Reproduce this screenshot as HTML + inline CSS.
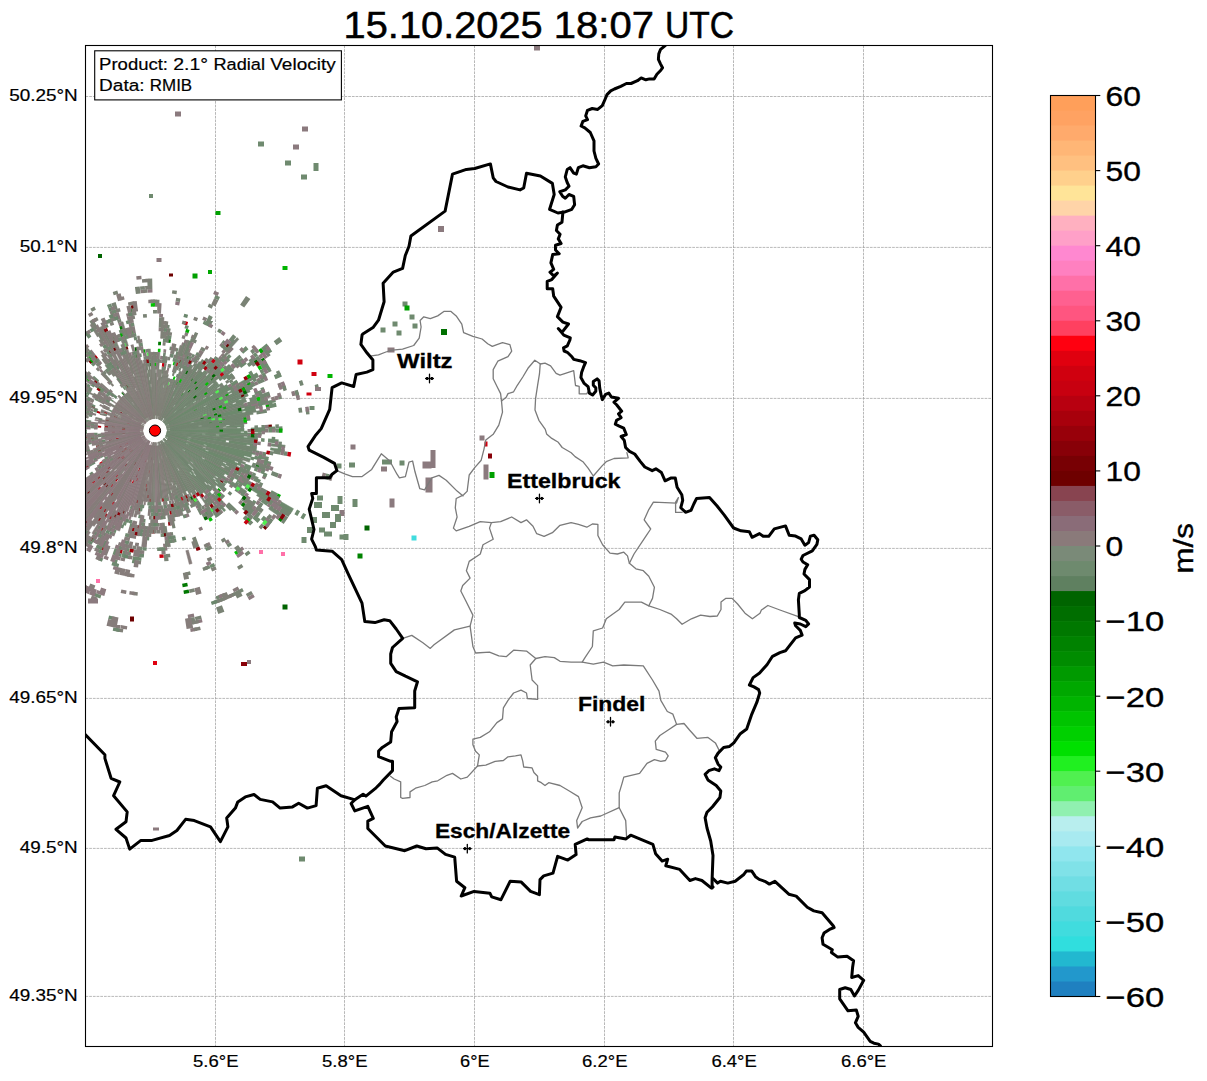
<!DOCTYPE html><html><head><meta charset="utf-8"><style>html,body{margin:0;padding:0;background:#fff;}body{width:1207px;height:1081px;overflow:hidden;position:relative;}svg{position:absolute;left:0;top:0;}text{font-family:"Liberation Sans",sans-serif;}</style></head><body>
<svg width="1207" height="1081" viewBox="0 0 1207 1081">
<defs><clipPath id="ax"><rect x="85.5" y="45.5" width="907" height="1001"/></clipPath></defs>
<text x="343.60" y="37.90" font-size="36.80" textLength="199.14" lengthAdjust="spacingAndGlyphs" stroke="#000" stroke-width="0.5">15.10.2025</text><text x="553.80" y="37.90" font-size="36.80" textLength="100.23" lengthAdjust="spacingAndGlyphs" stroke="#000" stroke-width="0.5">18:07</text><text x="665.09" y="37.90" font-size="36.80" textLength="68.95" lengthAdjust="spacingAndGlyphs" stroke="#000" stroke-width="0.5">UTC</text>
<g clip-path="url(#ax)">
<g stroke="#a0a0a0" stroke-width="0.75" stroke-dasharray="2.7 1.0" fill="none">
<path d="M85.5 96.5 H992.5"/>
<path d="M85.5 247.4 H992.5"/>
<path d="M85.5 398.4 H992.5"/>
<path d="M85.5 548.4 H992.5"/>
<path d="M85.5 698.4 H992.5"/>
<path d="M85.5 848.4 H992.5"/>
<path d="M85.5 996.4 H992.5"/>
<path d="M215.5 45.5 V1046.5"/>
<path d="M344.5 45.5 V1046.5"/>
<path d="M474.5 45.5 V1046.5"/>
<path d="M604.5 45.5 V1046.5"/>
<path d="M733.5 45.5 V1046.5"/>
<path d="M863.5 45.5 V1046.5"/>
</g>
<g><path fill="#6f8a6f" stroke="#6f8a6f" stroke-width="0.5" d="M170.5 430.8L219.5 431.3L219.5 429.9L170.5 430.4ZM223.0 431.3L244.0 431.5L244.0 429.7L223.0 429.9ZM170.5 430.5L244.0 430.0L244.0 428.1L170.5 430.2ZM251.0 429.9L265.0 429.8L265.0 427.5L251.0 427.9ZM170.5 430.0L222.9 427.8L222.9 426.3L170.5 429.6ZM226.4 427.6L243.9 426.9L243.8 425.0L226.4 426.1ZM170.2 427.5L190.8 423.4L190.6 422.6L170.1 427.2ZM194.2 422.7L242.2 413.0L241.9 411.2L194.0 421.9ZM166.7 428.0L207.7 419.0L207.5 417.9L166.7 427.8ZM221.4 416.0L255.6 408.5L255.1 406.4L221.1 414.6ZM166.7 427.8L238.2 410.8L237.7 409.0L166.6 427.6ZM245.0 409.2L275.6 401.9L275.0 399.3L244.5 407.3ZM169.9 426.2L203.4 416.3L203.1 415.3L169.8 425.9ZM206.8 415.4L243.7 404.5L243.2 402.6L206.5 414.3ZM173.0 424.6L232.8 404.7L232.2 403.1L172.9 424.2ZM166.2 426.4L248.3 395.9L247.5 394.0L166.2 426.2ZM169.2 424.4L239.9 393.9L239.1 392.1L169.1 424.1ZM168.9 423.7L194.0 411.3L193.5 410.4L168.7 423.4ZM197.1 409.7L215.9 400.4L215.3 399.1L196.7 408.8ZM219.0 398.8L234.7 391.0L233.9 389.4L218.4 397.5ZM165.6 424.9L233.3 388.3L232.4 386.6L165.4 424.7ZM239.4 384.9L257.9 375.0L256.7 372.8L238.5 383.2ZM165.5 424.7L235.6 385.2L234.6 383.5L165.3 424.5ZM168.4 422.8L228.7 387.3L227.8 385.8L168.2 422.5ZM165.2 424.3L210.1 397.0L209.3 395.8L165.1 424.1ZM164.9 423.8L222.7 384.3L221.7 382.9L164.8 423.6ZM167.5 421.4L218.2 384.0L217.2 382.7L167.3 421.1ZM164.0 422.7L206.0 385.6L205.1 384.6L163.8 422.5ZM163.6 422.2L211.1 375.7L209.9 374.5L163.4 422.0ZM165.9 419.6L195.4 389.7L194.5 388.8L165.6 419.3ZM197.8 387.2L215.0 369.7L213.7 368.5L196.9 386.3ZM163.0 421.6L188.5 392.8L187.7 392.1L162.8 421.5ZM190.9 390.2L207.1 371.9L205.9 370.8L190.0 389.5ZM225.7 351.0L235.0 340.5L233.1 338.8L224.0 349.5ZM160.9 420.2L173.0 398.9L172.4 398.5L160.7 420.0ZM174.8 395.8L186.9 374.5L185.7 373.9L174.0 395.4ZM166.0 446.1L200.5 494.6L201.8 493.6L166.3 445.9ZM164.6 442.7L219.0 511.3L220.7 510.0L164.9 442.5ZM165.0 442.4L205.9 490.4L207.1 489.3L165.3 442.2ZM212.7 498.4L224.0 511.7L225.7 510.2L214.1 497.2ZM163.7 438.9L214.4 487.1L215.6 485.9L163.9 438.7ZM164.0 438.6L190.1 461.8L190.8 461.1L164.1 438.4ZM192.8 464.1L221.6 489.7L222.8 488.3L193.5 463.3ZM166.9 440.5L212.8 478.4L213.8 477.2L167.1 440.2ZM167.4 439.8L220.8 479.5L221.8 478.1L167.6 439.6ZM167.9 439.2L223.3 476.0L224.2 474.5L168.1 438.9ZM165.2 436.9L233.8 479.1L234.8 477.4L165.4 436.7ZM248.7 488.2L266.6 499.2L268.0 496.9L249.9 486.3ZM269.6 501.1L290.4 513.9L292.1 511.1L271.0 498.7ZM168.3 438.5L201.5 458.1L202.0 457.1L168.5 438.2ZM204.5 459.9L228.6 474.1L229.5 472.6L205.1 458.8ZM252.7 488.4L270.8 499.1L272.2 496.6L253.9 486.3ZM279.8 504.4L291.9 511.5L293.5 508.7L281.3 501.8ZM168.6 438.0L220.8 466.5L221.6 465.1L168.8 437.7ZM165.7 436.0L225.2 465.7L225.9 464.3L165.8 435.7ZM166.0 435.4L236.6 466.2L237.3 464.5L166.1 435.2ZM166.1 435.2L185.5 443.3L185.7 442.6L166.2 435.0ZM188.7 444.6L240.4 466.1L241.1 464.4L189.0 443.9ZM166.2 435.0L205.2 450.5L205.6 449.4L166.2 434.8ZM208.5 451.8L234.5 462.1L235.1 460.4L208.9 450.6ZM169.8 435.3L186.5 440.6L186.7 439.9L169.9 435.0ZM189.8 441.6L249.8 460.7L250.5 458.7L190.0 440.9ZM166.5 434.0L203.4 445.0L203.7 444.0L166.6 433.8ZM206.7 446.0L243.6 457.0L244.2 455.2L207.1 444.9ZM166.6 433.8L250.8 457.4L251.4 455.3L166.6 433.6ZM166.6 433.6L186.9 438.9L187.1 438.2L166.7 433.4ZM190.3 439.8L251.3 455.7L251.8 453.7L190.5 439.1ZM170.1 434.2L255.1 454.8L255.6 452.7L170.1 433.9ZM166.8 432.6L225.5 442.5L225.7 441.0L166.9 432.4ZM228.9 443.1L246.2 446.0L246.5 444.1L229.2 441.6ZM270.4 450.1L284.2 452.4L284.6 449.7L270.7 447.7ZM170.3 432.9L225.7 441.3L225.9 439.8L170.4 432.6ZM229.2 441.8L253.4 445.5L253.7 443.4L229.4 440.3ZM170.4 432.1L257.5 440.7L257.7 438.5L170.5 431.8ZM167.0 431.6L201.8 434.4L201.9 433.4L167.0 431.3ZM219.3 435.8L243.7 437.7L243.8 435.9L219.4 434.4ZM167.0 431.1L261.4 435.4L261.5 433.2L167.0 430.9ZM170.5 431.0L240.5 433.0L240.5 431.2L170.5 430.7Z"/><path fill="#007800" d="M219.5 431.7L223.0 431.7L223.0 429.5L219.5 429.5ZM208.6 424.0L212.1 423.5L211.8 421.7L208.3 422.2ZM218.1 417.1L221.5 416.4L221.0 414.2L217.6 415.1ZM214.2 415.8L217.6 414.9L217.0 412.9L213.7 413.8ZM212.7 410.7L216.0 409.5L215.2 407.5L212.0 408.8ZM216.1 400.7L219.2 399.2L218.2 397.1L215.1 398.7ZM263.1 362.9L266.0 361.1L263.7 357.4L260.8 359.4ZM211.6 381.3L214.2 379.0L212.5 377.1L209.9 379.5ZM195.6 389.9L198.1 387.4L196.6 386.0L194.3 388.6ZM195.0 384.5L197.3 381.9L195.6 380.5L193.4 383.2ZM191.7 381.9L193.8 379.1L192.0 377.8L190.0 380.7ZM188.1 359.4L189.6 356.3L187.1 355.1L185.7 358.4ZM170.4 342.9L171.0 339.5L168.0 339.0L167.5 342.5ZM160.9 345.3L161.1 341.8L158.2 341.7L158.1 345.2ZM151.6 366.2L151.4 362.7L149.1 362.9L149.4 366.3ZM134.0 311.9L133.4 308.5L129.3 309.3L130.0 312.7ZM138.1 357.5L137.3 354.1L134.7 354.8L135.7 358.1ZM123.8 328.8L122.7 325.4L119.3 326.6L120.4 329.9ZM124.8 394.6L122.5 391.9L121.2 393.0L123.6 395.6ZM182.1 583.7L182.7 587.2L187.9 586.2L187.2 582.7ZM183.4 590.6L184.0 594.1L189.4 593.0L188.6 589.6ZM240.7 505.0L243.4 507.3L245.9 504.3L243.1 502.1ZM278.0 519.8L280.9 521.9L283.8 517.7L280.9 515.7ZM247.3 490.4L250.2 492.3L252.2 489.1L249.2 487.3ZM255.1 466.9L258.4 468.1L259.6 464.7L256.3 463.6Z"/><path fill="#877b7b" d="M247.5 432.1L251.0 432.2L251.0 429.0L247.5 429.1ZM265.0 432.4L268.5 432.5L268.5 428.7L265.0 428.8ZM265.0 428.6L268.5 428.5L268.3 424.8L264.9 424.9ZM246.6 417.6L250.1 417.2L249.6 414.0L246.1 414.6ZM257.8 402.9L261.2 402.0L260.2 398.5L256.9 399.6ZM267.4 398.3L270.8 397.3L269.6 393.5L266.3 394.5ZM278.8 387.8L282.1 386.7L280.6 382.5L277.3 383.8ZM255.5 385.8L258.6 384.3L257.1 380.9L253.9 382.5ZM251.5 385.5L254.7 384.0L253.1 380.7L249.9 382.3ZM235.9 385.7L238.9 384.0L237.3 381.2L234.3 383.0ZM237.2 368.5L240.0 366.4L237.8 363.6L235.1 365.8ZM225.1 375.7L227.8 373.6L225.9 371.2L223.2 373.5ZM233.4 369.3L236.1 367.1L234.0 364.5L231.3 366.7ZM217.8 377.8L220.4 375.6L218.6 373.4L216.0 375.8ZM224.8 369.9L227.4 367.6L225.3 365.2L222.7 367.6ZM217.9 367.6L220.4 365.1L218.1 363.0L215.8 365.6ZM228.9 353.9L233.8 348.9L231.0 346.3L226.3 351.5ZM222.8 357.8L225.2 355.2L222.6 352.9L220.3 355.6ZM223.9 354.0L226.2 351.4L223.5 349.1L221.3 351.8ZM222.0 347.8L224.2 345.1L221.3 342.8L219.2 345.6ZM200.2 358.1L203.9 352.1L201.3 350.5L197.8 356.6ZM205.8 321.3L207.3 318.2L203.6 316.5L202.2 319.7ZM185.6 358.3L187.0 355.1L184.5 354.1L183.2 357.3ZM193.8 339.0L195.2 335.8L192.0 334.5L190.7 337.7ZM183.9 346.4L185.0 343.1L182.1 342.2L181.1 345.5ZM187.3 336.5L188.4 333.2L185.2 332.1L184.2 335.5ZM172.6 354.1L173.4 350.7L170.7 350.1L170.0 353.6ZM165.9 374.1L166.6 370.7L164.6 370.4L164.0 373.8ZM163.9 373.8L164.5 370.3L162.5 370.1L162.1 373.5ZM165.0 366.9L165.6 363.4L163.3 363.1L162.9 366.6ZM161.9 331.3L162.1 327.8L158.7 327.7L158.6 331.2ZM157.2 366.1L157.3 362.6L155.1 362.6L155.1 366.1ZM157.1 306.6L157.1 303.1L152.9 303.1L152.9 306.6ZM152.7 303.1L152.6 299.6L148.3 299.8L148.4 303.3ZM145.3 292.9L145.0 289.5L140.3 289.9L140.7 293.3ZM141.6 279.2L141.3 275.7L136.2 276.2L136.6 279.7ZM139.3 357.3L138.6 353.8L136.1 354.4L136.9 357.8ZM132.8 326.4L132.0 323.0L128.5 323.8L129.3 327.2ZM131.3 319.6L130.6 316.2L126.8 317.1L127.6 320.4ZM115.9 350.6L114.4 347.5L111.6 348.9L113.3 352.0ZM99.9 331.4L98.2 328.3L94.8 330.3L96.6 333.3ZM95.8 355.0L91.5 349.5L88.9 351.6L93.4 357.0ZM97.7 362.5L95.5 359.8L93.2 361.8L95.5 364.4ZM96.6 363.5L94.3 360.8L92.0 362.9L94.4 365.5ZM89.7 355.6L87.4 352.9L84.8 355.2L87.2 357.8ZM102.9 386.9L100.2 384.7L98.7 386.5L101.5 388.7ZM84.1 371.2L81.4 369.0L79.4 371.4L82.2 373.6ZM104.1 390.9L101.4 388.8L100.0 390.6L102.9 392.6ZM79.3 371.6L76.5 369.4L74.6 372.0L77.4 374.1ZM152.0 519.5L151.9 523.0L154.9 523.1L154.9 519.6ZM151.7 526.5L151.6 530.0L154.9 530.1L154.9 526.6ZM163.3 547.3L163.5 550.8L167.5 550.5L167.1 547.0ZM161.0 498.3L161.3 501.8L163.7 501.6L163.2 498.1ZM164.1 533.2L164.4 536.7L167.9 536.3L167.5 532.8ZM169.2 497.1L169.9 500.5L172.2 500.0L171.4 496.6ZM232.5 589.2L234.0 592.3L239.4 589.6L237.7 586.5ZM194.3 498.5L196.1 501.6L198.4 500.2L196.5 497.2ZM194.8 494.2L196.7 497.1L198.8 495.7L196.9 492.8ZM224.5 541.6L226.4 544.6L230.1 542.2L228.2 539.3ZM203.5 505.2L205.4 508.1L208.0 506.4L206.0 503.5ZM206.1 503.5L208.1 506.3L210.6 504.5L208.5 501.7ZM210.0 496.0L212.3 498.7L214.5 496.8L212.2 494.2ZM221.2 490.1L223.8 492.4L225.8 490.1L223.1 487.9ZM247.3 483.8L250.3 485.5L252.1 482.3L249.0 480.7ZM254.3 485.5L260.4 488.9L262.3 485.4L256.1 482.2ZM233.6 472.3L236.7 474.0L238.1 471.2L235.0 469.7ZM239.8 475.6L242.9 477.2L244.4 474.3L241.2 472.8ZM231.2 469.3L234.3 470.9L235.6 468.3L232.5 466.8ZM242.7 469.6L245.9 471.0L247.2 468.0L244.0 466.6ZM261.9 478.1L265.1 479.5L266.7 475.8L263.4 474.5ZM260.2 462.7L263.6 463.7L264.6 460.1L261.2 459.2ZM264.1 461.8L267.5 462.8L268.5 459.0L265.1 458.2ZM328.1 480.1L331.4 481.0L333.0 475.1L329.6 474.3ZM252.0 452.9L255.4 453.7L256.1 450.3L252.7 449.7ZM257.0 444.8L260.5 445.3L260.9 441.8L257.4 441.5ZM247.3 437.0L250.8 437.2L250.9 434.0L247.4 433.9Z"/><path fill="#6e0000" d="M251.0 432.2L254.5 432.2L254.5 429.0L251.0 429.0ZM268.5 428.5L272.0 428.5L271.8 424.6L268.3 424.8ZM241.3 397.4L244.6 396.1L243.4 393.2L240.2 394.5ZM242.0 390.0L245.1 388.5L243.7 385.5L240.6 387.1ZM227.1 347.5L229.4 344.9L226.5 342.5L224.3 345.2ZM180.6 363.8L181.8 360.6L179.5 359.7L178.3 363.0ZM135.5 308.1L134.9 304.7L130.8 305.4L131.4 308.9ZM128.5 349.3L127.4 346.0L124.6 346.9L125.8 350.2ZM115.9 342.9L114.5 339.7L111.5 341.1L113.0 344.3ZM117.3 350.0L115.8 346.8L113.1 348.1L114.7 351.3ZM111.8 352.8L110.1 349.7L107.4 351.3L109.2 354.3ZM129.0 387.3L127.1 384.3L125.6 385.3L127.5 388.2ZM93.0 361.9L90.7 359.3L88.4 361.5L90.8 364.0ZM18.6 324.2L15.8 322.1L12.3 326.7L15.1 328.8ZM123.1 412.9L120.0 411.2L119.4 412.4L122.5 414.0ZM7.1 382.7L3.7 381.6L2.2 386.6L5.6 387.6ZM81.9 413.8L78.5 413.0L78.0 415.6L81.4 416.2ZM67.9 412.2L64.5 411.4L63.9 414.5L67.4 415.1ZM44.0 407.1L40.5 406.4L39.8 410.2L43.2 410.8ZM125.7 427.5L122.2 427.2L122.1 428.3L125.6 428.5ZM125.6 428.1L122.1 427.8L122.0 428.8L125.5 429.0ZM28.0 419.6L24.5 419.3L24.2 423.6L27.7 423.8ZM-38.5 417.2L-42.0 417.0L-42.4 423.5L-38.9 423.7ZM83.6 434.4L80.1 434.6L80.3 437.1L83.8 436.8ZM125.6 432.7L122.1 432.9L122.2 434.0L125.7 433.7ZM-19.8 455.3L-23.2 455.8L-22.3 461.7L-18.8 461.1ZM112.3 438.9L108.9 439.6L109.2 441.1L112.6 440.3ZM9.8 461.6L6.3 462.3L7.5 467.2L10.9 466.4ZM121.7 445.5L118.5 446.9L119.0 448.1L122.2 446.6ZM79.5 470.8L76.5 472.5L77.9 475.0L80.9 473.3ZM68.0 478.9L65.0 480.6L66.7 483.6L69.7 481.8ZM119.8 456.2L117.0 458.3L117.9 459.5L120.7 457.4ZM67.2 496.9L64.4 499.0L66.7 502.0L69.5 499.8ZM88.9 490.2L86.3 492.6L88.4 494.8L90.9 492.4ZM58.3 524.1L55.8 526.5L59.1 529.8L61.5 527.3ZM-2.0 582.5L-4.6 585.0L0.6 590.2L3.1 587.6ZM105.4 482.1L102.9 484.6L104.8 486.3L107.1 483.7ZM107.2 483.8L104.9 486.4L106.7 488.0L109.0 485.3ZM85.2 520.1L83.0 522.9L86.1 525.2L88.2 522.4ZM20.6 602.9L18.5 605.7L24.4 610.1L26.4 607.3ZM135.7 461.6L133.8 464.5L135.0 465.2L136.7 462.2ZM91.2 536.9L89.4 539.9L93.1 542.1L94.8 539.0ZM114.5 513.8L113.0 516.9L115.9 518.3L117.3 515.1ZM123.0 509.9L121.7 513.1L124.5 514.2L125.7 510.9ZM135.4 531.7L134.8 535.2L138.2 535.8L138.8 532.3ZM151.4 456.4L150.9 459.8L151.9 459.9L152.3 456.5ZM162.3 533.3L162.5 536.8L166.0 536.5L165.7 533.0ZM185.6 499.1L187.0 502.3L189.4 501.2L187.8 498.0ZM191.9 499.9L193.6 503.0L195.9 501.6L194.2 498.6ZM262.8 527.5L265.4 529.9L268.7 526.2L266.0 523.9ZM219.7 481.0L222.4 483.2L224.1 480.9L221.3 478.9Z"/><path fill="#6f8a6f" d="M254.5 432.2L265.0 432.4L265.0 428.8L254.5 429.0ZM268.5 432.5L272.0 432.5L272.0 428.7L268.5 428.7ZM275.5 432.6L279.0 432.7L279.0 428.5L275.5 428.6ZM268.5 430.5L275.5 430.5L275.4 426.5L268.4 426.7ZM279.0 430.5L282.5 430.5L282.4 426.3L278.9 426.4ZM245.8 412.9L256.1 410.9L255.4 407.5L245.1 409.9ZM269.8 408.2L276.7 406.8L275.8 402.8L269.0 404.4ZM211.2 418.6L218.1 417.1L217.6 415.1L210.8 416.7ZM259.2 408.4L262.6 407.6L261.8 404.1L258.4 404.9ZM269.4 406.2L272.8 405.4L271.9 401.6L268.5 402.4ZM296.3 397.9L299.7 397.1L298.5 392.3L295.1 393.2ZM250.6 403.1L257.3 401.2L256.3 397.8L249.7 399.9ZM260.7 400.2L267.4 398.3L266.3 394.5L259.6 396.7ZM236.3 404.1L246.3 400.9L245.2 397.8L235.4 401.4ZM252.9 398.7L256.3 397.6L255.1 394.3L251.8 395.5ZM259.6 396.5L262.9 395.4L261.7 391.9L258.4 393.1ZM282.9 388.9L286.2 387.8L284.7 383.5L281.4 384.7ZM261.6 391.7L264.9 390.5L263.5 386.9L260.3 388.2ZM243.3 393.0L253.0 388.9L251.6 385.7L242.0 390.1ZM275.5 379.3L282.0 376.6L280.1 372.4L273.8 375.3ZM238.1 390.0L244.4 386.9L242.9 384.0L236.7 387.2ZM247.5 385.4L250.7 383.8L249.1 380.7L246.0 382.3ZM253.8 382.3L257.0 380.8L255.3 377.4L252.2 379.0ZM263.3 377.7L266.4 376.1L264.5 372.5L261.4 374.1ZM261.3 373.9L264.4 372.3L262.4 368.7L259.4 370.4ZM267.5 370.6L270.6 369.0L268.5 365.2L265.5 366.9ZM251.2 377.2L254.2 375.5L252.3 372.2L249.3 374.0ZM263.4 370.4L269.5 367.0L267.3 363.2L261.3 366.8ZM232.0 386.0L238.1 382.5L236.5 379.8L230.5 383.5ZM250.2 375.5L253.2 373.8L251.3 370.5L248.3 372.4ZM262.3 368.5L268.4 365.0L266.2 361.3L260.2 365.0ZM213.3 395.5L216.3 393.7L215.0 391.7L212.1 393.6ZM219.3 391.9L228.2 386.5L226.7 384.1L217.9 389.8ZM261.2 366.6L264.2 364.8L262.0 361.3L259.1 363.2ZM228.7 380.8L234.5 376.8L232.7 374.2L227.0 378.3ZM249.0 367.0L254.8 363.1L252.5 359.9L246.9 364.0ZM257.7 361.2L260.6 359.2L258.2 355.7L255.4 357.8ZM266.4 355.3L272.2 351.4L269.5 347.5L263.9 351.6ZM224.1 380.3L229.8 376.2L227.9 373.7L222.4 378.0ZM241.1 367.9L246.8 363.8L244.5 360.8L239.0 365.1ZM255.3 357.6L258.1 355.6L255.5 352.2L252.8 354.3ZM263.7 351.4L269.4 347.3L266.6 343.6L261.1 347.9ZM208.9 383.6L211.6 381.3L209.9 379.5L207.3 381.9ZM216.8 376.7L222.1 372.2L220.1 370.0L215.0 374.7ZM243.2 353.8L248.5 349.2L245.8 346.1L240.6 350.9ZM216.5 371.2L221.5 366.3L219.3 364.1L214.4 369.1ZM224.0 363.9L231.5 356.6L229.0 354.1L221.7 361.6ZM222.8 362.7L225.3 360.2L222.9 357.9L220.5 360.4ZM209.8 369.6L214.5 364.4L212.3 362.5L207.8 367.8ZM216.8 361.8L219.2 359.2L216.8 357.1L214.5 359.8ZM188.9 371.7L192.4 365.6L190.3 364.4L187.0 370.6ZM194.2 362.6L195.9 359.6L193.6 358.2L191.9 361.3ZM197.7 356.5L199.4 353.5L196.9 352.1L195.2 355.1ZM189.4 360.0L190.9 356.9L188.4 355.7L187.0 358.9ZM183.1 357.3L184.3 354.0L181.8 353.1L180.6 356.4ZM176.9 358.9L178.9 352.2L176.3 351.4L174.5 358.2ZM177.5 351.8L178.5 348.4L175.8 347.7L174.9 351.1ZM170.5 368.0L171.4 364.6L169.2 364.1L168.5 367.5ZM172.0 350.4L172.7 347.0L169.9 346.4L169.3 349.9ZM165.5 370.5L166.1 367.1L164.0 366.7L163.5 370.2ZM166.7 363.6L167.4 360.2L165.0 359.8L164.5 363.3ZM163.7 359.6L164.1 356.2L161.6 355.9L161.3 359.4ZM165.8 342.3L166.2 338.8L163.1 338.5L162.8 341.9ZM136.6 336.4L135.9 332.9L132.7 333.6L133.5 337.0ZM133.3 337.1L132.5 333.7L129.3 334.5L130.2 337.8ZM130.2 323.4L129.4 320.0L125.7 320.9L126.6 324.3ZM136.8 357.8L135.9 354.4L133.4 355.1L134.4 358.5ZM126.3 342.7L125.3 339.3L122.2 340.4L123.4 343.7ZM123.1 332.7L122.0 329.3L118.7 330.5L119.9 333.8ZM122.5 336.5L121.4 333.2L118.2 334.4L119.4 337.7ZM113.0 321.4L111.7 318.1L108.0 319.6L109.4 322.9ZM129.7 386.9L128.0 383.9L126.4 384.8L128.3 387.8ZM118.9 373.0L117.1 370.0L115.1 371.3L117.0 374.2ZM113.3 364.1L111.5 361.1L109.2 362.6L111.2 365.5ZM70.3 326.1L68.1 323.4L64.6 326.4L66.8 329.0ZM95.4 364.5L93.0 361.9L90.8 364.0L93.2 366.5ZM52.4 338.3L49.8 336.0L46.7 339.6L49.4 341.8ZM61.3 349.3L58.7 347.0L56.0 350.3L58.7 352.5ZM103.5 391.8L100.7 389.7L99.3 391.5L102.2 393.6ZM68.8 368.1L63.1 364.0L61.0 367.0L66.8 371.0ZM72.5 375.0L69.6 373.1L67.7 375.9L70.7 377.8ZM80.3 382.2L77.4 380.3L75.8 382.9L78.8 384.7ZM84.7 388.4L81.7 386.6L80.3 389.1L83.3 390.8ZM63.7 375.8L60.7 374.0L58.8 377.2L61.9 378.9ZM102.1 400.1L99.1 398.4L98.1 400.3L101.2 401.9ZM84.0 389.7L80.9 387.9L79.5 390.4L82.6 392.0ZM71.8 382.7L68.8 380.9L67.2 383.8L70.3 385.5ZM65.8 379.2L62.7 377.4L61.0 380.5L64.1 382.2ZM98.6 399.4L95.5 397.7L94.4 399.7L97.6 401.3ZM22.0 357.0L18.9 355.3L16.5 359.9L19.6 361.5ZM72.5 388.7L69.4 387.1L68.0 390.0L71.2 391.4ZM65.5 387.1L62.4 385.5L60.9 388.6L64.1 390.1ZM59.2 384.0L56.1 382.5L54.5 385.8L57.7 387.2ZM31.1 378.2L27.9 376.8L26.2 381.0L29.5 382.3ZM85.0 403.8L78.4 401.3L77.5 403.8L84.1 406.1ZM107.2 414.2L103.9 413.1L103.4 414.8L106.7 415.8ZM90.7 408.5L87.4 407.4L86.6 409.6L90.0 410.7ZM84.1 406.2L80.8 405.1L80.0 407.6L83.3 408.6ZM7.9 380.1L4.6 379.0L3.0 384.0L6.3 385.0ZM83.7 407.5L80.3 406.4L79.6 408.9L82.9 409.9ZM90.0 410.8L86.6 409.8L86.0 412.0L89.3 412.9ZM66.5 403.6L63.2 402.6L62.3 405.7L65.7 406.6ZM89.6 411.9L86.3 411.0L85.6 413.2L89.0 414.1ZM82.9 410.0L79.5 409.0L78.8 411.5L82.2 412.4ZM85.9 412.2L82.5 411.3L81.9 413.7L85.3 414.5ZM55.0 405.8L51.6 404.9L50.8 408.4L54.3 409.1ZM24.5 398.2L17.7 396.5L16.6 401.1L23.5 402.5ZM23.9 400.5L20.5 399.7L19.6 404.2L23.0 404.8ZM-13.6 391.8L-17.0 391.0L-18.2 396.8L-14.8 397.4ZM71.4 412.9L67.9 412.2L67.4 415.1L70.8 415.7ZM46.7 411.6L43.2 411.0L42.6 414.7L46.1 415.2ZM22.5 407.4L19.1 406.8L18.4 411.3L21.8 411.8ZM91.3 420.6L84.4 419.5L84.0 421.8L91.0 422.7ZM35.7 413.9L32.2 413.4L31.7 417.5L35.2 417.9ZM35.4 416.0L31.9 415.6L31.5 419.7L35.0 420.0ZM63.0 421.0L59.5 420.6L59.2 423.8L62.7 424.1ZM-41.4 410.1L-44.9 409.8L-45.5 416.4L-42.0 416.7ZM-45.5 416.8L-49.0 416.5L-49.4 423.3L-45.9 423.4ZM48.6 425.1L45.1 424.9L45.0 428.6L48.5 428.6ZM38.1 426.6L31.1 426.4L31.0 430.5L38.0 430.5ZM24.1 426.1L20.6 426.0L20.5 430.5L24.0 430.5ZM83.5 430.7L80.0 430.7L80.0 433.2L83.5 433.0ZM27.5 432.9L24.0 433.0L24.2 437.3L27.7 437.2ZM97.5 432.7L94.0 432.8L94.1 434.8L97.6 434.6ZM38.1 434.8L34.6 434.9L34.8 438.9L38.3 438.7ZM97.6 433.7L94.1 433.8L94.2 435.9L97.7 435.6ZM80.1 434.6L76.6 434.8L76.8 437.4L80.3 437.1ZM66.3 438.4L62.9 438.7L63.2 441.8L66.7 441.4ZM59.4 439.1L55.9 439.4L56.2 442.6L59.7 442.2ZM97.9 437.7L94.5 438.1L94.7 440.1L98.2 439.5ZM18.0 447.5L14.6 448.0L15.2 452.6L18.7 452.1ZM94.6 439.1L91.1 439.6L91.5 441.7L94.9 441.1ZM56.5 444.5L53.0 445.0L53.5 448.4L57.0 447.8ZM42.6 446.5L39.2 447.0L39.8 450.8L43.2 450.2ZM-5.5 456.2L-8.9 456.7L-8.0 462.1L-4.5 461.5ZM-12.4 457.3L-15.8 457.8L-14.9 463.5L-11.4 462.8ZM26.0 453.5L22.6 454.1L23.4 458.4L26.8 457.7ZM-1.6 458.3L-5.0 459.0L-4.0 464.2L-0.6 463.5ZM26.4 455.7L23.0 456.4L23.9 460.7L27.3 460.0ZM16.1 457.7L12.7 458.4L13.7 463.1L17.1 462.3ZM-11.4 463.1L-14.8 463.8L-13.6 469.4L-10.2 468.6ZM26.9 457.9L23.5 458.7L24.5 463.0L27.9 462.2ZM16.6 460.1L13.2 460.9L14.3 465.6L17.7 464.7ZM-14.2 466.7L-17.6 467.4L-16.3 473.1L-12.9 472.3ZM-6.7 468.1L-10.1 468.9L-8.8 474.3L-5.4 473.4ZM51.7 456.5L44.9 458.2L45.9 461.8L52.6 459.9ZM48.8 459.2L45.4 460.1L46.4 463.7L49.8 462.7ZM66.1 456.2L62.7 457.1L63.7 460.2L67.0 459.1ZM52.7 460.0L49.3 461.0L50.4 464.5L53.7 463.4ZM19.0 469.7L15.7 470.7L17.1 475.3L20.4 474.2ZM12.3 471.7L8.9 472.6L10.4 477.4L13.7 476.4ZM46.5 463.9L43.1 464.9L44.3 468.6L47.7 467.5ZM3.8 479.9L0.5 481.0L2.3 486.0L5.5 484.9ZM74.2 458.5L70.9 459.6L71.9 462.4L75.2 461.2ZM27.9 474.5L21.2 476.8L22.9 481.2L29.4 478.7ZM3.3 489.0L0.1 490.2L2.1 495.3L5.4 494.0ZM69.3 465.3L66.0 466.6L67.3 469.6L70.5 468.1ZM98.9 454.5L95.6 455.9L96.5 457.8L99.7 456.3ZM28.0 484.6L24.8 486.0L26.7 490.3L29.9 488.8ZM60.9 472.6L57.7 474.0L59.2 477.2L62.4 475.7ZM-57.3 525.4L-60.5 526.8L-57.2 533.9L-54.1 532.3ZM96.6 457.9L93.4 459.4L94.4 461.4L97.5 459.8ZM78.2 468.1L75.0 469.7L76.4 472.3L79.5 470.7ZM53.0 480.4L49.9 482.0L51.6 485.4L54.7 483.8ZM63.3 477.4L60.2 479.0L61.8 482.2L64.9 480.5ZM-36.5 528.4L-39.6 530.0L-36.2 536.4L-33.1 534.7ZM76.5 472.5L73.4 474.1L74.9 476.8L77.9 475.0ZM51.7 485.6L48.7 487.3L50.6 490.8L53.6 489.0ZM-28.6 528.4L-31.7 530.1L-28.3 536.2L-25.2 534.4ZM107.8 456.8L104.7 458.5L105.7 460.2L108.7 458.4ZM105.2 459.4L102.2 461.1L103.2 462.9L106.2 461.0ZM-25.0 534.8L-28.1 536.5L-24.5 542.5L-21.5 540.7ZM105.7 460.3L102.7 462.1L103.8 463.8L106.7 461.9ZM100.3 464.8L97.4 466.7L98.6 468.6L101.5 466.6ZM112.7 458.1L109.7 460.1L110.7 461.5L113.6 459.5ZM52.3 500.0L49.4 502.0L51.8 505.5L54.6 503.4ZM37.8 515.9L32.1 520.1L35.1 524.1L40.7 519.8ZM60.1 510.4L57.4 512.6L60.2 515.8L62.8 513.5ZM34.3 539.4L31.7 541.8L35.5 545.8L38.0 543.4ZM70.9 511.9L68.4 514.4L71.2 517.2L73.7 514.7ZM68.9 519.9L66.5 522.4L69.6 525.3L71.9 522.7ZM1.4 595.7L-1.0 598.2L4.6 603.3L6.9 600.7ZM76.8 517.6L74.4 520.2L77.5 522.8L79.7 520.2ZM60.4 535.8L58.1 538.4L61.7 541.6L64.0 538.9ZM86.0 529.4L84.0 532.2L87.4 534.5L89.3 531.6ZM105.1 524.7L103.4 527.8L106.7 529.4L108.2 526.3ZM100.2 534.0L98.5 537.0L102.1 538.9L103.6 535.7ZM97.2 544.3L95.6 547.4L99.5 549.3L101.0 546.1ZM113.2 524.7L111.8 527.9L115.0 529.3L116.3 526.1ZM113.5 528.7L112.1 531.9L115.5 533.3L116.7 530.0ZM93.1 592.2L91.9 595.4L97.4 597.4L98.5 594.1ZM96.0 593.2L94.8 596.5L100.3 598.4L101.4 595.1ZM123.8 521.4L122.7 524.7L125.8 525.7L126.9 522.4ZM114.7 547.9L112.5 554.5L116.6 555.8L118.6 549.2ZM113.5 558.6L111.4 565.2L115.9 566.6L117.8 559.9ZM119.9 545.9L118.8 549.2L122.8 550.3L123.7 547.0ZM125.7 533.0L124.8 536.4L128.3 537.3L129.1 533.9ZM131.0 527.2L130.2 530.6L133.5 531.3L134.2 527.9ZM126.0 547.5L125.1 550.9L129.1 551.9L129.8 548.4ZM133.0 556.2L131.8 563.1L136.2 563.8L137.1 556.8ZM142.7 518.7L142.2 522.2L145.3 522.6L145.6 519.1ZM141.2 529.1L140.8 532.6L144.1 533.0L144.5 529.5ZM138.3 549.9L137.8 553.4L141.9 553.9L142.3 550.4ZM137.4 556.9L136.9 560.3L141.2 560.9L141.6 557.4ZM144.3 533.0L144.0 536.5L147.5 536.8L147.7 533.3ZM145.8 536.7L145.5 540.2L149.1 540.4L149.3 536.9ZM149.6 508.9L149.4 512.4L152.1 512.5L152.2 509.0ZM148.1 529.9L147.9 533.4L151.3 533.5L151.4 530.0ZM150.2 523.0L150.1 526.5L153.2 526.6L153.3 523.1ZM157.6 502.1L157.7 505.6L160.2 505.4L159.9 501.9ZM159.2 509.0L159.4 512.5L162.1 512.3L161.8 508.8ZM161.2 547.4L161.4 550.9L165.4 550.7L165.1 547.2ZM172.3 539.2L172.9 542.7L176.6 542.0L175.9 538.6ZM169.4 504.2L170.0 507.6L172.6 507.1L171.8 503.7ZM173.2 503.4L174.1 506.8L176.6 506.1L175.6 502.7ZM180.4 508.6L181.5 511.9L184.2 511.0L183.0 507.7ZM185.8 506.6L187.1 509.8L189.7 508.7L188.3 505.5ZM209.4 565.0L210.7 568.2L215.3 566.3L213.9 563.1ZM204.9 547.9L206.3 551.1L210.3 549.4L208.8 546.2ZM161.9 440.4L163.9 443.3L164.3 443.0L162.2 440.2ZM204.1 500.6L206.1 503.5L208.5 501.7L206.4 498.9ZM210.1 509.2L216.2 517.8L219.0 515.7L212.7 507.3ZM207.8 493.4L210.0 496.0L212.2 494.2L209.8 491.6ZM246.8 519.1L249.3 521.5L252.3 518.3L249.7 516.0ZM242.0 508.8L249.8 515.8L252.6 512.6L244.6 505.9ZM252.4 518.2L257.6 522.9L260.6 519.4L255.3 514.9ZM215.2 481.0L223.2 487.7L225.1 485.5L216.8 479.0ZM244.7 505.7L252.7 512.5L255.4 509.2L247.1 502.7ZM255.4 514.7L258.1 517.0L260.9 513.5L258.2 511.3ZM260.8 519.2L268.8 526.0L271.9 522.1L263.7 515.7ZM223.3 482.0L226.1 484.1L227.9 481.7L225.0 479.7ZM234.5 490.4L237.3 492.5L239.3 489.8L236.5 487.7ZM240.1 494.6L242.9 496.7L245.1 493.8L242.2 491.8ZM251.3 503.0L254.1 505.1L256.5 501.8L253.6 499.8ZM256.9 507.2L259.7 509.3L262.2 505.8L259.4 503.8ZM228.8 480.3L231.7 482.3L233.4 479.7L230.4 477.8ZM234.6 484.2L237.5 486.2L239.3 483.4L236.4 481.5ZM260.8 501.8L266.6 505.7L269.0 502.0L263.1 498.3ZM269.5 507.7L272.4 509.6L274.9 505.7L272.0 503.8ZM275.3 511.6L278.2 513.5L280.9 509.4L277.9 507.5ZM236.5 481.4L245.4 487.0L247.2 483.9L238.1 478.7ZM234.3 478.2L237.3 480.0L238.9 477.2L235.9 475.5ZM243.3 483.6L249.3 487.2L251.2 484.0L245.0 480.6ZM294.4 514.2L297.4 516.0L300.1 511.2L297.1 509.5ZM300.4 517.8L303.4 519.6L306.2 514.6L303.2 512.9ZM223.7 468.6L229.8 472.0L231.1 469.5L224.9 466.3ZM232.9 473.7L235.9 475.4L237.4 472.7L234.3 471.1ZM239.0 477.1L245.1 480.5L246.7 477.4L240.5 474.3ZM269.6 494.0L275.8 497.4L277.9 493.4L271.7 490.2ZM228.1 467.8L231.2 469.3L232.5 466.8L229.3 465.3ZM234.3 470.9L240.6 474.1L242.0 471.2L235.6 468.3ZM253.1 480.5L259.3 483.6L261.0 480.1L254.7 477.2ZM239.5 468.1L242.7 469.6L244.0 466.6L240.7 465.3ZM245.9 471.0L249.1 472.4L250.5 469.3L247.2 468.0ZM243.4 468.0L249.8 470.8L251.1 467.6L244.6 465.1ZM262.7 476.2L266.0 477.6L267.5 473.9L264.2 472.6ZM237.5 463.9L240.8 465.2L241.9 462.3L238.6 461.1ZM244.0 466.5L250.5 469.1L251.8 465.9L245.2 463.5ZM253.8 470.4L257.0 471.7L258.3 468.3L255.0 467.1ZM260.3 473.0L263.5 474.3L264.9 470.7L261.6 469.5ZM263.0 465.6L266.3 466.7L267.4 462.9L264.1 462.0ZM250.2 459.6L253.5 460.6L254.5 457.3L251.1 456.4ZM263.6 463.7L270.3 465.7L271.4 461.9L264.6 460.1ZM254.0 458.9L260.8 460.8L261.7 457.3L254.9 455.6ZM324.7 479.1L328.1 480.1L329.6 474.3L326.2 473.4ZM257.9 458.1L268.0 460.8L269.0 457.0L258.7 454.6ZM258.4 456.3L261.8 457.1L262.6 453.6L259.2 452.8ZM249.6 447.2L256.5 448.4L257.0 445.0L250.1 444.0ZM277.5 449.9L280.9 450.4L281.5 446.2L278.1 445.8ZM260.9 441.6L264.4 442.0L264.7 438.4L261.2 438.1ZM267.9 442.4L278.3 443.5L278.7 439.4L268.2 438.6ZM205.3 435.0L215.8 435.9L215.9 433.8L205.4 433.3ZM247.2 438.6L257.6 439.5L257.9 436.1L247.4 435.5ZM271.6 440.7L275.1 441.0L275.3 437.0L271.8 436.8ZM243.9 433.6L247.4 433.7L247.5 430.7L244.0 430.7ZM257.9 434.1L261.4 434.2L261.5 430.7L258.0 430.7Z"/><path fill="#8a7c7c" d="M272.0 432.5L275.5 432.6L275.5 428.6L272.0 428.7ZM243.5 421.2L247.0 420.9L246.6 417.8L243.1 418.3ZM255.7 409.1L259.2 408.4L258.4 404.9L255.0 405.8ZM266.0 406.9L269.4 406.2L268.5 402.4L265.2 403.2ZM271.9 401.3L275.3 400.5L274.2 396.5L270.9 397.5ZM255.0 394.1L258.3 392.9L257.0 389.5L253.8 390.8ZM257.8 382.5L261.0 381.1L259.3 377.6L256.2 379.2ZM244.4 386.9L247.5 385.4L246.0 382.3L242.9 384.0ZM236.6 387.1L239.7 385.5L238.2 382.7L235.1 384.4ZM254.8 363.1L257.7 361.2L255.4 357.8L252.5 359.9ZM260.6 359.2L263.5 357.3L261.0 353.7L258.2 355.7ZM262.2 355.4L265.1 353.4L262.5 349.7L259.7 351.9ZM256.8 353.8L259.6 351.7L256.9 348.2L254.2 350.4ZM227.8 373.6L230.6 371.4L228.6 369.0L225.9 371.2ZM238.9 365.0L241.6 362.8L239.3 360.0L236.6 362.2ZM254.0 350.3L256.7 348.1L253.9 344.7L251.3 347.0ZM215.1 380.1L217.8 377.8L216.0 375.8L213.4 378.1ZM241.9 352.2L244.5 349.9L241.8 347.0L239.2 349.4ZM212.4 377.0L214.9 374.6L213.0 372.7L210.6 375.1ZM211.4 376.0L216.5 371.2L214.4 369.1L209.6 374.2ZM225.3 360.2L227.8 357.7L225.3 355.3L222.9 357.9ZM208.5 373.1L210.9 370.6L208.9 368.8L206.6 371.4ZM207.5 372.2L209.8 369.6L207.8 367.8L205.5 370.5ZM202.2 367.9L204.3 365.1L202.1 363.5L200.1 366.3ZM207.2 350.0L209.1 347.1L206.3 345.4L204.5 348.4ZM200.8 354.3L202.6 351.3L199.9 349.7L198.2 352.8ZM189.0 363.7L190.6 360.6L188.2 359.5L186.8 362.7ZM183.7 368.9L185.2 365.8L183.0 364.8L181.6 368.0ZM189.7 352.5L191.1 349.3L188.4 348.1L187.1 351.4ZM184.3 357.8L185.7 354.5L183.1 353.6L181.9 356.9ZM176.2 351.4L177.1 348.0L174.3 347.3L173.5 350.7ZM167.9 374.6L168.7 371.2L166.7 370.7L166.0 374.2ZM174.2 347.3L174.9 343.9L172.1 343.3L171.4 346.7ZM165.9 352.9L166.3 349.4L163.6 349.1L163.3 352.5ZM165.3 331.6L165.7 328.2L162.3 327.9L162.0 331.3ZM166.0 324.7L166.4 321.2L162.8 320.9L162.5 324.4ZM153.6 355.6L153.6 352.1L151.0 352.2L151.1 355.7ZM130.6 316.2L129.8 312.8L126.0 313.7L126.8 317.1ZM134.6 354.8L133.7 351.4L131.1 352.2L132.1 355.5ZM74.4 285.5L71.0 279.4L66.0 282.2L69.6 288.2ZM89.4 346.7L87.2 344.0L84.4 346.3L86.6 349.0ZM102.2 367.8L100.0 365.2L97.8 367.0L100.2 369.6ZM82.1 373.7L79.3 371.6L77.4 374.1L80.2 376.2ZM160.5 508.9L160.8 512.4L163.5 512.2L163.1 508.7ZM163.0 543.8L163.3 547.3L167.1 547.0L166.8 543.5ZM171.4 507.4L172.1 510.8L174.8 510.2L173.9 506.8ZM173.5 510.5L174.3 513.9L177.1 513.2L176.2 509.8ZM178.3 498.2L179.5 501.5L181.8 500.6L180.6 497.4ZM184.0 514.7L185.2 518.0L188.1 517.0L186.8 513.7ZM216.7 599.7L217.9 603.0L223.6 600.8L222.3 597.6ZM198.4 527.9L199.8 531.1L203.1 529.5L201.6 526.4ZM205.5 543.8L207.0 547.0L210.8 545.2L209.3 542.1ZM191.4 496.2L193.1 499.2L195.4 497.9L193.6 494.9ZM218.5 511.7L220.6 514.5L223.4 512.2L221.1 509.6ZM211.1 499.7L213.3 502.4L215.6 500.5L213.3 497.8ZM212.0 489.5L214.4 492.1L216.5 490.0L213.9 487.6ZM238.1 502.7L240.7 505.0L243.1 502.1L240.4 499.9ZM243.3 502.0L246.0 504.2L248.4 501.1L245.6 499.0ZM254.2 510.8L256.9 513.0L259.6 509.5L256.8 507.4ZM228.9 486.2L231.7 488.3L233.6 485.7L230.7 483.7ZM237.3 492.5L240.1 494.6L242.2 491.8L239.3 489.8ZM270.9 517.8L273.7 519.9L276.6 515.9L273.7 513.9ZM227.9 481.6L230.8 483.6L232.5 481.0L229.6 479.1ZM237.5 486.2L240.4 488.1L242.3 485.3L239.3 483.4ZM257.9 499.9L260.8 501.8L263.1 498.3L260.1 496.4ZM266.6 505.7L269.5 507.7L272.0 503.8L269.0 502.0ZM272.4 509.6L275.3 511.6L277.9 507.5L274.9 505.7ZM278.2 513.5L284.0 517.4L286.8 513.1L280.9 509.4ZM226.7 477.1L229.7 479.0L231.2 476.5L228.2 474.7ZM228.3 474.6L234.3 478.2L235.9 475.5L229.7 472.1ZM237.3 480.0L240.3 481.8L242.0 478.9L238.9 477.2ZM276.4 503.4L279.4 505.2L281.8 501.0L278.7 499.3ZM229.1 473.3L232.1 475.0L233.5 472.5L230.5 470.8ZM245.1 480.5L248.2 482.2L249.8 479.0L246.7 477.4ZM240.6 474.1L243.7 475.7L245.1 472.7L242.0 471.2ZM249.9 478.9L253.1 480.5L254.7 477.2L251.5 475.7ZM248.4 474.0L251.6 475.5L253.0 472.3L249.8 470.9ZM256.3 463.4L259.6 464.5L260.7 461.0L257.3 460.0ZM266.3 466.7L269.6 467.7L270.8 463.9L267.4 462.9ZM321.3 478.1L324.7 479.1L326.2 473.4L322.8 472.6ZM261.8 457.1L265.2 458.0L266.0 454.3L262.6 453.6ZM280.2 454.8L283.6 455.5L284.4 451.2L280.9 450.7ZM253.5 444.4L257.0 444.8L257.4 441.5L253.9 441.1Z"/><path fill="#00a800" d="M279.0 432.7L282.5 432.7L282.5 428.5L279.0 428.5ZM215.9 427.4L219.4 427.2L219.3 425.0L215.8 425.3ZM219.1 423.8L222.6 423.4L222.3 421.2L218.9 421.7ZM243.3 419.7L246.8 419.2L246.4 416.2L242.9 416.8ZM222.3 421.1L225.8 420.6L225.4 418.2L222.0 418.9ZM266.4 408.8L269.8 408.2L269.0 404.4L265.6 405.2ZM207.8 419.3L211.2 418.6L210.8 416.7L207.4 417.6ZM223.4 409.6L226.7 408.6L225.9 406.2L222.6 407.4ZM219.3 408.4L222.6 407.3L221.8 405.0L218.5 406.3ZM242.7 391.5L245.9 390.1L244.5 387.1L241.3 388.6ZM226.1 397.4L229.3 395.9L228.1 393.4L225.0 395.0ZM248.3 387.0L251.5 385.5L249.9 382.3L246.8 383.9ZM194.1 411.5L197.2 410.0L196.5 408.6L193.4 410.2ZM248.1 378.9L251.2 377.2L249.3 374.0L246.3 375.8ZM204.9 395.6L207.8 393.6L206.5 391.8L203.7 393.9ZM260.9 353.5L263.7 351.4L261.1 347.9L258.3 350.0ZM181.8 396.3L183.9 393.5L182.7 392.6L180.6 395.4ZM177.1 385.2L178.6 382.0L177.0 381.3L175.6 384.5ZM188.4 333.2L189.6 329.9L186.2 328.8L185.2 332.1ZM145.4 352.7L144.9 349.2L142.2 349.6L142.8 353.1ZM124.2 336.0L123.1 332.7L119.9 333.8L121.1 337.1ZM116.0 339.0L114.7 335.8L111.6 337.2L113.0 340.4ZM94.3 360.8L92.0 358.2L89.6 360.3L92.0 362.9ZM204.5 512.8L206.3 515.8L209.1 514.1L207.2 511.2ZM216.6 489.9L219.1 492.4L221.1 490.2L218.5 487.9ZM275.8 497.4L278.8 499.1L281.0 494.9L277.9 493.4Z"/><path fill="#748672" stroke="#748672" stroke-width="0.5" d="M167.0 430.3L237.0 428.6L236.9 426.9L167.0 430.1ZM170.5 429.7L215.9 427.0L215.8 425.7L170.5 429.4ZM229.9 426.2L243.8 425.3L243.7 423.5L229.8 424.6ZM167.0 429.7L243.7 423.8L243.6 421.9L166.9 429.4ZM166.9 429.5L198.3 426.5L198.2 425.6L166.9 429.2ZM201.8 426.2L243.6 422.2L243.4 420.4L201.7 425.2ZM170.4 428.9L219.1 423.4L218.9 422.1L170.4 428.6ZM222.6 423.0L243.4 420.7L243.2 418.8L222.4 421.6ZM170.4 428.6L208.6 423.6L208.4 422.5L170.3 428.3ZM212.0 423.2L243.3 419.1L243.0 417.3L211.9 422.0ZM170.3 428.3L222.3 420.7L222.0 419.3L170.3 428.0ZM225.7 420.2L246.5 417.1L246.2 415.2L225.5 418.7ZM166.8 428.6L218.6 420.1L218.4 418.7L166.8 428.4ZM222.1 419.5L253.2 414.3L252.8 412.3L221.8 418.1ZM166.8 428.4L211.6 420.2L211.3 419.0L166.8 428.2ZM215.0 419.6L256.3 412.0L255.9 409.9L214.8 418.3ZM170.0 426.7L200.5 418.9L200.3 418.0L169.9 426.4ZM217.5 414.6L251.4 405.9L250.8 403.8L217.1 413.3ZM166.5 427.0L223.2 409.2L222.8 407.8L166.4 426.8ZM226.6 408.2L246.6 401.9L246.0 400.0L226.1 406.7ZM169.6 425.5L212.5 410.3L212.1 409.1L169.5 425.1ZM222.4 406.9L238.9 401.0L238.3 399.3L221.9 405.4ZM166.2 426.2L224.8 403.2L224.2 401.8L166.1 426.0ZM228.1 402.0L241.1 396.8L240.4 395.1L227.5 400.4ZM169.3 424.7L243.8 394.0L243.0 392.2L169.2 424.4ZM169.1 424.2L239.2 392.4L238.4 390.6L169.0 423.9ZM165.8 425.5L203.8 407.4L203.3 406.4L165.7 425.2ZM206.9 405.9L219.6 399.9L218.9 398.6L206.4 404.9ZM165.7 425.1L227.8 392.9L227.0 391.3L165.5 424.9ZM243.3 384.8L258.9 376.8L257.7 374.6L242.4 383.0ZM165.1 424.2L203.5 399.8L202.9 398.8L165.0 424.0ZM206.5 397.9L224.2 386.7L223.3 385.2L205.8 396.8ZM164.8 423.6L193.3 403.4L192.7 402.6L164.6 423.4ZM207.6 393.2L219.0 385.1L218.0 383.8L206.8 392.1ZM164.5 423.3L184.0 408.4L183.5 407.8L164.4 423.1ZM186.8 406.3L217.4 382.9L216.3 381.6L186.3 405.6ZM220.1 380.8L234.0 370.2L232.8 368.5L219.1 379.4ZM167.1 421.0L208.3 388.4L207.4 387.3L166.9 420.7ZM164.3 423.0L194.0 398.5L193.3 397.7L164.1 422.8ZM196.7 396.3L221.1 376.3L219.9 375.0L196.0 395.5ZM164.1 422.8L214.8 379.7L213.7 378.5L164.0 422.6ZM163.9 422.5L174.2 413.1L173.8 412.7L163.7 422.3ZM176.8 410.7L213.0 377.7L211.8 376.5L176.4 410.3ZM163.7 422.4L212.0 376.7L210.9 375.5L163.5 422.2ZM165.1 418.8L187.9 392.3L187.1 391.6L164.8 418.6ZM197.0 381.6L206.1 371.0L204.8 369.9L195.9 380.8ZM162.6 421.4L202.8 372.8L201.6 371.8L162.5 421.2ZM164.7 418.5L173.4 407.5L172.9 407.2L164.4 418.3ZM175.6 404.8L201.8 372.0L200.6 371.0L175.0 404.4ZM164.5 418.3L181.5 396.1L180.8 395.6L164.2 418.1ZM185.8 390.6L207.2 362.9L205.7 361.8L185.0 390.0ZM163.8 417.8L203.6 360.2L202.1 359.2L163.5 417.7ZM161.6 420.6L200.4 362.3L198.9 361.4L161.4 420.5ZM160.7 420.1L192.6 361.7L191.1 360.9L160.5 419.9ZM162.2 416.9L180.0 382.7L179.0 382.2L161.9 416.7ZM181.6 379.6L188.1 367.2L186.8 366.6L180.6 379.1ZM161.9 416.7L188.6 363.5L187.2 362.8L161.6 416.6ZM159.6 419.5L175.8 380.7L174.7 380.3L159.4 419.4ZM186.5 354.9L193.2 338.7L191.3 338.0L184.9 354.3ZM159.4 419.4L174.9 380.4L173.8 380.0L159.2 419.4ZM185.2 354.4L190.3 341.3L188.5 340.6L183.6 353.7ZM162.5 409.4L173.1 379.7L172.0 379.4L162.1 409.3ZM175.5 373.1L180.2 359.9L178.7 359.4L174.3 372.7ZM181.3 356.6L186.0 343.5L184.2 342.8L179.8 356.1ZM157.0 415.2L162.1 377.1L161.0 376.9L156.7 415.2ZM159.2 441.8L175.0 484.5L176.2 484.1L159.4 441.8ZM176.3 487.8L183.6 507.5L185.2 506.8L177.5 487.3ZM160.5 441.3L186.3 491.0L187.6 490.3L160.7 441.1ZM160.7 441.2L192.3 499.7L193.8 498.9L160.9 441.0ZM162.8 444.0L177.0 468.1L177.8 467.7L163.1 443.8ZM178.8 471.1L193.0 495.3L194.3 494.5L179.6 470.6ZM161.4 440.7L195.2 493.9L196.5 493.1L161.6 440.6ZM164.2 443.1L201.6 493.8L202.9 492.8L164.5 442.9ZM164.8 442.6L189.3 472.3L190.1 471.6L165.1 442.4ZM191.5 475.0L204.8 491.3L206.1 490.2L192.4 474.3ZM162.9 439.6L193.0 473.7L193.9 472.9L163.1 439.4ZM195.3 476.4L209.2 492.1L210.5 491.0L196.3 475.5ZM165.5 442.0L191.4 470.5L192.2 469.7L165.7 441.8ZM193.8 473.1L210.3 491.2L211.5 490.0L194.7 472.2ZM168.1 444.4L204.1 482.6L205.2 481.5L168.3 444.1ZM163.4 439.2L187.9 464.2L188.6 463.5L163.6 439.0ZM192.8 469.2L207.5 484.2L208.6 483.1L193.6 468.4ZM163.5 439.0L215.9 490.6L217.1 489.3L163.7 438.8ZM169.4 443.0L214.6 481.7L215.7 480.4L169.7 442.7ZM167.1 440.3L219.1 481.8L220.1 480.4L167.3 440.0ZM167.6 439.6L235.9 488.5L237.1 486.8L167.8 439.4ZM164.9 437.4L182.2 449.3L182.5 448.8L165.0 437.2ZM185.0 451.3L225.4 479.2L226.4 477.7L185.5 450.7ZM231.1 483.1L245.5 493.1L246.8 491.2L232.2 481.5ZM268.6 509.0L280.1 516.9L281.9 514.3L270.2 506.6ZM168.1 439.0L224.1 474.8L225.0 473.3L168.2 438.7ZM256.5 495.5L271.3 505.0L272.8 502.5L257.9 493.4ZM165.6 436.2L230.8 470.2L231.6 468.6L165.7 435.9ZM169.0 437.3L222.6 463.0L223.3 461.6L169.1 437.0ZM238.4 470.6L257.4 479.6L258.4 477.5L239.2 468.8ZM165.9 435.6L248.7 473.5L249.5 471.5L166.0 435.4ZM166.2 434.8L244.9 464.4L245.5 462.5L166.3 434.6ZM251.4 466.8L264.5 471.8L265.4 469.5L252.2 464.8ZM166.3 434.6L202.6 447.5L202.9 446.5L166.4 434.4ZM205.9 448.7L242.1 461.6L242.8 459.8L206.2 447.6ZM170.1 434.0L252.1 452.3L252.5 450.3L170.2 433.7ZM166.8 433.0L187.3 437.2L187.5 436.6L166.8 432.8ZM190.8 437.9L255.9 451.3L256.3 449.2L190.9 437.2ZM166.8 432.8L256.2 449.5L256.6 447.4L166.8 432.6ZM166.9 432.2L253.6 443.8L253.9 441.7L166.9 431.9ZM271.0 446.1L284.8 447.9L285.2 445.2L271.3 443.6ZM166.9 432.0L253.8 442.0L254.1 440.0L166.9 431.7ZM167.0 431.4L247.3 436.4L247.4 434.5L167.0 431.1Z"/><path fill="#748672" d="M240.5 429.0L244.0 429.0L243.9 426.0L240.4 426.2ZM254.5 428.8L258.0 428.7L257.9 425.3L254.4 425.5ZM261.5 428.6L265.0 428.6L264.9 424.9L261.4 425.1ZM275.5 428.4L279.0 428.3L278.8 424.2L275.3 424.4ZM219.4 427.2L226.4 426.8L226.2 424.4L219.3 425.0ZM247.0 420.9L250.5 420.5L250.1 417.3L246.6 417.8ZM306.2 414.6L309.6 414.2L309.0 409.1L305.5 409.6ZM298.9 412.8L302.4 412.4L301.7 407.5L298.2 408.0ZM256.7 414.4L267.1 412.7L266.4 409.0L256.1 411.0ZM204.0 418.3L214.2 415.8L213.7 413.8L203.6 416.7ZM258.3 404.7L268.5 402.2L267.5 398.4L257.4 401.3ZM278.7 399.6L282.1 398.8L281.0 394.6L277.6 395.6ZM295.7 395.4L299.1 394.5L297.8 389.8L294.4 390.8ZM316.0 390.3L319.4 389.5L318.0 384.0L314.6 385.0ZM250.1 401.4L256.8 399.4L255.7 396.0L249.1 398.3ZM260.2 398.3L270.2 395.3L269.0 391.5L259.0 394.9ZM283.6 391.2L286.9 390.1L285.5 385.8L282.2 386.9ZM300.3 386.0L303.7 385.0L302.1 380.1L298.8 381.2ZM216.0 409.5L219.3 408.4L218.5 406.3L215.2 407.5ZM242.4 400.4L245.7 399.3L244.7 396.3L241.4 397.5ZM255.7 395.8L262.3 393.6L261.0 390.0L254.5 392.5ZM244.6 396.1L247.9 394.9L246.6 391.8L243.4 393.2ZM247.2 393.2L250.5 391.9L249.1 388.8L245.9 390.2ZM245.9 390.1L255.5 385.8L253.9 382.5L244.5 387.1ZM258.6 384.3L265.0 381.5L263.4 377.9L257.1 380.9ZM277.8 375.8L281.0 374.4L279.1 370.2L275.9 371.7ZM222.9 398.8L226.1 397.4L225.0 395.0L221.9 396.6ZM232.5 394.4L242.0 390.0L240.6 387.1L231.2 391.9ZM245.1 388.5L248.3 387.0L246.8 383.9L243.7 385.5ZM261.0 381.1L267.3 378.1L265.5 374.4L259.3 377.6ZM231.1 391.7L240.5 386.9L239.0 384.1L229.8 389.2ZM268.6 372.6L271.7 371.0L269.6 367.2L266.6 368.9ZM230.4 383.4L233.4 381.5L231.7 378.9L228.8 380.9ZM196.3 401.6L204.9 395.6L203.7 393.9L195.4 400.2ZM227.9 379.5L233.6 375.5L231.7 372.9L226.1 377.1ZM250.8 363.4L256.5 359.4L254.1 356.1L248.5 360.3ZM265.1 353.4L268.0 351.3L265.3 347.6L262.5 349.7ZM276.6 345.3L282.3 341.3L279.3 337.1L273.7 341.3ZM240.0 366.4L242.8 364.3L240.5 361.4L237.8 363.6ZM214.1 384.4L216.8 382.2L215.2 380.2L212.5 382.4ZM219.6 380.1L225.1 375.7L223.2 373.5L217.9 377.9ZM230.6 371.4L233.4 369.3L231.3 366.7L228.6 369.0ZM236.1 367.1L238.9 365.0L236.6 362.2L234.0 364.5ZM241.6 362.8L244.4 360.6L242.0 357.7L239.3 360.0ZM252.6 354.2L255.4 352.0L252.7 348.7L250.1 351.0ZM224.1 374.5L232.3 367.9L230.2 365.4L222.2 372.3ZM235.0 365.7L240.4 361.3L238.1 358.5L232.8 363.1ZM220.4 375.6L223.1 373.3L221.2 371.1L218.6 373.4ZM225.8 371.1L231.2 366.6L229.0 364.1L223.8 368.8ZM233.8 364.3L241.9 357.6L239.4 354.7L231.6 361.7ZM215.9 375.7L223.7 368.6L221.6 366.4L214.0 373.7ZM214.9 374.6L220.0 369.8L218.0 367.7L213.0 372.7ZM222.6 367.5L225.2 365.1L222.9 362.8L220.5 365.2ZM227.7 362.7L230.3 360.3L227.9 357.8L225.4 360.3ZM190.4 389.8L195.0 384.5L193.4 383.2L189.0 388.7ZM208.7 368.7L213.3 363.4L211.1 361.5L206.7 366.9ZM215.6 360.7L217.9 358.1L215.5 356.0L213.3 358.8ZM224.8 350.2L227.1 347.5L224.3 345.2L222.1 347.9ZM231.7 342.2L236.3 336.9L233.1 334.3L228.7 339.7ZM207.7 367.7L212.1 362.4L209.9 360.5L205.5 366.0ZM223.4 349.0L225.6 346.3L222.8 344.0L220.6 346.7ZM204.3 369.6L206.5 366.8L204.4 365.2L202.3 367.9ZM208.7 364.1L213.1 358.7L210.7 356.8L206.5 362.4ZM224.2 345.1L226.4 342.3L223.4 340.0L221.3 342.8ZM220.3 333.5L222.3 330.6L218.9 328.5L217.1 331.4ZM193.4 358.2L195.1 355.1L192.5 353.8L191.0 356.9ZM209.8 327.2L213.1 321.1L209.5 319.2L206.4 325.5ZM190.6 360.6L192.2 357.5L189.7 356.3L188.2 359.5ZM208.0 326.3L212.8 316.9L209.0 315.1L204.5 324.6ZM177.4 377.7L178.8 374.4L176.9 373.7L175.7 376.9ZM180.2 371.2L184.2 361.5L181.9 360.6L178.2 370.4ZM180.4 367.5L184.3 357.8L181.9 356.9L178.3 366.7ZM160.3 416.0L161.5 412.7L160.9 412.5L159.8 415.9ZM163.0 373.7L163.9 366.7L161.8 366.5L161.1 373.4ZM164.4 363.3L165.9 352.9L163.3 352.5L162.2 363.0ZM167.3 342.5L168.3 335.5L165.1 335.1L164.4 342.1ZM169.2 328.6L169.7 325.1L166.2 324.7L165.9 328.2ZM204.7 566.8L205.9 570.1L210.5 568.3L209.2 565.1ZM215.5 596.4L216.7 599.7L222.3 597.6L221.0 594.3ZM190.7 500.5L193.9 506.7L196.4 505.4L193.0 499.3ZM236.9 590.9L238.4 594.0L243.8 591.2L242.1 588.1ZM193.6 503.0L195.2 506.1L197.7 504.7L195.9 501.6ZM196.9 509.1L200.1 515.3L202.9 513.8L199.4 507.7ZM196.1 501.6L199.6 507.6L202.1 506.1L198.4 500.2ZM203.1 513.7L204.8 516.7L207.7 515.0L205.8 512.1ZM204.1 509.0L209.7 517.9L212.5 516.0L206.7 507.3ZM226.4 544.6L228.2 547.6L232.1 545.1L230.1 542.2ZM205.3 499.7L209.4 505.4L211.9 503.5L207.6 498.0ZM211.5 508.2L213.6 511.0L216.2 509.1L214.0 506.3ZM215.6 513.9L217.7 516.7L220.5 514.6L218.3 511.8ZM244.5 553.5L246.5 556.3L250.6 553.2L248.5 550.5ZM206.7 494.3L208.9 497.0L211.0 495.2L208.7 492.5ZM217.7 507.9L219.9 510.6L222.5 508.4L220.2 505.8ZM211.1 495.1L218.0 503.0L220.4 500.9L213.3 493.2ZM220.3 505.6L222.6 508.3L225.2 506.0L222.8 503.4ZM214.6 496.7L217.0 499.3L219.2 497.2L216.8 494.7ZM219.3 501.9L221.6 504.5L224.1 502.2L221.6 499.7ZM163.2 439.4L165.6 441.9L166.0 441.6L163.5 439.1ZM206.2 485.4L211.0 490.5L212.9 488.6L208.0 483.7ZM213.4 493.1L220.5 500.8L222.8 498.5L215.4 491.1ZM225.3 505.9L230.1 511.0L232.7 508.4L227.8 503.5ZM209.6 487.0L212.0 489.5L213.9 487.6L211.4 485.2ZM214.4 492.1L216.9 494.6L219.0 492.5L216.5 490.0ZM219.3 497.1L221.7 499.6L224.0 497.3L221.5 494.9ZM226.6 504.6L233.9 512.2L236.6 509.5L229.0 502.2ZM220.5 496.0L222.9 498.4L225.2 496.1L222.6 493.7ZM242.8 518.2L245.2 520.7L248.2 517.6L245.6 515.2ZM247.7 523.2L250.2 525.6L253.3 522.4L250.7 520.0ZM164.1 438.5L166.7 440.8L167.0 440.4L164.3 438.2ZM216.9 484.3L224.9 491.2L226.8 488.9L218.7 482.3ZM227.5 493.5L230.2 495.8L232.3 493.3L229.6 491.1ZM243.4 507.3L251.3 514.2L254.0 510.9L245.9 504.3ZM253.9 516.5L256.6 518.8L259.5 515.3L256.7 513.1ZM221.5 484.3L224.2 486.5L226.0 484.2L223.2 482.1ZM240.5 499.8L243.3 502.0L245.6 499.0L242.8 496.9ZM246.0 504.2L251.4 508.6L254.0 505.3L248.4 501.1ZM267.8 521.8L270.5 524.0L273.5 520.1L270.7 518.0ZM238.4 491.1L244.0 495.2L246.1 492.2L240.3 488.3ZM258.2 505.5L261.0 507.5L263.5 503.9L260.6 502.0ZM280.9 521.9L283.7 523.9L286.7 519.6L283.8 517.7ZM282.5 519.7L285.3 521.7L288.3 517.3L285.3 515.4ZM229.7 479.0L232.6 480.9L234.2 478.3L231.2 476.5ZM238.5 484.7L241.4 486.6L243.2 483.7L240.2 481.9ZM244.4 488.5L247.3 490.4L249.2 487.3L246.2 485.5ZM279.6 511.4L288.4 517.1L291.2 512.6L282.2 507.2ZM236.7 474.0L239.8 475.6L241.2 472.8L238.1 471.2ZM246.0 478.9L249.1 480.5L250.7 477.4L247.5 475.8ZM258.4 485.4L261.4 487.1L263.3 483.5L260.1 482.0ZM225.6 465.0L235.0 469.5L236.3 466.9L226.7 462.6ZM251.6 475.5L254.7 477.0L256.2 473.7L253.0 472.3ZM270.8 474.9L277.3 477.4L278.8 473.4L272.2 471.1ZM251.8 465.7L255.1 466.9L256.3 463.6L252.9 462.5ZM258.4 468.1L265.0 470.5L266.2 466.9L259.6 464.7ZM255.4 453.7L258.8 454.5L259.5 451.0L256.1 450.3ZM262.2 455.3L265.6 456.0L266.4 452.4L263.0 451.7ZM269.5 454.8L272.9 455.6L273.7 451.6L270.2 451.0ZM273.3 453.5L280.2 454.8L280.9 450.7L274.0 449.6ZM283.6 455.5L287.1 456.1L287.8 451.8L284.4 451.2ZM278.1 445.6L281.6 446.0L282.0 441.8L278.5 441.5ZM254.3 437.5L257.8 437.7L257.9 434.3L254.4 434.2Z"/><path fill="#8b7a7e" d="M243.8 424.3L247.3 424.1L247.0 421.0L243.5 421.4ZM305.9 411.9L309.3 411.5L308.6 406.4L305.1 407.0ZM266.8 410.8L270.2 410.2L269.5 406.4L266.0 407.1ZM296.8 400.3L300.2 399.6L299.1 394.8L295.7 395.6ZM275.3 400.5L278.7 399.6L277.6 395.6L274.2 396.5ZM292.3 396.2L295.7 395.4L294.4 390.8L291.1 391.7ZM244.3 406.6L247.7 405.7L246.8 402.6L243.5 403.6ZM264.6 401.1L268.0 400.2L266.9 396.5L263.6 397.5ZM278.1 397.5L281.5 396.6L280.3 392.4L277.0 393.4ZM256.8 399.4L260.2 398.3L259.0 394.9L255.7 396.0ZM256.3 397.6L259.6 396.5L258.4 393.1L255.1 394.3ZM279.6 390.0L282.9 388.9L281.4 384.7L278.1 385.9ZM235.0 391.5L238.1 390.0L236.7 387.2L233.6 388.9ZM260.1 379.2L263.3 377.7L261.4 374.1L258.4 375.8ZM240.5 386.9L243.6 385.4L242.1 382.4L239.0 384.1ZM233.5 388.7L236.6 387.1L235.1 384.4L232.1 386.2ZM264.4 372.3L267.5 370.6L265.5 366.9L262.4 368.7ZM229.0 387.8L232.0 386.0L230.5 383.5L227.5 385.4ZM260.1 364.8L263.1 362.9L260.8 359.4L257.9 361.3ZM268.0 351.3L270.8 349.3L268.1 345.5L265.3 347.6ZM252.4 359.7L255.3 357.6L252.8 354.3L250.0 356.5ZM245.6 362.2L248.4 360.1L246.0 357.0L243.3 359.2ZM255.4 352.0L258.2 349.9L255.4 346.5L252.7 348.7ZM223.1 373.3L225.8 371.1L223.8 368.8L221.2 371.1ZM220.4 365.1L222.8 362.7L220.5 360.4L218.1 363.0ZM220.4 360.3L222.8 357.8L220.3 355.6L218.0 358.2ZM229.4 344.9L231.7 342.2L228.7 339.7L226.5 342.5ZM212.1 362.4L214.4 359.7L212.0 357.8L209.9 360.5ZM207.6 363.2L209.7 360.4L207.4 358.6L205.3 361.5ZM196.5 364.0L198.4 361.0L196.1 359.6L194.3 362.7ZM195.9 359.6L197.7 356.5L195.2 355.1L193.6 358.2ZM193.0 361.9L194.7 358.8L192.3 357.6L190.7 360.7ZM211.6 328.2L213.3 325.2L209.8 323.3L208.2 326.4ZM217.6 296.0L219.1 292.8L214.5 290.7L213.1 294.0ZM180.6 360.1L181.8 356.8L179.3 356.0L178.2 359.3ZM186.6 343.7L187.8 340.4L184.7 339.3L183.7 342.7ZM168.7 371.2L169.5 367.7L167.4 367.3L166.7 370.7ZM162.8 317.4L163.1 313.9L159.2 313.7L159.1 317.2ZM157.4 359.1L157.6 355.6L155.1 355.6L155.1 359.1ZM148.7 359.4L148.4 355.9L145.9 356.2L146.3 359.6ZM146.7 363.1L146.2 359.6L143.9 360.0L144.4 363.4ZM122.7 325.4L121.7 322.1L118.1 323.3L119.3 326.6ZM120.7 318.7L118.6 312.0L114.7 313.3L117.0 319.9ZM117.5 353.8L115.9 350.6L113.3 352.0L114.9 355.1ZM102.3 363.3L100.1 360.5L97.9 362.4L100.1 365.1ZM95.5 359.8L93.2 357.1L90.8 359.2L93.2 361.8ZM103.4 371.4L101.1 368.8L99.1 370.6L101.5 373.1ZM66.7 329.2L64.4 326.5L61.0 329.6L63.4 332.2ZM113.6 395.9L110.9 393.7L109.7 395.2L112.5 397.3ZM86.8 373.5L84.1 371.2L82.2 373.6L84.9 375.7ZM169.9 514.8L170.5 518.2L173.4 517.7L172.7 514.2ZM187.6 614.7L188.2 618.2L194.4 617.0L193.7 613.5ZM190.1 628.5L190.7 632.0L197.3 630.7L196.6 627.2ZM171.1 500.3L171.9 503.7L174.3 503.1L173.4 499.7ZM185.5 514.2L186.7 517.5L189.6 516.4L188.3 513.1ZM186.4 494.8L187.9 498.0L190.2 496.9L188.5 493.8ZM189.5 501.1L191.0 504.3L193.4 503.0L191.8 499.9ZM199.9 511.5L201.6 514.5L204.4 512.9L202.6 509.9ZM247.5 597.1L249.2 600.2L254.8 597.0L253.0 594.0ZM238.3 549.3L240.3 552.2L244.3 549.3L242.2 546.5ZM203.3 496.9L205.3 499.7L207.6 498.0L205.4 495.3ZM213.6 511.0L215.6 513.9L218.3 511.8L216.2 509.1ZM208.9 497.0L211.1 499.7L213.3 497.8L211.0 495.2ZM215.5 505.2L217.7 507.9L220.2 505.8L217.9 503.1ZM221.6 504.5L224.0 507.1L226.5 504.8L224.1 502.2ZM233.9 512.2L236.3 514.7L239.1 511.9L236.6 509.5ZM218.0 493.5L220.5 496.0L222.6 493.7L220.0 491.4ZM264.5 525.6L267.2 527.9L270.3 524.2L267.6 521.9ZM252.7 512.5L255.4 514.7L258.2 511.3L255.4 509.2ZM251.4 508.6L254.2 510.8L256.8 507.4L254.0 505.3ZM265.0 519.6L267.8 521.8L270.7 518.0L267.9 515.9ZM255.4 503.4L258.2 505.5L260.6 502.0L257.7 500.0ZM275.2 517.8L278.0 519.8L280.9 515.7L278.0 513.7ZM225.1 479.6L227.9 481.6L229.6 479.1L226.7 477.2ZM270.8 505.7L276.7 509.5L279.2 505.4L273.2 501.8ZM240.3 481.8L243.3 483.6L245.0 480.6L242.0 478.9ZM249.3 487.2L252.3 489.0L254.2 485.7L251.2 484.0ZM238.2 478.5L241.2 480.3L242.8 477.4L239.7 475.7ZM256.4 489.0L259.4 490.8L261.3 487.3L258.3 485.6ZM242.9 477.2L246.0 478.9L247.5 475.8L244.4 474.3ZM243.7 475.7L246.8 477.3L248.3 474.2L245.1 472.7ZM277.3 477.4L280.6 478.7L282.1 474.5L278.8 473.4ZM259.6 464.5L263.0 465.6L264.1 462.0L260.7 461.0ZM256.9 461.6L260.2 462.7L261.2 459.2L257.8 458.3ZM253.3 446.1L256.7 446.6L257.2 443.2L253.7 442.8ZM261.4 434.2L264.9 434.3L265.0 430.7L261.5 430.7Z"/><path fill="#00c400" d="M243.7 422.8L247.1 422.5L246.8 419.4L243.3 419.8ZM257.3 401.2L260.7 400.2L259.6 396.7L256.3 397.8ZM259.3 370.3L262.3 368.5L260.2 365.0L257.2 366.8ZM206.3 385.9L208.9 383.6L207.3 381.9L204.8 384.3ZM180.3 382.9L182.0 379.8L180.3 378.9L178.7 382.1ZM174.3 380.2L175.6 376.9L173.8 376.2L172.6 379.6ZM174.8 365.6L175.8 362.2L173.6 361.6L172.7 364.9ZM160.4 352.3L160.6 348.8L157.9 348.7L157.8 352.2ZM156.1 366.1L156.1 362.6L153.9 362.6L153.9 366.1ZM154.9 306.6L154.9 303.1L150.7 303.2L150.8 306.7ZM134.2 333.3L133.5 329.9L130.2 330.6L131.0 334.0ZM92.0 358.2L89.7 355.6L87.2 357.8L89.6 360.3ZM101.4 388.8L98.6 386.6L97.2 388.5L100.0 390.6ZM90.3 380.2L87.6 378.0L85.9 380.3L88.7 382.3ZM208.1 518.8L209.9 521.8L212.9 520.0L211.0 517.0ZM234.1 552.1L236.0 555.1L240.1 552.3L238.1 549.4ZM216.9 494.6L219.3 497.1L221.5 494.9L219.0 492.5ZM245.2 520.7L247.7 523.2L250.7 520.0L248.2 517.6Z"/><path fill="#8d787f" d="M246.8 419.2L250.3 418.8L249.8 415.7L246.4 416.2ZM259.9 412.0L263.3 411.4L262.6 407.8L259.2 408.5ZM259.5 410.2L263.0 409.5L262.2 405.9L258.8 406.7ZM251.5 406.4L258.3 404.7L257.4 401.3L250.7 403.3ZM262.3 393.6L265.6 392.4L264.3 388.8L261.0 390.0ZM282.1 386.7L285.4 385.6L283.9 381.3L280.6 382.5ZM254.4 392.3L257.7 391.1L256.3 387.7L253.1 389.1ZM240.1 394.4L243.3 393.0L242.0 390.1L238.9 391.6ZM265.0 381.5L268.2 380.1L266.5 376.3L263.4 377.9ZM265.4 374.2L268.6 372.6L266.6 368.9L263.5 370.6ZM264.2 364.8L267.2 363.0L264.9 359.3L262.0 361.3ZM264.8 359.2L267.7 357.2L265.2 353.6L262.4 355.6ZM263.5 357.3L266.4 355.3L263.9 351.6L261.0 353.7ZM242.8 364.3L245.6 362.2L243.3 359.2L240.5 361.4ZM232.3 367.9L235.0 365.7L232.8 363.1L230.2 365.4ZM220.0 369.8L222.6 367.5L220.5 365.2L218.0 367.7ZM225.2 365.1L227.7 362.7L225.4 360.3L222.9 362.8ZM221.5 366.3L224.0 363.9L221.7 361.6L219.3 364.1ZM214.5 364.4L216.8 361.8L214.5 359.8L212.3 362.5ZM206.4 371.3L208.7 368.7L206.7 366.9L204.5 369.6ZM225.6 346.3L230.1 340.9L227.1 338.5L222.8 344.0ZM223.7 335.9L225.7 333.1L222.5 330.8L220.5 333.7ZM188.5 367.4L190.2 364.3L187.9 363.2L186.4 366.4ZM189.6 356.3L191.1 353.1L188.5 351.9L187.1 355.1ZM184.0 365.3L185.4 362.1L183.2 361.1L181.8 364.3ZM191.1 349.3L194.0 342.9L191.0 341.6L188.4 348.1ZM184.2 361.5L185.6 358.3L183.2 357.3L181.9 360.6ZM179.4 359.7L180.5 356.4L178.0 355.6L177.0 358.9ZM173.4 350.7L174.2 347.3L171.4 346.7L170.7 350.1ZM179.2 305.4L179.9 302.0L175.6 301.2L175.1 304.7ZM168.3 335.5L169.2 328.6L165.9 328.2L165.1 335.1ZM162.4 359.5L162.8 356.0L160.3 355.8L160.0 359.3ZM157.3 362.6L157.4 359.1L155.1 359.1L155.1 362.6ZM152.5 292.6L152.4 289.1L147.7 289.3L147.9 292.8ZM145.8 356.2L145.4 352.7L142.8 353.1L143.3 356.5ZM132.0 355.6L131.0 352.2L128.4 353.0L129.5 356.4ZM118.6 312.0L117.6 308.7L113.6 310.0L114.7 313.3ZM106.7 343.6L105.0 340.6L102.0 342.3L103.8 345.3ZM112.6 382.0L110.3 379.3L108.7 380.8L111.1 383.4ZM95.9 384.5L90.3 380.2L88.7 382.3L94.4 386.5ZM164.4 536.7L164.7 540.2L168.3 539.8L167.9 536.3ZM169.9 536.1L170.4 539.5L174.0 538.9L173.4 535.5ZM166.9 497.6L167.5 501.0L169.8 500.6L169.1 497.1ZM168.7 507.9L169.3 511.3L172.0 510.8L171.3 507.4ZM195.5 620.3L196.2 623.7L202.6 622.3L201.8 618.9ZM183.1 507.6L184.3 510.9L187.0 509.9L185.7 506.7ZM181.9 500.6L183.2 503.9L185.6 502.9L184.2 499.7ZM205.8 562.7L207.1 565.9L211.5 564.1L210.2 560.9ZM218.4 595.3L219.7 598.6L225.2 596.4L223.8 593.1ZM228.4 595.0L229.8 598.2L235.3 595.6L233.8 592.5ZM195.2 506.1L196.9 509.1L199.4 507.7L197.7 504.7ZM201.3 510.7L203.1 513.7L205.8 512.1L203.9 509.1ZM204.8 516.7L206.6 519.8L209.5 518.0L207.7 515.0ZM202.7 509.8L204.5 512.8L207.2 511.2L205.3 508.2ZM236.0 555.1L237.9 558.0L242.1 555.2L240.1 552.3ZM199.0 495.6L200.9 498.5L203.1 497.0L201.1 494.1ZM238.1 553.6L240.1 556.5L244.2 553.6L242.2 550.8ZM204.4 496.0L206.5 498.8L208.7 497.1L206.5 494.4ZM204.5 491.6L206.7 494.3L208.7 492.5L206.4 489.9ZM213.3 502.4L215.5 505.2L217.9 503.1L215.6 500.5ZM205.5 490.7L207.8 493.4L209.8 491.6L207.5 489.0ZM218.0 503.0L220.3 505.6L222.8 503.4L220.4 500.9ZM215.5 491.0L218.0 493.5L220.0 491.4L217.5 489.0ZM251.3 514.2L253.9 516.5L256.7 513.1L254.0 510.9ZM220.5 479.9L223.3 482.0L225.0 479.7L222.1 477.7ZM245.7 498.8L248.5 500.9L250.8 497.8L247.9 495.8ZM244.0 495.2L246.9 497.2L249.0 494.2L246.1 492.2ZM276.7 509.5L279.6 511.4L282.2 507.2L279.2 505.4ZM270.3 499.8L276.4 503.4L278.7 499.3L272.6 495.9ZM229.8 472.0L232.9 473.7L234.3 471.1L231.1 469.5ZM230.5 470.7L233.6 472.3L235.0 469.7L231.8 468.1ZM240.2 466.7L243.4 468.0L244.6 465.1L241.3 463.8ZM257.0 471.7L260.3 473.0L261.6 469.5L258.3 468.3ZM265.0 470.5L268.3 471.7L269.6 467.9L266.2 466.9ZM269.0 469.7L272.3 470.9L273.6 467.0L270.2 465.9ZM255.0 455.4L258.4 456.3L259.2 452.8L255.7 452.1ZM258.8 454.5L262.2 455.3L263.0 451.7L259.5 451.0ZM280.9 450.4L284.4 451.0L285.0 446.7L281.5 446.2ZM267.4 446.3L270.9 446.8L271.3 442.9L267.9 442.6ZM274.6 445.2L278.1 445.6L278.5 441.5L275.0 441.2ZM257.8 437.7L261.2 437.9L261.4 434.4L257.9 434.3Z"/><path fill="#50f050" d="M218.7 420.5L222.2 419.9L221.8 417.7L218.3 418.3ZM211.6 420.6L215.1 420.0L214.7 418.0L211.3 418.7ZM203.5 416.6L206.9 415.7L206.4 414.0L203.0 415.0ZM225.0 403.7L228.3 402.4L227.3 400.0L224.1 401.4ZM219.8 400.3L222.9 398.8L221.9 396.6L218.7 398.2ZM216.3 393.7L219.3 391.9L217.9 389.8L215.0 391.7ZM222.1 372.2L224.8 369.9L222.7 367.6L220.1 370.0ZM168.7 385.6L169.7 382.3L168.1 381.8L167.2 385.2ZM166.2 388.6L167.1 385.2L165.6 384.8L164.8 388.2ZM149.7 355.8L149.5 352.3L146.9 352.5L147.2 356.0ZM127.4 346.0L126.3 342.7L123.4 343.7L124.6 346.9ZM87.4 352.9L85.1 350.3L82.4 352.6L84.8 355.2ZM193.1 499.2L194.8 502.3L197.2 500.9L195.4 497.9ZM208.8 510.1L210.7 513.0L213.4 511.1L211.4 508.3ZM261.9 523.3L264.5 525.6L267.6 521.9L264.9 519.7ZM235.5 489.0L238.4 491.1L240.3 488.3L237.4 486.3ZM245.4 487.0L248.3 488.8L250.2 485.7L247.2 483.9Z"/><path fill="#006400" d="M238.3 411.3L241.7 410.5L241.0 407.6L237.6 408.5ZM200.6 419.2L204.0 418.3L203.6 416.7L200.2 417.7ZM244.0 394.6L247.2 393.2L245.9 390.2L242.7 391.6ZM256.0 364.9L258.9 363.0L256.6 359.6L253.8 361.6ZM194.2 398.8L196.9 396.6L195.8 395.2L193.1 397.5ZM213.3 378.0L215.9 375.7L214.0 373.7L211.5 376.1ZM188.8 393.0L191.1 390.4L189.7 389.3L187.5 391.9ZM187.2 374.7L188.9 371.7L187.0 370.6L185.3 373.7ZM137.9 350.4L137.2 347.0L134.4 347.6L135.2 351.0ZM68.5 327.6L66.2 325.0L62.7 328.0L65.1 330.6ZM189.1 497.4L190.7 500.5L193.0 499.3L191.3 496.2ZM203.3 517.6L205.0 520.6L208.0 518.9L206.2 515.9ZM241.7 498.2L244.5 500.4L246.8 497.4L243.9 495.3ZM246.8 477.3L249.9 478.9L251.5 475.7L248.3 474.2ZM250.8 437.2L254.3 437.5L254.4 434.2L250.9 434.0Z"/><path fill="#7a8375" stroke="#7a8375" stroke-width="0.5" d="M166.6 427.4L213.8 414.4L213.5 413.2L166.5 427.2ZM217.2 413.5L244.2 406.0L243.6 404.2L216.8 412.2ZM167.9 422.1L217.6 389.3L216.7 388.0L167.8 421.8ZM165.7 419.4L206.7 376.3L205.6 375.2L165.5 419.2ZM209.1 373.8L228.4 353.5L226.8 352.0L207.9 372.6ZM163.1 421.8L208.1 372.8L206.9 371.7L162.9 421.6ZM210.5 370.2L220.0 359.9L218.5 358.6L209.2 369.1ZM227.1 352.2L238.9 339.3L237.0 337.6L225.4 350.7ZM164.2 418.2L191.4 381.6L190.3 380.9L164.0 418.0ZM193.5 378.8L201.8 367.6L200.5 366.6L192.4 378.0ZM164.0 418.0L196.6 372.5L195.4 371.6L163.8 417.8ZM161.5 420.5L197.3 364.5L195.9 363.6L161.3 420.4ZM161.3 420.4L192.5 369.7L191.2 368.9L161.1 420.2ZM161.1 420.3L193.2 366.0L191.8 365.3L160.9 420.1ZM160.0 419.7L181.9 372.0L180.6 371.4L159.8 419.6ZM159.8 419.6L180.8 371.5L179.6 371.0L159.6 419.5ZM159.9 415.9L172.2 379.4L171.1 379.1L159.6 415.8ZM158.0 419.0L166.0 388.5L165.1 388.3L157.8 418.9ZM158.4 415.5L167.5 374.5L166.4 374.2L158.1 415.4ZM157.9 415.4L165.6 374.1L164.4 373.9L157.5 415.3ZM156.8 418.7L163.6 373.7L162.4 373.6L156.5 418.7ZM168.3 342.6L170.4 328.8L168.3 328.5L166.5 342.3ZM156.5 415.2L161.0 369.9L159.7 369.8L156.2 415.1ZM156.0 415.1L158.2 380.2L157.1 380.1L155.6 415.1ZM158.4 376.7L159.9 352.3L158.3 352.2L157.3 376.6ZM155.4 415.1L156.6 373.1L155.4 373.1L155.1 415.1ZM155.1 418.6L155.7 366.1L154.3 366.1L154.9 418.6ZM154.6 415.1L153.2 355.6L151.6 355.7L154.3 415.1ZM154.1 418.6L151.7 387.2L150.8 387.3L153.8 418.7ZM151.4 383.7L149.2 355.8L147.7 356.0L150.4 383.8ZM153.9 418.7L150.2 380.3L149.2 380.4L153.6 418.7ZM152.5 408.2L148.6 373.5L147.4 373.6L152.0 408.3ZM148.2 370.0L146.2 352.6L144.6 352.8L146.9 370.1ZM153.0 415.2L146.2 363.2L144.8 363.4L152.7 415.3ZM152.4 418.9L138.9 357.3L137.4 357.7L152.2 418.9ZM151.8 419.0L134.2 354.9L132.6 355.4L151.6 419.1ZM150.4 415.8L131.5 355.7L130.0 356.2L150.1 415.9ZM128.4 345.7L123.2 329.0L121.0 329.7L126.6 346.2ZM148.1 416.7L120.1 360.3L118.6 361.0L147.8 416.9ZM113.9 347.7L103.0 325.8L100.8 326.9L112.1 348.6ZM149.1 420.1L121.6 371.4L120.4 372.1L148.9 420.3ZM147.5 421.2L134.5 404.7L134.0 405.2L147.4 421.4ZM145.0 418.8L124.5 394.8L123.8 395.5L144.7 419.0ZM92.8 357.5L83.7 346.8L82.0 348.3L91.3 358.8ZM147.1 421.6L123.9 395.3L123.2 396.0L146.9 421.8ZM143.1 420.7L118.8 400.6L118.2 401.4L142.9 421.0ZM145.5 423.3L117.8 401.9L117.2 402.7L145.3 423.5ZM154.7 442.6L152.5 519.6L154.4 519.6L154.9 442.6ZM156.2 446.1L160.2 498.4L161.6 498.3L156.5 446.0ZM156.5 446.0L161.4 498.3L162.8 498.1L156.8 446.0ZM157.3 445.9L166.0 504.8L167.5 504.5L157.6 445.9ZM166.5 508.3L168.5 522.1L170.4 521.8L168.1 508.0ZM157.8 445.8L164.1 480.3L165.2 480.1L158.1 445.8ZM164.7 483.7L167.3 497.5L168.7 497.2L165.9 483.5ZM157.6 442.3L169.6 497.0L171.0 496.7L157.8 442.3ZM161.8 459.3L171.6 500.2L173.0 499.8L162.4 459.1ZM159.1 445.5L178.6 516.4L180.4 515.9L159.4 445.5ZM159.0 441.9L178.7 498.0L180.2 497.5L159.2 441.8ZM160.7 445.0L181.1 497.2L182.5 496.6L161.0 444.9ZM161.4 444.7L184.5 495.7L185.9 495.1L161.7 444.6ZM160.1 441.4L188.7 501.5L190.1 500.8L160.4 441.3ZM160.3 441.3L185.2 491.5L186.5 490.9L160.6 441.2ZM162.6 444.1L190.1 492.9L191.4 492.1L162.9 443.9ZM161.3 440.8L194.1 494.6L195.4 493.8L161.5 440.7ZM163.5 443.5L194.4 490.3L195.6 489.5L163.8 443.4ZM161.8 440.5L199.3 495.4L200.7 494.4L162.0 440.4ZM201.3 498.3L209.2 509.8L210.9 508.7L202.7 497.3ZM164.4 442.9L202.7 493.0L204.0 491.9L164.7 442.7ZM163.8 438.7L215.4 486.1L216.5 484.8L164.0 438.5ZM167.3 440.1L214.4 476.4L215.4 475.1L167.5 439.8ZM168.5 438.3L229.3 472.8L230.2 471.3L168.6 438.0ZM169.7 435.5L249.3 462.3L249.9 460.4L169.8 435.2ZM255.9 464.6L269.2 469.0L270.0 466.6L256.6 462.4Z"/><path fill="#7a8375" d="M247.7 405.7L257.8 402.9L256.9 399.6L246.8 402.6ZM261.2 402.0L264.6 401.1L263.6 397.5L260.2 398.5ZM220.8 387.8L223.7 385.9L222.2 383.6L219.3 385.6ZM226.7 384.0L229.6 382.1L227.9 379.6L225.1 381.6ZM232.5 380.2L235.5 378.2L233.7 375.6L230.8 377.6ZM253.1 366.8L256.0 364.9L253.8 361.6L250.9 363.6ZM258.9 363.0L261.9 361.1L259.5 357.6L256.6 359.6ZM267.7 357.2L270.7 355.3L268.1 351.5L265.2 353.6ZM206.4 362.3L208.5 359.5L206.1 357.7L204.1 360.6ZM199.0 369.9L205.2 361.4L202.9 359.8L197.0 368.5ZM244.2 307.6L250.4 299.1L246.0 296.0L240.1 304.7ZM194.7 367.0L196.5 364.0L194.3 362.7L192.6 365.7ZM198.4 361.0L200.2 358.1L197.8 356.6L196.1 359.6ZM203.9 352.1L205.8 349.1L203.1 347.5L201.3 350.5ZM195.4 363.3L200.8 354.3L198.2 352.8L193.1 362.0ZM202.6 351.3L204.4 348.3L201.6 346.7L199.9 349.7ZM185.2 365.8L188.1 359.4L185.7 358.4L183.0 364.8ZM195.5 343.6L197.0 340.4L194.0 339.0L192.6 342.3ZM211.7 308.7L213.2 305.5L209.0 303.6L207.7 306.8ZM182.6 368.5L184.0 365.3L181.8 364.3L180.5 367.6ZM185.4 362.1L189.7 352.5L187.1 351.4L183.2 361.1ZM194.0 342.9L198.2 333.3L195.0 331.9L191.0 341.6ZM173.7 376.2L177.1 366.3L174.9 365.6L171.9 375.6ZM178.2 363.0L179.4 359.7L177.0 358.9L176.0 362.2ZM180.5 356.4L183.9 346.4L181.1 345.5L178.0 355.6ZM167.1 385.2L168.9 378.4L167.2 378.0L165.6 384.8ZM169.5 367.7L170.2 364.3L168.0 363.9L167.4 367.3ZM171.8 357.5L172.6 354.1L170.0 353.6L169.4 357.0ZM179.9 302.0L180.5 298.5L176.2 297.8L175.6 301.2ZM164.5 370.3L165.0 366.9L162.9 366.6L162.5 370.1ZM165.6 363.4L166.7 356.5L164.2 356.2L163.3 363.1ZM176.5 294.3L177.0 290.8L172.4 290.2L171.9 293.6ZM164.6 338.6L165.3 331.6L162.0 331.3L161.5 338.3ZM165.7 328.2L166.0 324.7L162.5 324.4L162.3 327.9ZM162.1 327.8L162.8 317.4L159.1 317.2L158.7 327.7ZM157.1 369.6L157.2 366.1L155.1 366.1L155.1 369.6ZM157.6 355.6L157.7 352.1L155.1 352.1L155.1 355.6ZM159.2 306.7L159.5 299.7L155.1 299.6L155.1 306.6ZM156.1 362.6L156.3 352.1L153.7 352.1L153.9 362.6ZM156.9 313.6L157.0 310.1L153.0 310.1L153.1 313.6ZM157.1 303.1L157.2 299.6L152.8 299.6L152.9 303.1ZM152.4 289.1L152.2 278.6L147.2 278.8L147.7 289.3ZM149.5 352.3L149.2 348.8L146.5 349.0L146.9 352.5ZM147.0 317.4L146.7 313.9L142.9 314.2L143.2 317.7ZM145.0 289.5L144.8 286.0L140.0 286.4L140.3 289.9ZM150.2 376.8L149.6 369.8L147.6 370.0L148.5 377.0ZM149.3 366.4L149.0 362.9L146.8 363.1L147.2 366.6ZM148.1 352.4L147.8 348.9L145.1 349.2L145.5 352.7ZM153.4 415.2L153.0 411.7L152.4 411.8L152.9 415.2ZM140.5 293.4L139.7 286.4L134.9 287.0L135.9 293.9ZM146.2 359.6L145.8 356.2L143.3 356.5L143.9 360.0ZM138.6 353.8L137.9 350.4L135.2 351.0L136.1 354.4ZM135.0 336.7L134.2 333.3L131.0 334.0L131.9 337.4ZM133.5 329.9L132.8 326.4L129.3 327.2L130.2 330.6ZM132.0 323.0L131.3 319.6L127.6 320.4L128.5 323.8ZM130.1 337.9L127.3 327.8L124.0 328.7L127.0 338.8ZM118.3 294.0L117.3 290.6L112.7 291.9L113.7 295.2ZM121.7 322.1L120.7 318.7L117.0 319.9L118.1 323.3ZM117.6 308.7L115.6 302.0L111.3 303.4L113.6 310.0ZM95.9 309.8L94.4 306.6L90.3 308.7L92.0 311.8ZM120.3 368.1L115.2 358.9L112.8 360.3L118.2 369.3ZM113.5 355.9L111.8 352.8L109.2 354.3L111.0 357.3ZM110.1 349.7L106.7 343.6L103.8 345.3L107.4 351.3ZM105.0 340.6L99.9 331.4L96.6 333.3L102.0 342.3ZM98.2 328.3L93.1 319.1L89.4 321.3L94.8 330.3ZM132.5 401.9L126.0 393.6L124.8 394.6L131.6 402.6ZM110.9 374.3L106.6 368.8L104.6 370.4L109.1 375.8ZM100.1 360.5L98.0 357.8L95.6 359.7L97.9 362.4ZM106.7 373.2L104.5 370.5L102.5 372.2L104.9 374.8ZM100.0 365.2L97.7 362.5L95.5 364.4L97.8 367.0ZM110.3 379.3L103.4 371.4L101.5 373.1L108.7 380.8ZM110.9 393.7L102.9 386.9L101.5 388.7L109.7 395.2ZM100.2 384.7L94.8 380.2L93.2 382.2L98.7 386.5ZM92.1 377.9L86.8 373.5L84.9 375.7L90.4 380.1ZM81.4 369.0L76.0 364.5L73.9 367.1L79.4 371.4ZM59.9 351.0L54.6 346.5L51.8 349.9L57.4 354.2ZM22.4 319.5L17.0 315.0L13.3 319.7L18.8 324.0ZM98.6 386.6L95.9 384.5L94.4 386.5L97.2 388.5ZM87.6 378.0L82.1 373.7L80.2 376.2L85.9 380.3ZM76.5 369.4L71.0 365.1L68.9 367.9L74.6 372.0ZM35.1 337.1L32.4 335.0L29.3 339.1L32.1 341.1ZM151.9 523.0L151.7 526.5L154.9 526.6L154.9 523.1ZM160.3 505.4L160.5 508.9L163.1 508.7L162.8 505.2ZM160.8 512.4L161.3 519.4L164.2 519.1L163.5 512.2ZM161.5 522.9L162.3 533.3L165.7 533.0L164.6 522.6ZM163.8 554.3L164.3 561.3L168.6 560.9L167.9 553.9ZM161.9 508.8L162.8 519.3L165.8 518.9L164.5 508.5ZM163.5 526.2L164.1 533.2L167.5 532.8L166.6 525.9ZM164.7 540.2L165.3 547.1L169.2 546.7L168.3 539.8ZM165.9 554.1L166.2 557.6L170.4 557.2L170.0 553.7ZM169.4 532.6L169.9 536.1L173.4 535.5L172.8 532.1ZM170.4 539.5L170.9 543.0L174.6 542.4L174.0 538.9ZM168.1 504.4L168.7 507.9L171.3 507.4L170.5 504.0ZM170.5 518.2L172.4 528.6L175.6 527.9L173.4 517.7ZM188.2 618.2L189.5 625.1L195.9 623.8L194.4 617.0ZM172.1 510.8L173.6 517.6L176.5 517.0L174.8 510.2ZM185.3 572.4L186.0 575.8L190.8 574.7L190.0 571.3ZM188.9 589.5L189.7 592.9L195.0 591.7L194.2 588.3ZM194.8 616.9L195.5 620.3L201.8 618.9L200.9 615.5ZM158.5 445.7L160.9 455.9L161.7 455.7L159.0 445.6ZM171.9 503.7L173.5 510.5L176.2 509.8L174.3 503.1ZM174.3 513.9L175.1 517.3L178.0 516.6L177.1 513.2ZM179.5 501.5L181.8 508.1L184.3 507.2L181.8 500.6ZM192.0 537.9L195.5 547.8L199.3 546.4L195.6 536.6ZM202.3 567.7L203.5 571.0L208.1 569.3L206.8 566.0ZM213.8 600.7L214.9 604.1L220.6 602.0L219.4 598.7ZM216.0 607.4L218.3 614.0L224.4 611.8L221.9 605.2ZM183.2 503.9L187.0 513.7L189.7 512.6L185.6 502.9ZM219.7 598.6L220.9 601.9L226.6 599.6L225.2 596.4ZM207.0 547.0L208.4 550.2L212.3 548.4L210.8 545.2ZM189.7 504.9L191.2 508.1L193.7 506.8L192.2 503.7ZM231.2 593.7L232.7 596.8L238.2 594.2L236.6 591.1ZM187.9 498.0L189.5 501.1L191.8 499.9L190.2 496.9ZM191.0 504.3L192.5 507.4L195.1 506.1L193.4 503.0ZM234.0 592.3L237.1 598.6L242.6 595.8L239.4 589.6ZM194.8 502.3L199.9 511.5L202.6 509.9L197.2 500.9ZM201.6 514.5L203.3 517.6L206.2 515.9L204.4 512.9ZM245.8 594.1L247.5 597.1L253.0 594.0L251.2 591.0ZM200.9 506.8L202.7 509.8L205.3 508.2L203.4 505.3ZM206.3 515.8L208.1 518.8L211.0 517.0L209.1 514.1ZM220.8 539.8L222.6 542.8L226.3 540.5L224.3 537.6ZM237.0 566.8L238.8 569.8L243.4 567.0L241.5 564.0ZM205.4 508.1L211.2 516.9L214.0 515.0L208.0 506.4ZM234.2 547.8L238.1 553.6L242.2 550.8L238.1 545.1ZM206.5 498.8L210.7 504.4L213.1 502.5L208.7 497.1ZM212.8 507.2L214.9 510.0L217.5 508.0L215.3 505.3ZM217.1 512.8L219.2 515.6L222.0 513.4L219.8 510.7ZM245.8 515.1L250.9 519.9L253.8 516.6L248.5 512.0ZM258.6 527.0L261.1 529.4L264.3 525.8L261.7 523.5ZM216.9 478.9L219.7 481.0L221.3 478.9L218.5 476.8ZM244.5 500.4L252.8 506.9L255.3 503.6L246.8 497.4ZM255.5 509.0L261.1 513.3L263.7 509.8L258.1 505.6ZM266.6 517.6L269.3 519.8L272.2 515.9L269.4 513.9ZM232.1 475.0L238.2 478.5L239.7 475.7L233.5 472.5ZM241.2 480.3L247.3 483.8L249.0 480.7L242.8 477.4ZM253.3 487.3L256.4 489.0L258.3 485.6L255.2 484.0ZM259.4 490.8L265.5 494.3L267.5 490.6L261.3 487.3ZM268.5 496.0L277.6 501.2L279.9 497.1L270.6 492.2Z"/><path fill="#880008" d="M239.5 392.9L242.7 391.5L241.3 388.6L238.2 390.1ZM257.1 366.7L260.1 364.8L257.9 361.3L255.0 363.3ZM215.4 370.1L217.9 367.6L215.8 365.6L213.4 368.1ZM190.2 364.3L191.8 361.3L189.5 360.1L187.9 363.2ZM149.0 362.9L148.7 359.4L146.3 359.6L146.8 363.1ZM108.4 330.9L106.9 327.8L103.6 329.4L105.1 332.5ZM98.4 381.4L95.7 379.2L94.0 381.1L96.8 383.4ZM87.0 384.8L84.1 382.9L82.5 385.2L85.5 387.1ZM95.2 406.5L91.9 405.2L91.1 407.3L94.4 408.5ZM77.9 402.6L74.6 401.4L73.7 404.1L77.0 405.2ZM77.0 405.3L73.7 404.3L72.8 407.0L76.2 407.9ZM109.2 420.1L105.8 419.3L105.4 420.9L108.9 421.6ZM71.7 411.4L68.3 410.7L67.7 413.5L71.1 414.2ZM125.5 429.6L122.0 429.5L122.0 430.6L125.5 430.6ZM115.0 431.3L111.5 431.4L111.6 432.8L115.1 432.7ZM76.8 437.5L73.3 437.8L73.6 440.5L77.1 440.1ZM43.2 450.4L39.8 451.0L40.5 454.8L44.0 454.1ZM30.4 471.2L27.1 472.3L28.6 476.5L31.9 475.3ZM83.9 463.8L80.7 465.3L81.9 467.8L85.0 466.2ZM126.4 447.1L123.4 448.9L124.0 449.9L127.0 448.1ZM131.1 448.0L128.3 450.0L129.0 450.9L131.7 448.7ZM57.6 501.5L54.7 503.6L57.2 506.9L60.0 504.7ZM108.3 469.9L105.6 472.1L107.0 473.7L109.6 471.4ZM81.5 512.4L79.1 515.0L82.0 517.5L84.2 514.8ZM126.5 463.5L124.2 466.1L125.4 467.1L127.6 464.4ZM99.0 517.0L97.1 520.0L100.1 521.8L101.9 518.8ZM117.5 511.3L116.0 514.5L118.8 515.7L120.2 512.5ZM118.9 511.9L117.5 515.1L120.3 516.3L121.6 513.1ZM136.7 473.9L135.3 477.1L136.9 477.7L138.1 474.5ZM138.7 507.4L138.0 510.8L140.7 511.3L141.3 507.9ZM133.7 531.4L132.9 534.8L136.4 535.5L137.0 532.0ZM136.8 524.9L136.1 528.3L139.3 528.9L139.9 525.4ZM146.1 487.4L145.5 490.9L147.5 491.1L147.9 487.7ZM151.6 530.0L151.5 533.5L154.9 533.6L154.9 530.1ZM153.6 516.1L153.5 519.6L156.5 519.6L156.4 516.1ZM168.0 522.2L168.4 525.7L171.6 525.2L171.0 521.7ZM170.7 503.9L171.4 507.4L173.9 506.8L173.1 503.4ZM195.5 547.8L196.6 551.1L200.6 549.7L199.3 546.4ZM209.4 505.4L211.5 508.2L214.0 506.3L211.9 503.5ZM214.9 510.0L217.1 512.8L219.8 510.7L217.5 508.0ZM243.2 512.7L245.8 515.1L248.5 512.0L245.9 509.7ZM279.6 517.7L282.5 519.7L285.3 515.4L282.4 513.5Z"/><path fill="#980008" d="M245.0 380.6L248.1 378.9L246.3 375.8L243.3 377.6ZM204.3 365.1L206.4 362.3L204.1 360.6L202.1 363.5ZM58.7 347.0L56.1 344.7L53.3 348.1L56.0 350.3ZM100.7 389.7L97.9 387.6L96.5 389.5L99.3 391.5ZM107.8 412.5L104.6 411.3L104.0 413.0L107.3 414.1ZM34.4 389.2L31.1 388.1L29.8 392.2L33.1 393.2ZM11.2 381.2L7.9 380.1L6.3 385.0L9.7 386.0ZM36.3 409.8L32.9 409.2L32.2 413.2L35.7 413.7ZM115.2 426.5L111.7 426.1L111.6 427.5L115.1 427.8ZM-34.5 410.9L-38.0 410.5L-38.5 416.9L-35.0 417.1ZM122.0 431.2L118.5 431.3L118.5 432.5L122.0 432.3ZM24.7 444.4L21.2 444.8L21.8 449.2L25.3 448.7ZM-10.8 466.0L-14.2 466.7L-12.9 472.3L-9.5 471.5ZM-21.0 468.2L-24.5 468.9L-23.1 474.8L-19.7 474.0ZM100.6 449.4L97.3 450.5L98.0 452.4L101.3 451.2ZM66.7 468.2L63.4 469.6L64.8 472.6L68.0 471.1ZM-58.9 521.6L-62.2 523.0L-59.0 530.2L-55.8 528.7ZM88.2 464.7L85.1 466.3L86.3 468.6L89.4 466.9ZM27.6 513.5L24.7 515.4L27.5 519.7L30.4 517.7ZM80.2 485.0L77.4 487.1L79.3 489.6L82.1 487.5ZM109.7 466.0L107.0 468.2L108.2 469.8L110.9 467.5ZM82.2 487.6L79.4 489.8L81.4 492.2L84.1 490.0ZM99.5 475.6L96.8 477.8L98.4 479.8L101.0 477.5ZM132.4 449.6L129.7 451.8L130.5 452.7L133.1 450.3ZM104.5 476.1L101.9 478.5L103.5 480.2L106.0 477.8ZM82.2 503.5L79.8 506.0L82.3 508.4L84.7 505.9ZM80.9 525.6L78.7 528.4L82.0 530.9L84.1 528.0ZM101.8 526.9L100.1 529.9L103.4 531.7L105.0 528.6ZM130.5 478.7L128.9 481.9L130.7 482.7L132.1 479.5ZM136.6 499.7L135.7 503.1L138.1 503.7L138.9 500.3ZM132.7 527.6L131.9 531.0L135.3 531.7L135.9 528.3ZM130.0 548.5L129.3 551.9L133.4 552.7L134.0 549.3ZM147.2 494.6L146.8 498.1L149.0 498.3L149.3 494.8ZM149.1 498.3L148.8 501.8L151.2 502.0L151.4 498.5ZM184.1 495.9L185.6 499.1L187.8 498.0L186.3 494.9ZM266.2 499.9L269.1 501.8L271.4 498.0L268.4 496.2ZM235.0 469.5L238.2 471.1L239.5 468.3L236.3 466.9ZM253.8 442.6L257.2 443.1L257.6 439.7L254.1 439.4Z"/><path fill="#c80010" d="M221.4 376.7L224.1 374.5L222.2 372.3L219.6 374.6ZM213.3 363.4L215.6 360.7L213.3 358.8L211.1 361.5ZM177.1 366.3L178.2 363.0L176.0 362.2L174.9 365.6ZM187.1 325.4L188.1 322.0L184.5 321.0L183.6 324.4ZM163.9 366.7L164.4 363.3L162.2 363.0L161.8 366.5ZM39.7 395.5L36.4 394.4L35.3 398.4L38.6 399.3ZM130.0 423.5L126.6 422.5L126.4 423.4L129.8 424.3ZM39.1 414.4L35.7 413.9L35.2 417.9L38.7 418.3ZM-51.9 409.0L-55.4 408.7L-56.0 415.7L-52.5 415.9ZM21.0 419.0L17.5 418.7L17.2 423.3L20.7 423.4ZM125.5 429.1L122.0 428.9L122.0 430.0L125.5 430.1ZM83.6 426.9L80.1 426.7L80.0 429.2L83.5 429.3ZM87.3 436.6L83.8 436.9L84.0 439.3L87.5 438.8ZM94.3 437.0L90.9 437.4L91.1 439.5L94.6 439.0ZM99.2 444.6L95.8 445.4L96.3 447.4L99.7 446.4ZM43.8 466.9L40.4 467.9L41.7 471.7L45.0 470.5ZM128.1 442.6L124.9 444.0L125.3 445.0L128.5 443.5ZM74.4 468.3L71.2 469.8L72.5 472.5L75.7 470.9ZM77.2 473.8L74.1 475.5L75.7 478.2L78.7 476.4ZM102.2 461.1L99.2 462.9L100.3 464.7L103.2 462.9ZM127.0 448.1L124.1 450.0L124.7 451.0L127.6 449.0ZM123.5 455.3L120.7 457.4L121.7 458.5L124.3 456.3ZM94.0 480.1L91.3 482.3L93.1 484.3L95.7 482.0ZM83.2 488.9L80.4 491.1L82.5 493.5L85.1 491.2ZM99.5 486.2L97.1 488.6L99.0 490.5L101.4 488.0ZM-6.8 592.7L-9.3 595.1L-3.7 600.5L-1.3 597.9ZM117.3 474.0L115.0 476.7L116.6 478.0L118.8 475.3ZM80.6 516.3L78.3 519.0L81.3 521.5L83.5 518.7ZM112.3 483.5L110.1 486.2L111.9 487.7L114.0 484.9ZM84.7 524.1L82.6 526.9L85.8 529.2L87.8 526.4ZM100.7 505.5L98.6 508.3L101.2 510.1L103.2 507.2ZM112.8 500.9L111.0 503.9L113.5 505.3L115.2 502.3ZM133.1 480.0L131.7 483.1L133.4 483.9L134.7 480.7ZM136.9 477.8L135.7 481.0L137.4 481.6L138.5 478.3ZM145.7 483.8L145.1 487.2L146.9 487.5L147.4 484.1ZM148.8 470.1L148.2 473.6L149.7 473.8L150.1 470.3ZM159.4 554.5L159.6 558.0L163.8 557.8L163.5 554.3ZM180.7 497.3L181.9 500.6L184.2 499.7L182.9 496.4ZM217.0 499.3L219.3 501.9L221.6 499.7L219.2 497.2ZM243.6 522.2L246.1 524.8L249.2 521.7L246.6 519.2ZM287.1 456.1L290.5 456.8L291.3 452.3L287.8 451.8Z"/><path fill="#a8000c" d="M205.4 370.4L207.7 367.7L205.5 366.0L203.4 368.8ZM98.0 357.8L95.8 355.0L93.4 357.0L95.6 359.7ZM58.6 352.6L55.8 350.4L53.2 353.8L56.0 355.9ZM77.3 374.2L74.5 372.2L72.6 374.9L75.5 376.8ZM117.4 417.0L114.1 415.8L113.6 417.1L117.0 418.2ZM100.6 411.9L97.3 410.8L96.7 412.7L100.0 413.7ZM108.3 425.7L104.8 425.4L104.6 427.0L108.1 427.3ZM108.2 426.5L104.7 426.2L104.6 427.9L108.1 428.1ZM101.2 425.9L97.7 425.6L97.6 427.5L101.1 427.7ZM70.3 442.6L66.9 443.1L67.3 446.0L70.8 445.4ZM119.2 437.6L115.7 438.3L116.0 439.6L119.4 438.8ZM63.7 460.3L60.4 461.4L61.5 464.5L64.8 463.4ZM54.3 465.4L51.0 466.5L52.3 469.9L55.5 468.7ZM33.2 487.5L30.0 489.0L32.0 493.1L35.1 491.6ZM22.7 498.1L19.6 499.7L22.0 504.2L25.1 502.5ZM71.1 477.2L68.0 478.9L69.7 481.8L72.7 480.0ZM81.0 473.4L78.0 475.2L79.5 477.7L82.5 475.8ZM124.1 450.0L121.1 451.8L121.8 452.9L124.7 451.0ZM39.2 511.9L36.3 513.9L39.1 517.8L41.9 515.7ZM124.4 456.3L121.7 458.6L122.6 459.7L125.3 457.3ZM116.7 478.0L114.5 480.8L116.1 482.1L118.2 479.3ZM112.0 492.1L110.0 494.9L112.2 496.4L114.1 493.5ZM104.7 508.2L102.8 511.2L105.5 512.8L107.3 509.8ZM105.6 512.9L103.8 515.9L106.7 517.6L108.4 514.5ZM142.4 453.4L140.7 456.4L141.6 456.9L143.2 453.8ZM110.0 515.4L108.4 518.5L111.3 520.0L112.8 516.8ZM101.2 546.2L99.7 549.4L103.7 551.1L105.1 547.9ZM139.4 467.4L138.0 470.7L139.4 471.2L140.6 467.9ZM145.9 458.7L144.8 462.0L145.9 462.3L146.8 459.0ZM118.8 549.2L117.8 552.6L121.9 553.7L122.8 550.3ZM162.2 498.2L162.5 501.7L164.9 501.4L164.4 497.9ZM169.3 511.3L169.9 514.8L172.7 514.2L172.0 510.8ZM192.6 495.5L194.3 498.5L196.5 497.2L194.7 494.2ZM195.9 493.5L197.8 496.4L200.0 494.9L198.0 492.1ZM200.1 494.9L202.1 497.7L204.3 496.1L202.2 493.3ZM250.3 485.5L253.3 487.3L255.2 484.0L252.1 482.3ZM265.5 494.3L268.5 496.0L270.6 492.2L267.5 490.6ZM266.0 454.1L269.5 454.8L270.2 451.0L266.8 450.4ZM250.9 433.9L254.4 434.0L254.5 430.7L251.0 430.7Z"/><path fill="#808078" stroke="#808078" stroke-width="0.5" d="M160.2 419.8L173.8 391.4L173.0 391.0L160.0 419.7ZM178.3 381.9L184.4 369.3L183.1 368.7L177.3 381.4ZM159.2 419.4L174.0 380.1L172.9 379.7L159.0 419.3ZM183.9 353.8L188.8 340.7L186.9 340.1L182.2 353.3ZM158.6 419.2L169.2 385.8L168.3 385.5L158.4 419.1ZM176.6 362.4L181.9 345.8L180.1 345.2L175.2 362.0ZM158.4 419.1L168.4 385.6L167.5 385.3L158.2 419.0ZM159.2 415.7L169.5 378.6L168.4 378.3L158.9 415.6ZM158.6 415.5L168.5 374.7L167.3 374.4L158.3 415.5ZM158.1 415.4L163.7 388.0L162.9 387.8L157.8 415.4ZM164.5 384.6L167.3 370.8L166.0 370.6L163.5 384.4ZM157.0 418.8L165.2 370.5L163.9 370.3L156.8 418.7ZM156.4 418.7L162.0 370.0L160.7 369.9L156.1 418.7ZM156.2 415.1L159.9 369.8L158.6 369.7L155.9 415.1ZM162.4 338.4L164.1 317.5L161.7 317.3L160.5 338.3ZM154.9 418.6L154.5 352.1L152.8 352.1L154.7 418.6ZM154.5 418.6L151.7 352.2L150.1 352.3L154.2 418.6ZM154.1 415.1L151.4 369.7L150.1 369.8L153.8 415.1ZM153.0 418.8L143.9 363.5L142.5 363.8L152.8 418.8ZM141.6 349.7L139.3 335.9L137.3 336.2L139.9 350.0ZM152.8 418.8L142.1 360.3L140.6 360.6L152.6 418.8ZM151.6 419.1L132.8 355.3L131.3 355.8L151.4 419.2ZM126.9 335.1L123.0 321.7L120.7 322.4L124.9 335.8ZM151.0 419.3L123.1 340.1L121.2 340.7L150.8 419.4ZM150.8 419.4L135.0 376.7L133.8 377.1L150.6 419.4ZM133.7 373.4L126.4 353.7L124.8 354.4L132.5 373.9ZM150.6 419.4L130.2 367.3L128.9 367.8L150.4 419.5ZM128.9 364.0L123.8 351.0L122.1 351.7L127.5 364.6ZM148.8 416.4L123.8 358.6L122.3 359.2L148.5 416.5ZM122.4 355.3L115.5 339.3L113.6 340.1L120.9 356.0ZM149.5 419.9L101.2 326.7L99.0 327.9L149.3 420.1ZM147.2 417.2L129.4 387.0L128.5 387.6L146.9 417.4ZM127.7 384.0L118.8 368.9L117.5 369.7L126.7 384.6ZM99.3 335.7L92.3 323.6L90.0 325.0L97.4 336.9ZM148.6 420.5L118.6 373.2L117.4 374.0L148.4 420.6ZM148.2 420.7L126.5 388.9L125.6 389.5L148.0 420.8ZM110.7 365.8L102.7 354.3L101.2 355.4L109.3 366.8ZM146.0 418.0L127.8 392.3L127.0 392.9L145.8 418.2ZM145.8 418.1L127.1 392.8L126.3 393.4L145.5 418.3ZM114.6 375.9L106.3 364.6L105.0 365.6L113.5 376.7ZM147.7 421.1L126.5 393.3L125.7 393.9L147.5 421.2ZM145.2 418.6L122.9 391.6L122.1 392.3L144.9 418.8ZM142.2 416.6L123.3 395.9L122.6 396.6L141.9 416.8ZM144.0 419.7L119.0 395.1L118.3 395.9L143.7 420.0ZM146.0 422.6L119.9 399.4L119.2 400.1L145.9 422.8ZM114.6 394.7L101.5 383.1L100.6 384.3L113.9 395.6ZM133.3 416.2L115.9 404.6L115.3 405.4L133.0 416.7ZM138.8 420.6L94.1 393.1L93.3 394.4L138.6 421.0ZM91.1 391.3L79.2 384.0L78.2 385.6L90.3 392.6ZM141.7 422.7L129.6 415.6L129.3 416.1L141.5 423.0ZM126.6 413.8L84.4 388.9L83.6 390.3L126.2 414.4ZM60.3 374.6L48.3 367.5L47.0 369.7L59.2 376.6ZM144.5 424.9L123.0 413.1L122.6 413.8L144.3 425.1ZM131.8 419.0L113.0 409.6L112.5 410.4L131.5 419.4ZM140.9 424.1L112.3 411.0L111.9 411.9L140.8 424.4ZM143.9 426.0L111.6 412.5L111.2 413.5L143.8 426.2ZM27.6 377.6L11.4 370.8L10.2 373.9L26.5 380.2ZM143.8 426.4L107.7 412.8L107.4 413.8L143.7 426.6ZM97.9 409.1L84.8 404.2L84.3 405.7L97.5 410.3ZM143.6 427.0L110.2 416.4L109.9 417.3L143.5 427.2ZM33.5 392.0L13.5 385.7L12.5 388.7L32.7 394.6ZM140.0 426.7L106.1 417.9L105.9 418.9L139.9 427.0ZM75.6 409.9L62.1 406.4L61.6 408.4L75.2 411.6ZM41.8 401.1L11.3 393.2L10.5 396.2L41.2 403.5ZM143.3 428.0L109.1 420.3L108.9 421.3L143.2 428.2ZM139.8 427.5L102.1 419.7L101.9 420.9L139.8 427.8ZM88.4 416.9L71.2 413.4L70.9 415.2L88.1 418.3ZM139.5 429.6L104.6 427.4L104.5 428.5L139.5 430.0ZM87.1 426.3L73.2 425.5L73.1 427.2L87.1 427.8ZM52.2 424.1L38.2 423.3L38.1 425.7L52.1 426.3ZM143.1 431.9L125.7 433.9L125.8 434.5L143.1 432.2ZM122.2 434.3L104.8 436.2L104.9 437.3L122.3 435.0ZM38.7 443.6L24.8 445.2L25.2 447.9L39.0 446.1ZM-6.5 448.7L-27.4 451.1L-26.9 454.9L-6.1 452.1ZM140.1 434.7L102.9 444.9L103.3 446.0L140.1 435.0ZM45.6 460.7L25.3 466.3L26.1 469.0L46.2 463.0ZM145.3 442.7L116.9 478.3L118.0 479.1L145.6 442.9ZM110.4 486.5L75.5 530.2L77.6 531.9L111.6 487.4ZM152.8 442.4L140.6 507.8L142.2 508.0L153.0 442.4ZM153.4 442.5L151.6 456.4L152.1 456.4L153.7 442.5ZM151.1 459.8L145.5 501.5L147.0 501.7L151.7 459.9ZM154.2 442.6L153.1 460.0L153.8 460.1L154.5 442.6ZM152.9 463.5L150.1 508.9L151.7 509.0L153.6 463.6ZM154.3 446.1L151.8 502.0L153.3 502.1L154.6 446.1ZM154.8 446.1L154.3 502.1L155.7 502.1L155.2 446.1ZM155.3 442.6L157.2 519.6L159.0 519.5L155.5 442.6ZM156.3 442.5L162.6 498.2L164.0 498.0L156.6 442.5ZM163.0 501.7L164.5 515.6L166.3 515.3L164.5 501.5ZM166.5 533.0L168.0 546.9L170.5 546.6L168.6 532.7ZM159.4 452.7L167.7 493.8L169.1 493.5L159.9 452.6ZM170.5 507.6L173.3 521.3L175.2 520.9L172.1 507.2ZM158.4 442.1L177.2 505.9L178.7 505.4L158.6 442.0ZM158.6 442.1L171.1 482.1L172.2 481.8L158.8 442.0ZM176.4 498.8L181.6 515.5L183.4 515.0L177.8 498.4ZM158.8 442.0L177.6 498.4L179.0 498.0L159.0 441.9ZM160.9 444.9L184.9 503.2L186.4 502.5L161.2 444.8ZM166.7 457.7L182.0 493.0L183.3 492.4L167.3 457.4Z"/><path fill="#808078" d="M175.6 388.3L177.1 385.2L175.6 384.5L174.2 387.7ZM186.3 366.3L189.4 360.0L187.0 358.9L184.1 365.3ZM190.9 356.9L192.4 353.7L189.8 352.5L188.4 355.7ZM215.4 306.5L218.5 300.2L214.1 298.2L211.2 304.6ZM178.1 370.4L180.6 363.8L178.3 363.0L176.1 369.6ZM181.8 360.6L183.1 357.3L180.6 356.4L179.5 359.7ZM196.8 321.3L198.1 318.1L194.3 316.7L193.2 320.0ZM170.6 382.6L171.6 379.2L169.9 378.7L169.0 382.1ZM173.8 372.6L176.0 365.9L173.8 365.3L171.9 372.0ZM184.6 339.3L185.7 335.9L182.5 335.0L181.5 338.3ZM169.7 382.3L170.7 378.9L169.0 378.5L168.1 381.8ZM175.6 358.5L176.6 355.1L174.1 354.4L173.2 357.8ZM185.2 324.8L186.2 321.5L182.6 320.5L181.7 323.9ZM173.9 354.4L176.5 344.2L173.6 343.6L171.4 353.8ZM169.8 360.6L170.5 357.2L168.1 356.8L167.5 360.2ZM166.1 367.1L166.7 363.6L164.5 363.3L164.0 366.7ZM167.4 360.2L168.0 356.7L165.5 356.3L165.0 359.8ZM171.6 336.0L172.2 332.6L168.9 332.1L168.4 335.5ZM163.2 363.1L163.7 359.6L161.3 359.4L161.0 362.9ZM165.3 345.7L165.8 342.3L162.8 341.9L162.5 345.4ZM166.2 338.8L167.0 331.8L163.8 331.5L163.1 338.5ZM167.5 328.4L168.3 321.4L164.7 321.0L164.1 328.0ZM160.9 362.9L161.2 359.4L158.8 359.2L158.6 362.7ZM154.9 303.1L154.9 299.6L150.5 299.7L150.7 303.2ZM149.9 289.2L149.8 285.7L145.0 285.9L145.3 289.4ZM149.7 282.2L149.6 278.7L144.5 279.0L144.8 282.5ZM151.2 359.2L150.6 348.7L147.9 348.9L148.8 359.4ZM147.7 292.8L147.5 289.3L142.8 289.6L143.1 293.1ZM147.1 282.3L146.9 278.8L141.9 279.2L142.2 282.7ZM136.6 315.1L135.5 308.1L131.4 308.9L132.8 315.7ZM134.9 304.7L134.4 301.2L130.1 302.0L130.8 305.4ZM140.7 349.9L140.1 346.4L137.3 347.0L138.0 350.4ZM139.5 343.0L138.9 339.5L135.8 340.1L136.6 343.5ZM135.2 318.8L134.0 311.9L130.0 312.7L131.5 319.6ZM132.8 305.1L132.1 301.6L127.9 302.4L128.6 305.9ZM120.7 311.4L119.7 308.1L115.7 309.3L116.8 312.6ZM116.8 320.0L113.4 310.1L109.4 311.5L113.2 321.3ZM125.7 350.3L123.3 343.7L120.4 344.8L123.0 351.3ZM120.9 337.1L119.7 333.8L116.5 335.1L117.8 338.3ZM114.9 320.7L113.7 317.4L110.0 318.8L111.3 322.1ZM120.5 341.0L118.0 334.5L114.8 335.8L117.6 342.2ZM114.2 324.7L113.0 321.4L109.4 322.9L110.7 326.1ZM114.7 335.8L113.3 332.6L110.1 334.0L111.6 337.2ZM109.2 322.9L107.8 319.7L104.2 321.3L105.6 324.5ZM98.6 320.2L97.0 317.0L93.3 319.0L95.0 322.1ZM117.4 365.7L112.2 356.6L109.8 358.1L115.3 367.0ZM108.7 350.5L106.9 347.5L104.2 349.1L106.1 352.1ZM105.2 344.5L101.7 338.4L98.6 340.2L102.3 346.2ZM107.8 355.2L105.9 352.2L103.3 353.9L105.3 356.8ZM124.8 385.9L122.8 383.0L121.2 384.1L123.3 386.9ZM118.9 377.2L113.0 368.5L111.0 369.9L117.1 378.4ZM85.6 327.9L83.6 325.0L80.1 327.4L82.2 330.2ZM124.0 386.4L118.0 377.8L116.2 379.1L122.5 387.4ZM115.9 374.9L111.9 369.2L109.9 370.7L114.1 376.3ZM107.9 363.5L103.9 357.7L101.5 359.5L105.7 365.1ZM83.8 329.1L79.8 323.4L76.3 325.9L80.5 331.5ZM123.2 386.9L121.2 384.1L119.6 385.3L121.8 388.0ZM80.0 327.5L77.9 324.7L74.4 327.3L76.6 330.1ZM111.9 373.5L109.8 370.7L107.9 372.3L110.1 375.0ZM78.2 328.8L76.1 326.0L72.6 328.7L74.8 331.4ZM101.1 364.2L98.9 361.5L96.7 363.4L99.0 366.0ZM96.7 358.8L92.3 353.3L89.8 355.4L94.4 360.7ZM90.1 350.6L85.7 345.2L82.9 347.5L87.5 352.8ZM68.1 323.4L65.9 320.7L62.3 323.7L64.6 326.4ZM48.2 299.0L46.0 296.2L41.6 299.9L43.9 302.6ZM114.1 385.3L111.8 382.7L110.2 384.2L112.7 386.7ZM109.5 380.1L102.4 372.3L100.5 374.1L107.8 381.6ZM100.1 369.7L97.7 367.1L95.7 369.0L98.1 371.6ZM90.7 359.3L88.4 356.7L85.9 359.0L88.4 361.5ZM83.7 351.5L79.0 346.3L76.2 348.9L81.1 353.9ZM57.3 333.1L54.9 330.6L51.6 334.0L54.2 336.4ZM91.4 373.4L88.8 371.1L86.9 373.3L89.6 375.6ZM68.0 352.4L65.4 350.0L62.8 353.1L65.4 355.3ZM145.0 423.9L136.3 418.0L135.9 418.7L144.8 424.2ZM110.2 400.4L104.4 396.5L103.3 398.2L109.2 401.9ZM101.5 394.6L98.6 392.6L97.4 394.5L100.3 396.4ZM92.8 388.7L87.0 384.8L85.5 387.1L91.4 390.8ZM84.1 382.9L75.4 377.0L73.6 379.7L82.5 385.2ZM66.7 371.1L63.8 369.2L61.8 372.2L64.7 374.1ZM67.6 376.1L58.7 370.5L56.8 373.8L65.8 379.0ZM55.7 368.7L52.8 366.8L50.7 370.3L53.7 372.0ZM81.7 386.6L75.7 383.0L74.1 385.7L80.3 389.1ZM69.7 379.4L63.7 375.8L61.9 378.9L68.0 382.3ZM120.0 411.2L113.9 407.8L113.1 409.2L119.4 412.4ZM104.7 402.8L98.6 399.4L97.6 401.3L103.8 404.5ZM86.3 392.6L83.2 390.9L82.0 393.3L85.1 394.9ZM80.2 389.2L77.1 387.5L75.7 390.1L78.9 391.7ZM55.7 375.7L49.6 372.3L47.7 375.8L53.9 379.0ZM43.4 368.9L40.4 367.2L38.3 371.0L41.4 372.6ZM12.8 351.9L9.7 350.2L7.2 355.1L10.3 356.7ZM144.3 425.2L134.9 420.4L134.6 421.1L144.1 425.5ZM110.0 407.7L103.7 404.5L102.9 406.3L109.3 409.2ZM94.4 399.8L88.1 396.6L87.1 398.8L93.4 401.8ZM75.7 390.3L72.5 388.7L71.2 391.4L74.4 392.9ZM66.3 385.5L63.2 383.9L61.7 387.0L64.9 388.5ZM47.6 376.0L44.5 374.4L42.7 378.1L45.8 379.6ZM109.2 409.3L102.9 406.3L102.1 408.1L108.5 410.8ZM90.2 400.4L80.7 396.0L79.5 398.5L89.2 402.6ZM55.3 384.2L52.1 382.7L50.6 386.2L53.8 387.5ZM89.2 402.7L82.7 400.0L81.7 402.4L88.3 404.9ZM79.5 398.6L76.3 397.3L75.2 399.9L78.5 401.1ZM53.7 387.7L50.5 386.3L49.1 389.8L52.3 391.1ZM78.4 401.3L71.9 398.8L70.9 401.6L77.5 403.8ZM49.0 390.0L45.7 388.8L44.4 392.4L47.7 393.6ZM42.5 387.5L35.9 385.0L34.5 389.0L41.1 391.3ZM29.4 382.5L26.1 381.3L24.6 385.6L27.9 386.7ZM107.0 415.0L100.3 412.9L99.7 414.7L106.5 416.6ZM90.3 409.6L83.7 407.5L82.9 409.9L89.7 411.8ZM40.4 393.5L37.0 392.4L35.8 396.3L39.2 397.3ZM-46.2 365.4L-52.9 363.3L-55.0 370.2L-48.3 372.1ZM92.7 414.0L85.9 412.2L85.3 414.5L92.2 416.0ZM58.9 404.9L52.1 403.1L51.3 406.6L58.1 408.1ZM48.7 402.2L45.3 401.3L44.4 405.0L47.8 405.8ZM-18.9 384.2L-22.3 383.3L-23.8 389.2L-20.4 390.0ZM-25.7 382.4L-29.1 381.5L-30.6 387.6L-27.2 388.4ZM102.4 418.5L95.6 416.9L95.1 418.9L102.0 420.3ZM88.7 415.4L85.3 414.6L84.8 416.9L88.3 417.6ZM75.1 412.2L71.7 411.4L71.1 414.2L74.5 414.9ZM68.3 410.7L61.4 409.1L60.8 412.2L67.7 413.5ZM58.0 408.3L54.6 407.5L53.9 410.9L57.3 411.5ZM51.2 406.7L41.0 404.4L40.2 408.2L50.5 410.2ZM30.7 402.0L23.9 400.5L23.0 404.8L29.9 406.2ZM20.5 399.7L10.3 397.3L9.3 402.1L19.6 404.2ZM-6.8 393.4L-10.2 392.6L-11.4 398.1L-7.9 398.8ZM-27.2 388.7L-34.1 387.1L-35.4 393.4L-28.5 394.8ZM61.1 410.7L57.7 410.0L57.0 413.2L60.5 413.8ZM54.2 409.3L44.0 407.1L43.2 410.8L53.6 412.6ZM40.5 406.4L30.3 404.2L29.5 408.4L39.8 410.2ZM23.4 402.8L20.0 402.0L19.1 406.5L22.6 407.1ZM16.6 401.3L13.1 400.6L12.2 405.3L15.7 405.9ZM97.6 426.6L94.1 426.4L94.0 428.4L97.5 428.5ZM34.8 422.3L24.3 421.6L24.1 425.9L34.6 426.3ZM-35.0 417.5L-38.5 417.2L-38.9 423.7L-35.4 423.8ZM97.8 436.7L94.3 437.0L94.6 439.0L98.1 438.6ZM90.9 437.4L87.4 437.8L87.7 440.0L91.1 439.5ZM73.5 439.2L70.0 439.6L70.3 442.4L73.8 441.9ZM66.5 440.0L63.0 440.3L63.4 443.4L66.9 442.9ZM59.5 440.7L49.1 441.8L49.5 445.3L59.9 443.9ZM45.6 442.2L42.1 442.6L42.6 446.3L46.1 445.8ZM21.2 444.8L14.3 445.5L14.9 450.2L21.8 449.2ZM99.5 445.5L96.1 446.4L96.6 448.4L100.0 447.4ZM89.3 448.3L79.2 451.0L79.9 453.5L90.0 450.4ZM75.8 451.9L69.1 453.7L69.9 456.5L76.6 454.5ZM65.7 454.6L62.3 455.5L63.2 458.6L66.5 457.6ZM55.5 457.3L52.2 458.3L53.1 461.6L56.5 460.6ZM18.4 467.3L15.0 468.3L16.3 472.9L19.6 471.9ZM11.6 469.2L4.8 471.0L6.3 475.9L13.0 473.9ZM-8.7 474.6L-15.4 476.4L-13.8 482.1L-7.1 480.0ZM114.5 480.8L112.3 483.5L114.0 484.9L116.1 482.1ZM63.8 543.4L57.2 551.5L61.3 554.7L67.6 546.3ZM48.4 562.4L46.2 565.1L50.8 568.7L52.9 565.9ZM44.0 567.9L39.6 573.3L44.4 577.1L48.7 571.5ZM19.8 597.8L15.4 603.2L21.2 607.8L25.5 602.2ZM13.2 606.0L11.0 608.7L17.0 613.4L19.1 610.6ZM136.1 528.3L135.4 531.7L138.8 532.3L139.3 528.9ZM132.8 545.5L132.1 548.9L136.0 549.6L136.6 546.1ZM127.5 573.0L126.8 576.4L131.6 577.3L132.2 573.8ZM116.8 627.9L116.2 631.4L122.8 632.6L123.4 629.1ZM142.2 522.2L141.2 529.1L144.5 529.5L145.3 522.6ZM140.8 532.6L140.3 536.1L143.8 536.5L144.1 533.0ZM136.9 560.3L136.4 563.8L140.8 564.4L141.2 560.9ZM132.5 591.5L132.0 595.0L137.5 595.7L137.9 592.2ZM149.1 515.9L148.9 519.4L151.8 519.5L151.9 516.0ZM148.6 522.9L148.1 529.9L151.4 530.0L151.7 523.0ZM147.9 533.4L147.7 536.8L151.2 537.0L151.3 533.5ZM151.1 505.5L151.0 509.0L153.6 509.1L153.6 505.6ZM150.4 519.5L150.2 523.0L153.3 523.1L153.4 519.6ZM150.1 526.5L149.7 533.5L153.1 533.6L153.2 526.6ZM153.8 505.6L153.6 516.1L156.4 516.1L156.2 505.6ZM153.5 519.6L153.5 523.1L156.5 523.1L156.5 519.6ZM153.4 526.6L153.3 533.6L156.7 533.6L156.6 526.6ZM156.7 523.1L156.8 526.6L159.9 526.5L159.8 523.0ZM156.8 530.1L156.9 533.6L160.3 533.5L160.1 530.0ZM158.0 445.8L158.6 449.2L159.3 449.1L158.5 445.7ZM168.7 500.8L169.4 504.2L171.8 503.7L171.0 500.3ZM182.8 572.9L184.1 579.8L189.1 578.7L187.5 571.9ZM192.2 621.0L192.9 624.4L199.3 623.1L198.5 619.7ZM193.5 627.9L194.2 631.3L200.8 629.9L200.0 626.5ZM177.7 509.4L179.6 516.1L182.4 515.3L180.3 508.6ZM171.9 485.6L174.9 495.6L177.1 494.9L173.7 485.0ZM178.2 501.9L180.4 508.6L183.0 507.7L180.6 501.1ZM191.3 541.8L193.4 548.5L197.3 547.2L194.9 540.6ZM187.1 509.8L188.4 513.1L191.1 511.9L189.7 508.7ZM206.8 558.5L208.1 561.8L212.4 559.9L211.0 556.7ZM210.7 568.2L212.1 571.5L216.7 569.5L215.3 566.3ZM221.3 594.2L223.9 600.7L229.5 598.3L226.6 591.9ZM161.1 444.9L165.2 454.5L166.0 454.2L161.5 444.7ZM183.0 496.4L187.1 506.1L189.6 504.9L185.2 495.4ZM203.6 544.7L204.9 547.9L208.8 546.2L207.3 543.0ZM225.5 596.2L226.8 599.5L232.4 597.0L230.9 593.8Z"/><path fill="#6e8870" d="M184.8 369.5L186.3 366.3L184.1 365.3L182.7 368.5ZM187.8 329.3L188.9 326.0L185.4 324.9L184.4 328.3ZM174.6 361.9L175.6 358.5L173.2 357.8L172.4 361.2ZM173.1 357.8L173.9 354.4L171.4 353.8L170.7 357.3ZM171.0 339.5L171.6 336.0L168.4 335.5L168.0 339.0ZM167.0 331.8L167.5 328.4L164.1 328.0L163.8 331.5ZM137.3 339.8L136.6 336.4L133.5 337.0L134.3 340.5ZM126.9 353.6L125.7 350.3L123.0 351.3L124.3 354.5ZM110.4 353.6L108.7 350.5L106.1 352.1L107.9 355.1ZM114.1 367.7L112.2 364.8L110.0 366.3L112.0 369.1ZM111.9 369.2L107.9 363.5L105.7 365.1L109.9 370.7ZM80.3 331.6L78.2 328.8L74.8 331.4L77.0 334.2ZM92.3 353.3L90.1 350.6L87.5 352.8L89.8 355.4ZM64.9 330.7L62.6 328.1L59.2 331.2L61.7 333.8ZM56.6 339.0L54.0 336.6L50.9 340.0L53.6 342.3ZM117.4 396.8L114.8 394.5L113.7 395.9L116.3 398.1ZM111.6 392.9L108.9 390.6L107.6 392.2L110.3 394.4ZM110.3 394.5L107.6 392.3L106.3 393.8L109.1 396.0ZM104.8 390.1L102.1 387.9L100.7 389.6L103.5 391.7ZM109.0 396.0L106.3 393.9L105.1 395.6L107.9 397.6ZM95.1 385.5L92.3 383.4L90.7 385.5L93.6 387.5ZM75.5 370.8L72.7 368.7L70.7 371.4L73.5 373.5ZM57.9 365.3L55.0 363.3L52.9 366.7L55.8 368.5ZM92.1 389.8L89.1 387.9L87.7 390.1L90.7 391.9ZM77.9 386.2L74.9 384.4L73.4 387.1L76.5 388.7ZM83.2 390.9L80.2 389.2L78.9 391.7L82.0 393.3ZM39.3 369.2L36.2 367.6L34.2 371.5L37.3 373.1ZM63.2 383.9L60.1 382.3L58.5 385.5L61.7 387.0ZM90.7 399.3L87.6 397.8L86.5 400.0L89.7 401.5ZM52.1 382.7L48.9 381.2L47.3 384.8L50.6 386.2ZM95.6 405.4L92.4 404.1L91.5 406.2L94.8 407.4ZM82.7 400.0L79.5 398.6L78.5 401.1L81.7 402.4ZM82.2 401.3L78.9 399.9L78.0 402.5L81.3 403.7ZM35.9 385.0L29.4 382.5L27.9 386.7L34.5 389.0ZM87.8 406.2L84.5 405.0L83.7 407.4L87.0 408.4ZM81.2 403.8L77.9 402.6L77.0 405.2L80.4 406.3ZM80.8 405.1L77.4 404.0L76.6 406.6L80.0 407.6ZM10.4 383.8L7.1 382.7L5.6 387.6L8.9 388.6ZM93.3 411.8L90.0 410.8L89.3 412.9L92.7 413.9ZM43.1 396.5L39.7 395.5L38.6 399.3L42.0 400.2ZM76.2 408.1L72.8 407.1L72.1 409.8L75.5 410.7ZM56.0 402.3L52.6 401.3L51.7 404.7L55.1 405.6ZM18.9 391.7L15.6 390.8L14.3 395.4L17.7 396.2ZM82.5 411.3L79.2 410.3L78.5 412.9L81.9 413.7ZM62.2 405.8L58.9 404.9L58.1 408.1L61.5 408.9ZM78.5 413.0L75.1 412.2L74.5 414.9L78.0 415.6ZM61.4 409.1L58.0 408.3L57.3 411.5L60.8 412.2ZM54.6 407.5L51.2 406.7L50.5 410.2L53.9 410.9ZM34.2 402.8L30.7 402.0L29.9 406.2L33.3 406.8ZM-3.4 394.2L-6.8 393.4L-7.9 398.8L-4.5 399.5ZM26.8 403.5L23.4 402.8L22.6 407.1L26.0 407.7ZM64.2 413.0L60.7 412.4L60.2 415.5L63.7 416.1ZM46.3 413.5L42.9 412.9L42.4 416.7L45.8 417.1ZM87.7 421.2L84.2 420.7L83.9 423.1L87.4 423.4ZM70.3 418.8L66.9 418.3L66.5 421.2L70.0 421.6ZM49.5 415.9L46.1 415.4L45.6 419.0L49.1 419.4ZM-40.6 403.3L-44.1 402.8L-44.9 409.4L-41.4 409.8ZM77.1 421.1L73.6 420.7L73.3 423.4L76.8 423.7ZM94.3 424.3L90.8 423.9L90.7 426.0L94.2 426.3ZM-38.3 413.9L-41.8 413.6L-42.2 420.1L-38.7 420.3ZM34.7 424.4L31.2 424.2L31.0 428.3L34.5 428.4ZM87.0 429.5L83.5 429.4L83.5 431.8L87.0 431.7ZM62.5 429.1L59.0 429.0L59.0 432.2L62.5 432.1ZM48.5 432.6L45.0 432.6L45.1 436.3L48.6 436.1ZM52.1 434.3L48.6 434.4L48.8 437.9L52.2 437.7ZM10.1 435.8L6.6 435.9L6.9 440.8L10.3 440.6ZM104.6 433.3L101.1 433.5L101.2 435.3L104.7 435.0ZM62.6 435.5L59.1 435.7L59.4 438.9L62.8 438.6ZM48.7 436.3L45.2 436.5L45.4 440.1L48.9 439.8ZM20.8 440.1L17.3 440.3L17.7 444.9L21.2 444.5ZM-24.6 443.3L-28.0 443.6L-27.5 449.6L-24.0 449.3ZM104.7 435.0L101.2 435.4L101.4 437.1L104.9 436.7ZM94.2 436.0L90.8 436.3L91.0 438.4L94.4 438.0ZM76.9 438.9L73.5 439.2L73.8 441.9L77.3 441.5ZM70.0 439.6L66.5 440.0L66.9 442.9L70.3 442.4ZM35.4 445.4L31.9 445.8L32.5 449.9L36.0 449.3ZM21.5 447.1L18.0 447.5L18.7 452.1L22.1 451.5ZM84.2 440.6L80.7 441.1L81.1 443.6L84.6 443.0ZM46.1 446.0L42.6 446.5L43.2 450.2L46.7 449.6ZM28.8 448.5L25.3 448.9L26.0 453.2L29.4 452.6ZM70.6 444.0L67.1 444.6L67.6 447.5L71.1 446.8ZM63.7 445.1L60.2 445.7L60.7 448.8L64.2 448.2ZM-8.9 456.7L-12.4 457.3L-11.4 462.8L-8.0 462.1ZM91.5 441.9L88.0 442.5L88.5 444.7L91.9 444.0ZM60.5 447.4L57.0 448.0L57.7 451.2L61.1 450.5ZM32.9 452.2L29.5 452.8L30.3 457.0L33.7 456.3ZM15.7 455.3L12.2 455.9L13.1 460.6L16.6 459.9ZM84.8 444.3L81.4 445.0L81.9 447.4L85.3 446.6ZM-1.1 461.1L-4.5 461.7L-3.4 467.0L0.0 466.2ZM57.7 451.4L50.8 452.8L51.6 456.3L58.4 454.6ZM61.5 452.3L58.1 453.1L58.9 456.3L62.2 455.4ZM37.6 457.8L34.2 458.6L35.2 462.6L38.6 461.7ZM-13.5 469.7L-16.9 470.5L-15.5 476.1L-12.1 475.2ZM31.3 461.6L27.9 462.4L29.0 466.6L32.4 465.6ZM-12.8 472.6L-16.2 473.4L-14.7 479.1L-11.3 478.1ZM102.9 444.6L99.5 445.5L100.0 447.4L103.3 446.3ZM52.2 458.3L48.8 459.2L49.8 462.7L53.1 461.6ZM32.5 465.9L29.1 466.8L30.4 471.0L33.7 469.9ZM23.1 471.1L19.7 472.1L21.2 476.6L24.5 475.4ZM60.4 461.4L53.7 463.6L54.9 466.9L61.5 464.5ZM-2.8 482.0L-6.2 483.1L-4.3 488.4L-1.0 487.2ZM71.4 461.1L68.1 462.3L69.2 465.2L72.5 463.9ZM62.1 466.3L58.9 467.6L60.2 470.8L63.4 469.4ZM6.6 487.7L3.3 489.0L5.4 494.0L8.6 492.6ZM76.3 464.1L73.1 465.4L74.3 468.1L77.5 466.7ZM70.5 468.3L67.3 469.7L68.7 472.6L71.8 471.1ZM0.2 499.7L-3.0 501.1L-0.6 506.3L2.6 504.8ZM102.9 454.9L99.7 456.4L100.6 458.2L103.7 456.7ZM14.1 496.4L11.0 497.9L13.3 502.7L16.4 501.1ZM82.0 467.9L78.9 469.5L80.2 472.0L83.2 470.3ZM82.6 469.2L79.5 470.8L80.9 473.3L84.0 471.5ZM19.1 506.1L16.0 507.8L18.6 512.4L21.6 510.6ZM-23.2 537.9L-26.2 539.7L-22.5 545.6L-19.5 543.7ZM49.9 496.4L46.9 498.3L49.2 501.8L52.1 499.9ZM100.9 465.8L98.0 467.7L99.3 469.6L102.1 467.5ZM30.5 511.6L27.6 513.5L30.4 517.7L33.3 515.7ZM59.2 497.8L56.4 499.8L58.7 503.0L61.5 500.9ZM33.4 515.9L30.6 517.9L33.5 522.0L36.3 519.9ZM61.8 517.6L59.3 520.0L62.3 523.2L64.8 520.7ZM65.9 516.8L60.8 521.7L63.9 524.8L68.8 519.7ZM67.4 518.4L64.9 520.8L68.0 523.8L70.4 521.2ZM62.4 523.3L60.0 525.8L63.2 528.9L65.6 526.3ZM3.1 582.8L0.6 585.2L5.8 590.3L8.2 587.7ZM44.6 545.1L42.2 547.6L46.2 551.3L48.5 548.7ZM-3.9 595.5L-6.4 598.0L-0.7 603.2L1.6 600.6ZM41.9 552.1L39.5 554.7L43.7 558.4L46.0 555.8ZM72.1 522.8L69.8 525.4L73.0 528.2L75.2 525.5ZM62.3 537.5L60.0 540.1L63.7 543.2L65.9 540.5ZM66.4 536.4L64.1 539.1L67.8 542.0L69.9 539.3ZM82.6 526.9L80.5 529.7L83.8 532.1L85.8 529.2ZM74.0 542.3L71.9 545.1L75.8 547.8L77.7 544.9ZM94.8 530.9L93.0 533.9L96.5 535.9L98.2 532.9ZM89.4 539.9L87.6 542.9L91.4 545.1L93.1 542.1ZM106.9 529.5L105.3 532.7L108.7 534.2L110.2 531.1ZM99.2 545.2L97.7 548.4L101.6 550.2L103.0 547.0ZM110.1 527.2L108.6 530.3L111.9 531.8L113.3 528.6ZM121.1 524.1L119.9 527.4L123.1 528.5L124.2 525.2ZM125.0 518.1L123.8 521.4L126.9 522.4L127.9 519.0ZM130.8 505.3L129.7 508.6L132.3 509.4L133.3 506.0ZM117.9 545.2L116.8 548.6L120.7 549.8L121.7 546.4ZM114.8 562.6L113.7 566.0L118.3 567.2L119.2 563.9ZM129.6 519.5L128.6 522.9L131.7 523.7L132.5 520.3ZM123.8 539.7L122.8 543.1L126.6 544.1L127.4 540.7ZM130.2 523.4L129.3 526.7L132.5 527.5L133.3 524.1ZM125.7 540.3L124.8 543.6L128.6 544.6L129.4 541.2ZM136.1 506.8L135.2 510.2L137.9 510.8L138.6 507.4ZM113.4 627.2L112.7 630.7L119.3 632.0L119.9 628.5ZM138.8 514.5L138.1 518.0L141.0 518.5L141.6 515.0ZM142.0 504.5L141.4 507.9L144.0 508.3L144.5 504.9ZM139.5 528.9L138.4 535.8L141.9 536.3L142.8 529.3ZM137.8 553.4L137.4 556.9L141.6 557.4L141.9 553.9ZM140.0 553.7L139.6 557.2L143.8 557.6L144.1 554.1ZM144.7 529.6L144.3 533.0L147.7 533.3L148.0 529.9ZM142.9 547.0L142.5 550.5L146.5 550.8L146.7 547.3ZM148.5 505.3L148.2 508.8L150.8 509.0L151.0 505.5ZM151.0 509.0L150.8 512.5L153.5 512.6L153.6 509.1ZM159.2 547.5L159.3 551.0L163.3 550.8L163.1 547.3ZM158.8 502.0L159.0 505.5L161.5 505.3L161.2 501.8ZM164.2 505.0L164.6 508.5L167.2 508.1L166.7 504.7ZM168.5 539.8L168.9 543.2L172.7 542.7L172.1 539.3ZM171.8 535.8L172.3 539.2L175.9 538.6L175.2 535.2ZM181.7 537.3L182.6 540.7L186.2 539.7L185.2 536.4ZM184.5 503.4L185.8 506.6L188.3 505.5L186.9 502.3Z"/><path fill="#728a72" d="M206.2 325.4L207.7 322.2L204.1 320.6L202.7 323.8ZM218.5 300.2L220.0 297.1L215.5 295.0L214.1 298.2ZM176.0 365.9L177.0 362.6L174.8 361.9L173.8 365.3ZM175.8 362.2L176.9 358.9L174.5 358.2L173.6 361.6ZM158.5 362.7L158.7 359.2L156.3 359.1L156.2 362.6ZM151.4 362.7L151.2 359.2L148.8 359.4L149.1 362.9ZM143.0 345.9L142.5 342.5L139.6 342.9L140.2 346.4ZM134.6 326.1L133.9 322.6L130.3 323.4L131.1 326.8ZM137.3 354.1L136.5 350.7L133.8 351.4L134.7 354.8ZM128.5 338.3L127.5 335.0L124.3 335.9L125.4 339.3ZM116.6 312.7L115.5 309.4L111.5 310.8L112.7 314.0ZM123.7 339.9L122.5 336.5L119.4 337.7L120.7 340.9ZM112.2 306.8L111.1 303.5L106.9 305.0L108.2 308.3ZM122.1 340.4L120.9 337.1L117.8 338.3L119.1 341.6ZM111.1 322.2L109.8 318.9L106.1 320.5L107.5 323.7ZM117.3 346.1L115.9 342.9L113.0 344.3L114.5 347.4ZM111.5 349.0L109.9 345.9L107.1 347.4L108.8 350.5ZM112.2 356.6L110.4 353.6L107.9 355.1L109.8 358.1ZM127.5 388.3L125.5 385.3L124.1 386.3L126.1 389.2ZM113.0 368.5L111.0 365.6L108.9 367.1L111.0 369.9ZM126.0 389.3L124.0 386.4L122.5 387.4L124.6 390.2ZM109.8 370.7L107.7 367.9L105.7 369.6L107.9 372.3ZM111.8 382.7L109.5 380.1L107.8 381.6L110.2 384.2ZM99.2 380.5L94.0 375.8L92.2 377.8L97.6 382.3ZM55.8 350.4L53.1 348.2L50.4 351.7L53.2 353.8ZM114.1 401.0L111.3 398.9L110.3 400.4L113.2 402.3ZM80.1 376.3L77.3 374.2L75.5 376.8L78.4 378.8ZM69.6 373.1L66.7 371.1L64.7 374.1L67.7 375.9ZM68.6 374.6L65.6 372.7L63.8 375.7L66.8 377.5ZM56.8 367.0L53.9 365.1L51.8 368.4L54.8 370.3ZM76.5 381.7L70.6 377.9L68.9 380.8L74.9 384.3ZM58.7 370.5L55.7 368.7L53.7 372.0L56.8 373.8ZM75.7 383.0L72.7 381.2L71.1 384.0L74.1 385.7ZM80.9 387.9L77.9 386.2L76.5 388.7L79.5 390.4ZM59.7 375.7L56.7 373.9L54.8 377.2L57.9 378.9ZM23.3 354.7L20.3 353.0L17.8 357.5L20.9 359.1ZM82.6 392.2L79.5 390.5L78.2 393.1L81.3 394.6ZM38.2 371.2L35.1 369.6L33.2 373.7L36.3 375.1ZM56.1 382.5L52.9 380.9L51.4 384.3L54.5 385.8ZM112.4 410.8L109.2 409.3L108.5 410.8L111.8 412.2ZM22.5 371.7L19.3 370.3L17.4 374.9L20.6 376.2ZM92.4 404.1L89.2 402.7L88.3 404.9L91.5 406.2ZM35.2 387.1L31.9 385.9L30.4 390.0L33.8 391.1ZM13.7 384.8L10.4 383.8L8.9 388.6L12.3 389.5ZM-15.5 385.1L-18.9 384.2L-20.4 390.0L-16.9 390.7ZM92.4 415.1L89.0 414.2L88.5 416.4L91.9 417.1ZM58.4 406.6L55.0 405.8L54.3 409.1L57.7 409.8ZM-16.3 388.1L-19.7 387.2L-21.0 393.0L-17.6 393.8ZM37.6 403.6L34.2 402.8L33.3 406.8L36.7 407.5ZM64.5 411.4L61.1 410.7L60.5 413.8L63.9 414.5ZM30.3 404.2L26.8 403.5L26.0 407.7L29.5 408.4ZM74.5 415.0L71.1 414.4L70.6 417.2L74.0 417.7ZM33.3 407.0L29.8 406.4L29.1 410.5L32.5 411.1ZM19.5 404.4L16.1 403.7L15.3 408.3L18.7 408.9ZM84.6 418.2L81.1 417.6L80.7 420.1L84.2 420.6ZM36.0 411.9L32.5 411.3L31.9 415.4L35.4 415.8ZM22.1 409.7L18.7 409.1L18.0 413.7L21.5 414.1ZM15.2 408.6L11.8 408.0L11.1 412.8L14.6 413.2ZM80.7 420.2L77.3 419.7L76.9 422.3L80.4 422.7ZM73.8 419.3L70.3 418.8L70.0 421.6L73.5 422.0ZM46.1 415.4L42.6 414.9L42.1 418.6L45.6 419.0ZM94.4 423.2L91.0 422.8L90.8 424.9L94.2 425.2ZM42.1 418.8L38.6 418.5L38.3 422.3L41.8 422.6ZM28.2 417.4L24.7 417.0L24.3 421.3L27.8 421.6ZM94.1 426.4L90.7 426.2L90.5 428.3L94.0 428.4ZM66.2 424.5L62.7 424.2L62.6 427.3L66.1 427.4ZM38.3 422.5L34.8 422.3L34.6 426.3L38.1 426.4ZM80.1 426.7L76.6 426.6L76.5 429.2L80.0 429.2ZM52.0 428.9L48.5 428.8L48.5 432.4L52.0 432.3ZM13.5 428.3L10.0 428.2L10.0 433.0L13.5 432.9ZM38.0 430.7L34.5 430.7L34.6 434.7L38.1 434.6ZM20.5 430.7L17.0 430.7L17.1 435.3L20.6 435.2ZM87.0 431.8L83.5 431.9L83.6 434.3L87.1 434.1ZM34.5 432.8L31.0 432.9L31.2 437.0L34.7 436.8ZM13.5 433.2L6.5 433.3L6.7 438.2L13.7 437.9ZM55.6 434.2L52.1 434.3L52.2 437.7L55.7 437.5ZM41.7 436.6L38.2 436.8L38.4 440.7L41.9 440.4ZM38.5 440.9L35.0 441.2L35.4 445.2L38.9 444.8ZM-20.8 446.1L-24.3 446.4L-23.7 452.4L-20.2 452.0ZM104.8 435.9L101.3 436.3L101.5 438.1L105.0 437.6ZM87.4 437.8L83.9 438.1L84.2 440.5L87.7 440.0ZM94.5 438.1L91.0 438.5L91.3 440.6L94.7 440.1ZM49.3 443.7L45.8 444.1L46.3 447.7L49.8 447.2ZM42.4 444.5L38.9 445.0L39.4 448.8L42.9 448.3ZM28.5 446.2L21.5 447.1L22.1 451.5L29.1 450.4ZM-2.8 450.1L-6.3 450.5L-5.5 455.9L-2.1 455.3ZM-23.6 452.7L-27.1 453.1L-26.3 459.1L-22.8 458.6ZM77.3 441.6L73.8 442.1L74.2 444.8L77.7 444.2ZM63.4 443.6L59.9 444.0L60.4 447.2L63.9 446.6ZM35.7 447.5L32.2 448.0L32.9 452.0L36.3 451.4ZM-12.8 454.3L-16.3 454.8L-15.4 460.5L-12.0 459.9ZM25.6 451.2L15.3 452.9L16.1 457.5L26.4 455.5ZM8.3 454.0L4.9 454.5L5.8 459.5L9.2 458.8ZM101.8 440.0L98.4 440.6L98.7 442.5L102.2 441.8ZM1.9 457.7L-1.6 458.3L-0.6 463.5L2.9 462.8ZM105.4 440.3L102.0 440.9L102.4 442.7L105.8 441.9ZM5.8 459.7L2.4 460.4L3.5 465.4L6.9 464.7ZM-24.5 468.9L-27.9 469.6L-26.5 475.7L-23.1 474.8ZM6.9 464.9L3.5 465.7L4.8 470.7L8.1 469.8ZM82.2 448.8L78.8 449.7L79.5 452.2L82.9 451.2ZM79.2 451.0L75.8 451.9L76.6 454.5L79.9 453.5ZM59.4 458.1L56.0 459.1L57.0 462.3L60.3 461.3ZM100.0 447.5L93.3 449.5L94.0 451.5L100.6 449.3ZM83.3 452.6L80.0 453.6L80.8 456.1L84.1 455.0ZM40.4 467.9L37.1 469.0L38.4 472.9L41.7 471.7ZM37.8 471.1L34.5 472.2L35.9 476.2L39.2 474.9ZM104.3 449.1L101.0 450.3L101.7 452.1L104.9 450.8ZM78.0 458.7L74.7 459.9L75.7 462.6L78.9 461.3ZM28.7 476.7L25.4 477.9L27.0 482.2L30.2 480.9ZM83.3 462.6L80.1 464.0L81.3 466.5L84.4 465.0ZM76.9 465.4L73.7 466.9L75.0 469.5L78.1 468.0ZM6.6 496.8L3.4 498.3L5.7 503.2L8.9 501.7ZM91.3 463.1L88.2 464.7L89.4 466.9L92.4 465.2ZM107.3 456.0L104.3 457.6L105.2 459.3L108.2 457.6ZM73.4 474.1L70.3 475.7L71.8 478.5L74.9 476.8ZM20.9 502.1L17.8 503.7L20.3 508.2L23.3 506.5ZM-25.5 526.8L-28.6 528.4L-25.2 534.4L-22.2 532.7ZM55.8 485.7L52.7 487.4L54.7 490.8L57.7 489.0ZM71.9 478.7L68.9 480.4L70.6 483.3L73.5 481.4ZM53.7 489.2L50.7 490.9L52.8 494.4L55.7 492.5ZM112.2 457.4L109.2 459.3L110.2 460.8L113.1 458.8ZM80.4 479.1L77.5 481.0L79.2 483.6L82.1 481.6ZM49.4 502.0L46.5 503.9L49.0 507.5L51.8 505.5ZM32.0 513.7L29.1 515.7L32.0 519.8L34.8 517.8ZM29.3 522.1L26.4 524.2L29.6 528.4L32.4 526.2ZM-4.7 574.6L-7.2 576.9L-2.3 582.2L0.2 579.8ZM-4.6 585.0L-7.1 587.4L-1.8 592.7L0.6 590.2ZM69.9 515.9L67.4 518.4L70.4 521.2L72.7 518.7ZM-4.3 590.2L-6.8 592.7L-1.3 597.9L1.1 595.4ZM70.5 521.4L68.1 523.9L71.3 526.8L73.6 524.1ZM65.7 526.5L63.4 529.0L66.7 532.0L69.0 529.4ZM37.1 557.2L34.7 559.8L39.1 563.7L41.4 561.1ZM57.7 542.8L53.1 548.0L57.0 551.4L61.4 545.9ZM74.8 529.8L72.6 532.5L76.1 535.2L78.2 532.4ZM18.5 605.7L16.3 608.4L22.3 612.9L24.4 610.1ZM78.1 536.6L76.0 539.5L79.7 542.0L81.7 539.1ZM87.5 538.8L85.7 541.8L89.4 544.0L91.2 541.0ZM98.4 533.0L96.7 536.0L100.2 537.9L101.8 534.8ZM97.7 548.4L96.1 551.5L100.2 553.4L101.6 550.2ZM99.7 549.4L98.3 552.5L102.3 554.4L103.7 551.1ZM128.7 511.9L127.6 515.3L130.4 516.1L131.4 512.8ZM127.5 533.5L126.6 536.9L130.2 537.8L131.0 534.3ZM123.0 550.4L121.2 557.2L125.4 558.2L127.0 551.4ZM127.2 551.4L126.4 554.9L130.6 555.7L131.2 552.3ZM140.1 507.7L139.4 511.1L142.1 511.6L142.7 508.1ZM140.6 522.0L140.1 525.4L143.2 525.9L143.6 522.4ZM135.2 556.5L134.6 560.0L138.9 560.6L139.4 557.1ZM138.8 546.5L138.3 549.9L142.3 550.4L142.7 546.9ZM147.6 501.7L147.2 505.2L149.7 505.4L150.0 501.9ZM148.8 501.8L148.5 505.3L151.0 505.5L151.2 502.0ZM151.3 502.0L151.1 505.5L153.6 505.6L153.7 502.1ZM150.8 512.5L150.6 516.0L153.4 516.1L153.5 512.6ZM155.1 523.1L155.1 526.6L158.3 526.5L158.1 523.0ZM157.1 547.6L157.2 551.1L161.2 550.9L161.0 547.4ZM160.5 533.5L160.7 536.9L164.2 536.7L163.9 533.2ZM163.3 498.1L163.8 501.6L166.1 501.2L165.6 497.8ZM165.7 497.8L166.2 501.2L168.6 500.8L167.9 497.4ZM174.1 506.8L174.9 510.1L177.5 509.4L176.6 506.1ZM177.2 498.6L178.2 501.9L180.6 501.1L179.4 497.8ZM182.6 515.2L183.7 518.5L186.6 517.5L185.4 514.3Z"/><path fill="#6b876d" d="M187.2 318.1L188.1 314.7L184.3 313.7L183.4 317.1ZM141.9 356.8L141.3 353.3L138.7 353.8L139.5 357.2ZM132.6 315.8L131.9 312.3L128.0 313.2L128.8 316.6ZM135.9 354.4L135.1 351.1L132.5 351.8L133.4 355.1ZM118.7 319.4L117.7 316.0L113.9 317.3L115.1 320.6ZM113.4 310.1L112.2 306.8L108.2 308.3L109.4 311.5ZM113.7 317.4L112.5 314.1L108.6 315.6L110.0 318.8ZM124.3 350.8L123.0 347.5L120.3 348.6L121.7 351.9ZM124.2 354.6L122.9 351.4L120.3 352.5L121.7 355.7ZM108.7 327.0L107.3 323.8L103.8 325.4L105.3 328.5ZM119.2 368.7L117.4 365.7L115.3 367.0L117.2 369.9ZM106.9 347.5L105.2 344.5L102.3 346.2L104.2 349.1ZM94.7 330.4L92.8 327.4L89.5 329.5L91.4 332.4ZM117.1 370.0L113.3 364.1L111.2 365.5L115.1 371.3ZM111.5 361.1L109.6 358.1L107.3 359.7L109.2 362.6ZM112.2 364.8L110.3 361.9L108.0 363.4L110.0 366.3ZM122.8 383.0L118.9 377.2L117.1 378.4L121.2 384.1ZM91.4 336.6L87.5 330.8L84.3 333.1L88.4 338.7ZM98.9 361.5L96.7 358.8L94.4 360.7L96.7 363.4ZM85.7 345.2L83.5 342.5L80.6 344.9L82.9 347.5ZM85.8 359.1L83.4 356.6L81.0 359.0L83.5 361.4ZM70.8 349.4L68.2 347.0L65.5 349.9L68.1 352.2ZM38.0 317.8L35.5 315.4L31.7 319.4L34.3 321.8ZM116.9 397.5L111.6 392.9L110.3 394.4L115.8 398.8ZM102.1 387.9L99.4 385.7L97.9 387.5L100.7 389.6ZM88.5 376.9L85.8 374.7L84.0 377.0L86.8 379.1ZM81.1 375.0L78.3 372.9L76.4 375.5L79.3 377.5ZM72.7 368.7L69.9 366.6L67.8 369.4L70.7 371.4ZM13.9 324.5L11.2 322.4L7.6 327.2L10.5 329.2ZM23.5 335.2L20.6 333.1L17.5 337.7L20.4 339.6ZM90.7 385.6L87.8 383.6L86.3 385.9L89.2 387.8ZM79.2 377.6L76.3 375.6L74.5 378.2L77.5 380.2ZM109.7 401.2L106.7 399.3L105.7 400.9L108.7 402.7ZM77.4 380.3L74.4 378.4L72.8 381.1L75.8 382.9ZM79.5 383.5L76.5 381.7L74.9 384.3L78.0 386.0ZM72.7 381.2L69.7 379.4L68.0 382.3L71.1 384.0ZM90.0 393.2L87.0 391.4L85.7 393.7L88.8 395.3ZM53.6 372.2L50.6 370.4L48.7 373.9L51.7 375.6ZM88.7 395.4L85.7 393.8L84.5 396.1L87.6 397.7ZM85.0 395.0L81.9 393.4L80.7 395.9L83.9 397.4ZM58.4 385.7L55.3 384.2L53.8 387.5L57.0 388.9ZM28.9 374.6L22.5 371.7L20.6 376.2L27.1 378.8ZM56.9 389.1L53.7 387.7L52.3 391.1L55.6 392.3ZM8.6 368.6L5.4 367.2L3.3 372.2L6.6 373.5ZM23.8 377.7L20.5 376.4L18.8 380.9L22.1 382.1ZM10.8 372.5L7.5 371.2L5.6 376.1L8.9 377.3ZM104.6 411.3L101.3 410.0L100.6 411.8L104.0 413.0ZM97.7 409.8L94.4 408.6L93.7 410.6L97.0 411.7ZM25.3 383.5L22.0 382.3L20.5 386.8L23.8 387.8ZM97.3 410.8L94.0 409.7L93.3 411.7L96.7 412.7ZM87.4 407.4L84.1 406.2L83.3 408.6L86.6 409.6ZM77.4 404.0L74.1 402.8L73.3 405.5L76.6 406.6ZM24.5 385.8L21.2 384.6L19.7 389.1L23.1 390.1ZM80.3 406.4L77.0 405.3L76.2 407.9L79.6 408.9ZM-16.2 375.1L-19.6 374.0L-21.3 379.9L-18.0 380.8ZM63.2 402.6L59.8 401.6L58.9 404.8L62.3 405.7ZM36.4 394.4L33.0 393.4L31.9 397.5L35.3 398.4ZM-20.5 377.1L-23.9 376.1L-25.6 382.0L-22.2 383.0ZM39.1 397.5L35.8 396.5L34.7 400.5L38.1 401.3ZM-14.7 382.1L-18.1 381.1L-19.6 386.9L-16.2 387.8ZM79.2 410.3L75.8 409.4L75.1 412.1L78.5 412.9ZM45.3 401.3L42.0 400.4L41.0 404.2L44.4 405.0ZM75.4 410.8L72.0 410.0L71.4 412.8L74.8 413.5ZM-19.7 387.2L-23.1 386.4L-24.5 392.3L-21.0 393.0ZM85.3 414.6L81.9 413.8L81.4 416.2L84.8 416.9ZM41.0 404.4L37.6 403.6L36.7 407.5L40.2 408.2ZM102.2 419.4L98.7 418.7L98.4 420.6L101.8 421.2ZM71.1 414.4L67.6 413.7L67.1 416.6L70.6 417.2ZM40.1 408.4L36.7 407.7L36.0 411.6L39.5 412.2ZM29.1 410.8L25.6 410.2L25.0 414.5L28.5 415.0ZM91.0 422.8L87.5 422.4L87.3 424.6L90.8 424.9ZM73.6 420.7L70.1 420.3L69.8 423.1L73.3 423.4ZM97.8 424.6L94.3 424.3L94.2 426.3L97.6 426.5ZM87.4 423.6L83.9 423.2L83.7 425.6L87.2 425.8ZM21.2 416.7L17.7 416.3L17.3 420.9L20.8 421.1ZM90.7 425.0L83.8 424.4L83.6 426.8L90.6 427.2ZM80.3 424.1L76.8 423.8L76.6 426.4L80.1 426.6ZM48.9 421.4L45.4 421.1L45.2 424.7L48.7 424.9ZM38.4 420.5L34.9 420.2L34.7 424.2L38.2 424.4ZM90.7 426.2L87.2 425.9L87.0 428.2L90.5 428.3ZM59.2 424.0L55.7 423.7L55.6 427.0L59.1 427.2ZM-42.0 417.0L-45.5 416.8L-45.9 423.4L-42.4 423.5ZM66.1 427.6L62.6 427.5L62.5 430.5L66.0 430.5ZM69.5 429.2L66.0 429.1L66.0 432.1L69.5 432.0ZM55.5 429.0L52.0 428.9L52.0 432.3L55.5 432.2ZM20.5 428.4L17.0 428.3L17.0 432.9L20.5 432.8ZM6.5 428.1L3.0 428.1L3.0 433.1L6.5 433.1ZM55.5 432.4L52.0 432.5L52.1 435.9L55.6 435.7ZM41.5 432.7L34.5 432.8L34.7 436.8L41.7 436.4ZM17.1 435.5L13.6 435.7L13.8 440.3L17.3 440.1ZM101.1 433.5L97.6 433.7L97.7 435.6L101.2 435.3ZM55.6 435.9L52.1 436.1L52.4 439.5L55.9 439.2ZM83.7 435.6L76.7 436.1L76.9 438.7L83.9 438.0ZM62.7 437.1L59.2 437.4L59.5 440.6L63.0 440.2ZM52.3 437.9L48.8 438.1L49.1 441.6L52.6 441.3ZM-17.6 442.8L-21.1 443.1L-20.5 448.9L-17.1 448.5ZM101.2 435.4L97.7 435.7L97.9 437.6L101.4 437.1ZM62.9 438.7L59.4 439.1L59.7 442.2L63.2 441.8ZM14.0 443.1L10.6 443.4L11.1 448.1L14.5 447.7ZM63.0 440.3L59.5 440.7L59.9 443.9L63.4 443.4ZM49.1 441.8L45.6 442.2L46.1 445.8L49.5 445.3ZM42.1 442.6L38.7 442.9L39.1 446.8L42.6 446.3ZM31.9 445.8L28.5 446.2L29.1 450.4L32.5 449.9ZM-9.7 451.0L-13.2 451.4L-12.4 457.0L-9.0 456.4ZM73.8 442.1L70.3 442.6L70.8 445.4L74.2 444.8ZM46.4 447.9L42.9 448.5L43.6 452.2L47.0 451.5ZM105.3 439.4L101.8 440.0L102.2 441.8L105.6 441.1ZM84.6 443.1L77.7 444.3L78.2 446.9L85.0 445.4ZM19.1 454.7L15.7 455.3L16.6 459.9L20.0 459.2ZM-25.7 462.6L-29.1 463.2L-27.9 469.3L-24.5 468.6ZM60.8 449.0L57.3 449.7L58.0 452.9L61.4 452.1ZM-7.9 462.4L-11.4 463.1L-10.2 468.6L-6.8 467.8ZM-25.1 465.8L-28.5 466.4L-27.2 472.5L-23.8 471.7ZM30.3 457.2L26.9 457.9L27.9 462.2L31.3 461.3ZM23.5 458.7L20.0 459.4L21.1 463.9L24.5 463.0ZM2.9 463.1L-3.9 464.5L-2.7 469.8L4.1 468.1ZM-17.6 467.4L-21.0 468.2L-19.7 474.0L-16.3 473.1ZM102.4 442.8L99.0 443.6L99.4 445.4L102.8 444.5ZM47.8 455.4L44.4 456.2L45.3 459.9L48.7 459.0ZM20.6 461.8L17.2 462.6L18.3 467.1L21.7 466.2ZM3.5 465.7L0.1 466.5L1.4 471.6L4.8 470.7ZM27.9 462.4L24.5 463.3L25.7 467.6L29.0 466.6ZM17.7 465.0L14.3 465.8L15.6 470.4L18.9 469.5ZM7.5 467.5L4.2 468.4L5.5 473.3L8.9 472.4ZM69.1 453.7L65.7 454.6L66.5 457.6L69.9 456.5ZM62.3 455.5L58.9 456.4L59.8 459.6L63.2 458.6ZM89.7 449.4L86.3 450.4L87.0 452.6L90.3 451.6ZM15.7 470.7L12.3 471.7L13.7 476.4L17.1 475.3ZM76.6 454.6L73.3 455.7L74.1 458.4L77.4 457.2ZM43.1 464.9L39.8 465.9L41.0 469.7L44.3 468.6ZM47.1 465.8L43.8 466.9L45.0 470.5L48.3 469.3ZM34.5 472.2L31.2 473.4L32.7 477.4L35.9 476.2ZM101.0 450.3L97.7 451.5L98.4 453.4L101.7 452.1ZM78.5 460.1L75.2 461.3L76.3 463.9L79.5 462.6ZM68.7 463.8L62.1 466.3L63.4 469.4L69.8 466.7ZM26.2 480.2L22.9 481.4L24.7 485.8L27.9 484.4ZM69.9 466.8L66.7 468.2L68.0 471.1L71.1 469.6ZM96.1 456.9L92.9 458.3L93.9 460.4L97.0 458.8ZM87.1 462.4L83.9 463.8L85.0 466.2L88.1 464.6ZM65.6 474.3L62.5 475.8L64.0 478.9L67.1 477.2ZM94.4 461.5L91.3 463.1L92.4 465.2L95.5 463.5ZM78.9 469.5L75.7 471.1L77.1 473.7L80.2 472.0ZM60.2 479.0L53.9 482.2L55.7 485.5L61.8 482.2ZM54.8 484.0L51.7 485.6L53.6 489.0L56.7 487.3ZM58.8 484.0L55.8 485.7L57.7 489.0L60.7 487.2ZM111.3 455.9L108.3 457.6L109.2 459.2L112.2 457.3ZM78.0 475.2L74.9 476.9L76.5 479.5L79.5 477.7ZM59.8 485.7L56.8 487.4L58.7 490.7L61.7 488.8ZM78.8 476.5L75.8 478.3L77.4 480.9L80.3 479.0ZM103.9 463.9L100.9 465.8L102.1 467.5L105.0 465.5ZM92.1 471.5L89.2 473.4L90.7 475.6L93.5 473.6ZM68.7 486.8L59.9 492.5L62.0 495.6L70.6 489.6ZM54.6 509.2L51.8 511.3L54.6 514.7L57.3 512.5ZM64.1 509.7L61.5 512.0L64.2 515.1L66.8 512.7ZM-7.1 571.8L-9.8 574.1L-4.9 579.5L-2.4 577.1ZM-7.1 587.4L-9.6 589.8L-4.2 595.2L-1.8 592.7ZM-1.8 587.7L-4.3 590.2L1.1 595.4L3.5 592.8ZM53.4 543.6L51.1 546.2L54.9 549.6L57.2 547.0ZM78.3 519.0L76.0 521.6L79.1 524.2L81.3 521.5ZM46.2 560.5L43.9 563.2L48.4 566.8L50.5 564.1ZM55.0 554.3L52.8 557.0L57.1 560.3L59.2 557.5ZM83.0 522.9L80.9 525.6L84.1 528.0L86.1 525.2ZM78.7 528.4L76.6 531.1L80.0 533.7L82.0 530.9ZM74.4 533.9L72.3 536.7L75.8 539.3L77.9 536.5ZM22.8 600.1L20.6 602.9L26.4 607.3L28.5 604.4ZM72.0 540.9L69.9 543.7L73.7 546.4L75.7 543.6ZM23.7 605.2L21.6 608.0L27.5 612.3L29.5 609.5ZM41.1 587.6L39.1 590.5L44.4 594.2L46.4 591.3ZM83.7 540.5L81.8 543.5L85.6 545.8L87.4 542.8ZM98.4 524.9L96.6 527.9L99.9 529.8L101.6 526.8ZM93.1 538.0L91.3 541.1L95.0 543.1L96.7 540.0ZM100.1 529.9L98.4 533.0L101.8 534.8L103.4 531.7ZM103.6 531.8L102.0 534.9L105.5 536.6L106.9 533.4ZM104.2 539.9L101.2 546.2L105.1 547.9L107.8 541.5ZM110.3 531.1L108.9 534.3L112.4 535.8L113.7 532.6ZM99.0 556.7L97.6 559.9L101.9 561.8L103.2 558.5ZM117.6 519.0L116.2 522.2L119.3 523.5L120.5 520.2ZM120.4 516.4L119.1 519.6L122.1 520.8L123.3 517.5ZM126.5 518.6L125.4 521.9L128.5 522.9L129.4 519.5ZM117.8 552.6L116.8 555.9L121.0 557.1L121.9 553.7ZM124.8 543.6L123.9 547.0L127.8 548.0L128.6 544.6ZM124.3 554.3L123.4 557.7L127.7 558.7L128.4 555.3ZM109.1 615.5L108.2 618.9L114.5 620.3L115.2 616.9ZM133.5 524.2L132.7 527.6L135.9 528.3L136.6 524.8ZM126.4 554.9L125.6 558.3L129.9 559.2L130.6 555.7ZM139.5 504.0L138.7 507.4L141.3 507.9L141.9 504.4ZM145.0 526.1L144.7 529.6L148.0 529.9L148.2 526.4ZM153.5 523.1L153.4 526.6L156.6 526.6L156.5 523.1ZM155.1 512.6L155.1 516.1L157.9 516.1L157.8 512.6ZM157.8 509.0L157.9 512.5L160.6 512.4L160.4 508.9ZM159.5 516.0L159.7 519.5L162.7 519.3L162.4 515.8ZM168.1 536.3L168.5 539.8L172.1 539.3L171.6 535.8ZM176.7 506.0L177.7 509.4L180.3 508.6L179.2 505.3ZM174.9 495.6L176.0 499.0L178.2 498.2L177.1 494.9ZM210.8 601.7L211.9 605.1L217.6 603.1L216.4 599.8Z"/><path fill="#867d7b" stroke="#867d7b" stroke-width="0.5" d="M155.7 415.1L158.1 362.7L156.7 362.6L155.4 415.1ZM153.2 418.7L144.6 359.9L143.1 360.1L153.0 418.8ZM152.6 418.8L138.1 346.8L136.3 347.2L152.4 418.9ZM151.4 415.5L137.6 357.6L136.1 358.0L151.1 415.6ZM152.0 419.0L136.3 358.0L134.8 358.4L151.8 419.0ZM150.1 415.9L128.0 349.5L126.3 350.1L149.8 416.0ZM150.4 419.5L123.8 354.8L122.2 355.5L150.2 419.6ZM150.0 419.7L137.0 391.0L136.2 391.4L149.8 419.8ZM135.6 387.8L116.8 346.4L115.0 347.2L134.7 388.2ZM145.3 410.3L116.8 350.2L115.1 351.0L144.9 410.5ZM115.3 347.0L107.8 331.2L105.7 332.2L113.6 347.9ZM147.6 417.0L111.0 349.2L109.3 350.2L147.3 417.1ZM109.3 346.2L97.7 324.6L95.5 325.8L107.6 347.1ZM146.9 417.4L128.7 387.5L127.8 388.1L146.6 417.5ZM126.9 384.5L108.6 354.6L107.0 355.6L125.9 385.1ZM146.5 417.7L127.2 388.4L126.3 389.0L146.2 417.8ZM125.3 385.5L113.7 368.0L112.4 368.9L124.3 386.2ZM109.9 362.1L102.2 350.5L100.5 351.6L108.4 363.1ZM146.8 421.9L122.7 396.5L122.0 397.1L146.6 422.1ZM144.2 419.5L122.1 397.0L121.4 397.7L143.9 419.8ZM146.3 422.3L118.4 395.8L117.7 396.5L146.1 422.5ZM146.2 422.5L120.4 398.8L119.7 399.5L146.0 422.7ZM145.9 422.8L119.3 400.0L118.7 400.8L145.7 423.0ZM108.7 390.9L98.1 381.8L97.0 383.0L107.9 391.9ZM95.4 379.5L84.8 370.4L83.5 371.9L94.3 380.8ZM142.6 421.4L117.3 402.6L116.7 403.4L142.4 421.6ZM92.0 383.8L80.7 375.4L79.6 377.0L91.0 385.1ZM142.4 421.6L113.9 401.2L113.3 402.1L142.2 421.8ZM111.1 399.2L99.7 391.0L98.9 392.2L110.4 400.1ZM145.1 423.8L116.3 403.9L115.8 404.7L145.0 424.0ZM110.6 399.9L99.0 392.0L98.2 393.2L109.9 400.9ZM76.0 376.1L61.6 366.1L60.2 368.1L74.9 377.8ZM141.9 422.2L115.4 405.3L114.9 406.1L141.8 422.5ZM141.5 422.9L123.3 412.6L122.9 413.2L141.4 423.2ZM141.0 423.9L112.6 410.3L112.2 411.2L140.9 424.2ZM140.6 424.9L121.1 417.2L120.8 417.9L140.5 425.2ZM117.8 415.9L101.5 409.4L101.1 410.6L117.5 416.7ZM143.7 426.6L117.3 417.2L117.0 418.0L143.6 426.8ZM140.3 425.7L110.5 415.6L110.2 416.5L140.2 426.0ZM143.4 427.4L130.0 423.6L129.8 424.1L143.4 427.6ZM126.6 422.7L106.4 417.0L106.1 418.0L126.4 423.3ZM72.6 407.6L55.8 402.9L55.2 405.0L72.2 409.3ZM143.3 427.8L105.9 418.7L105.7 419.8L143.3 428.0ZM71.9 410.5L58.3 407.2L57.8 409.2L71.5 412.2ZM51.5 405.6L31.1 400.6L30.5 403.2L51.0 407.7ZM143.2 428.6L105.2 422.2L105.0 423.2L143.1 428.8ZM81.1 418.1L63.8 415.2L63.5 417.1L80.8 419.6ZM143.1 429.0L104.9 423.9L104.8 425.0L143.1 429.3ZM143.1 429.2L104.8 424.8L104.7 425.8L143.1 429.5ZM49.2 418.4L35.3 416.8L35.0 419.3L49.0 420.6ZM31.8 416.3L7.5 413.5L7.2 416.6L31.6 418.9ZM139.5 429.4L125.6 428.2L125.6 428.9L139.5 429.7ZM122.1 428.0L108.2 426.8L108.1 427.8L122.1 428.6ZM76.8 424.3L48.8 422.1L48.7 424.3L76.6 425.9ZM143.0 430.3L125.5 429.8L125.5 430.4L143.0 430.5ZM122.0 429.7L104.5 429.2L104.5 430.2L122.0 430.4ZM62.5 428.0L38.0 427.3L38.0 429.8L62.5 430.0ZM139.5 431.5L104.6 433.6L104.7 434.7L139.5 431.8ZM38.2 437.5L6.8 439.4L7.0 442.5L38.4 440.0ZM143.0 431.5L125.6 432.9L125.6 433.5L143.1 431.8ZM122.1 433.1L83.7 436.1L83.8 437.6L122.2 433.8ZM48.8 438.8L20.9 440.9L21.1 443.7L49.0 441.0ZM139.6 432.1L104.7 435.4L104.8 436.4L139.6 432.4ZM55.9 440.0L38.5 441.6L38.8 444.0L56.2 442.0ZM35.0 441.9L14.1 443.9L14.4 446.9L35.3 444.4ZM139.7 432.9L94.7 439.5L94.9 440.8L139.7 433.2ZM25.4 449.7L11.6 451.8L12.0 454.8L25.8 452.4ZM139.8 433.7L119.2 437.8L119.4 438.6L139.9 434.0ZM143.3 433.2L92.0 444.5L92.3 445.8L143.3 433.4ZM143.3 433.4L102.5 443.1L102.7 444.2L143.4 433.6ZM88.9 446.4L61.6 452.8L62.1 454.8L89.2 447.7ZM34.4 459.3L20.8 462.6L21.5 465.4L35.0 461.9ZM143.4 433.6L106.1 443.2L106.4 444.2L143.4 433.8ZM79.0 450.1L58.6 455.3L59.2 457.4L79.4 451.7ZM45.1 458.8L31.5 462.3L32.2 464.9L45.7 461.1ZM143.5 434.2L100.1 447.8L100.5 448.9L143.6 434.4ZM73.4 456.2L46.7 464.5L47.4 466.8L74.0 457.9ZM40.0 466.6L23.3 471.9L24.2 474.6L40.8 469.0ZM143.6 434.4L83.8 454.3L84.3 455.8L143.7 434.6ZM80.5 455.4L63.9 460.9L64.6 462.8L81.0 456.9ZM143.7 434.6L100.8 449.7L101.2 450.8L143.8 434.8ZM67.8 461.3L54.5 466.0L55.3 468.1L68.4 463.1ZM141.6 438.4L126.5 447.3L126.9 447.9L141.8 438.7ZM123.5 449.1L111.4 456.2L112.0 457.1L123.9 449.7ZM144.8 436.9L105.9 460.6L106.6 461.6L144.9 437.1ZM61.1 487.9L46.2 497.0L47.6 499.3L62.3 489.9ZM142.1 439.1L112.8 458.4L113.4 459.3L142.2 439.4ZM145.1 437.4L96.0 471.0L96.9 472.2L145.2 437.6ZM93.1 473.0L58.5 496.7L59.9 498.7L94.0 474.3ZM142.9 440.2L123.7 455.4L124.2 456.1L143.1 440.5ZM120.9 457.6L109.9 466.3L110.7 467.3L121.5 458.3ZM107.2 468.5L82.5 488.1L83.7 489.6L108.0 469.5ZM79.8 490.2L68.8 498.9L70.2 500.7L81.0 491.8ZM146.0 438.5L111.9 468.6L112.7 469.5L146.2 438.7ZM109.2 470.9L64.6 510.3L66.3 512.2L110.1 471.9ZM143.6 441.1L104.8 476.5L105.8 477.5L143.8 441.3ZM102.2 478.8L89.3 490.6L90.5 492.0L103.2 479.9ZM76.4 502.4L60.8 516.6L62.7 518.5L77.9 504.0ZM146.3 438.8L62.4 518.2L64.2 520.1L146.5 439.0ZM3.9 573.5L-8.8 585.5L-5.6 588.9L6.9 576.6ZM139.2 446.6L102.3 484.0L103.5 485.1L139.5 446.9ZM97.4 489.0L82.7 503.9L84.2 505.4L98.7 490.2ZM80.2 506.4L70.4 516.4L72.2 518.2L81.8 508.0ZM144.9 442.4L126.7 463.6L127.4 464.2L145.2 442.6ZM115.3 476.9L81.1 516.8L83.0 518.3L116.3 477.7ZM76.6 522.1L67.5 532.7L69.6 534.5L78.5 523.7ZM147.4 439.8L69.3 534.2L71.5 536.0L147.5 440.0ZM148.0 440.4L101.2 505.8L102.7 506.9L148.2 440.5ZM91.0 520.0L78.7 537.1L81.0 538.7L92.9 521.4ZM148.2 440.5L112.4 492.3L113.7 493.2L148.4 440.6ZM110.4 495.2L86.6 529.8L88.7 531.2L111.8 496.1ZM142.5 449.3L92.2 525.1L94.2 526.4L142.9 449.6ZM88.3 531.0L80.6 542.6L82.9 544.2L90.4 532.3ZM148.5 440.7L105.2 508.5L106.8 509.6L148.7 440.8ZM148.7 440.8L135.9 461.7L136.5 462.1L148.9 441.0ZM134.0 464.7L91.9 533.2L94.0 534.5L134.8 465.1ZM148.9 440.9L113.3 501.2L114.7 502.0L149.1 441.1ZM149.4 441.2L110.5 515.7L112.3 516.6L149.7 441.3ZM149.6 441.3L130.8 478.9L131.8 479.4L149.9 441.4ZM129.3 482.0L116.7 507.1L118.3 507.8L130.3 482.5ZM115.1 510.2L105.7 529.0L107.8 530.0L116.8 511.0ZM148.5 444.7L132.5 479.7L133.6 480.2L148.8 444.8ZM131.1 482.9L118.0 511.5L119.7 512.3L132.2 483.4ZM116.5 514.7L110.7 527.4L112.7 528.3L118.3 515.5ZM149.0 444.9L139.6 467.5L140.4 467.8L149.3 445.0ZM135.6 477.2L118.1 519.2L120.0 520.0L136.6 477.6ZM149.5 445.1L137.2 477.9L138.2 478.2L149.9 445.2ZM136.0 481.1L117.5 530.3L119.6 531.1L137.1 481.5ZM150.3 445.4L146.1 458.7L146.7 458.9L150.6 445.5ZM145.0 462.1L131.3 505.4L132.8 505.9L145.7 462.3ZM150.8 445.5L131.1 516.3L132.9 516.8L151.1 445.6ZM151.1 445.6L147.6 459.1L148.2 459.3L151.4 445.7ZM146.7 462.5L137.0 499.8L138.4 500.2L147.4 462.7ZM151.4 445.7L136.5 506.9L138.1 507.3L151.7 445.7ZM151.6 445.7L136.3 514.0L138.1 514.4L151.9 445.8ZM151.9 445.8L139.9 504.1L141.5 504.4L152.2 445.8ZM152.4 445.9L146.0 483.8L147.1 484.0L152.7 445.9ZM145.4 487.3L143.1 501.1L144.6 501.3L146.6 487.5ZM140.7 514.9L137.2 535.6L139.4 536.0L142.5 515.2ZM153.2 442.5L149.0 470.2L149.8 470.3L153.5 442.5ZM145.9 490.9L143.8 504.8L145.3 505.0L147.1 491.1ZM153.6 442.5L147.6 494.7L148.9 494.8L153.9 442.5ZM144.0 526.0L141.6 546.8L144.0 547.1L146.0 526.2ZM153.5 446.0L148.0 501.8L149.5 501.9L153.8 446.1ZM153.8 446.1L149.5 498.4L151.0 498.5L154.1 446.1ZM155.5 442.6L158.0 502.0L159.5 502.0L155.8 442.6ZM155.9 446.1L159.2 502.0L160.7 501.9L156.2 446.1ZM159.3 463.3L163.8 498.0L165.2 497.8L159.9 463.2ZM157.5 445.9L166.1 497.7L167.5 497.4L157.9 445.8ZM158.9 445.6L170.2 489.7L171.4 489.4L159.2 445.5ZM185.8 550.7L189.3 564.3L192.1 563.5L188.3 550.0Z"/><path fill="#867d7b" d="M158.7 359.2L159.0 352.2L156.4 352.1L156.3 359.1ZM161.0 313.8L161.6 303.3L157.3 303.1L157.1 313.6ZM144.0 352.9L143.0 345.9L140.2 346.4L141.4 353.3ZM142.5 342.5L142.0 339.0L139.0 339.5L139.6 342.9ZM138.1 311.3L136.7 300.9L132.4 301.6L134.2 311.9ZM135.9 332.9L134.6 326.1L131.1 326.8L132.7 333.6ZM133.9 322.6L132.6 315.8L128.8 316.6L130.3 323.4ZM131.9 312.3L130.6 305.5L126.4 306.3L128.0 313.2ZM132.5 333.7L131.0 326.9L127.5 327.7L129.3 334.5ZM124.6 299.6L123.8 296.2L119.4 297.3L120.3 300.7ZM135.1 351.1L133.4 344.3L130.5 345.0L132.5 351.8ZM131.7 337.5L129.1 327.3L125.7 328.2L128.6 338.3ZM122.3 300.1L120.6 293.3L116.1 294.5L118.0 301.3ZM125.3 339.3L124.2 336.0L121.1 337.1L122.2 340.4ZM117.7 316.0L116.6 312.7L112.7 314.0L113.9 317.3ZM115.5 309.4L114.4 306.0L110.3 307.5L111.5 310.8ZM122.9 351.4L121.6 348.1L118.9 349.3L120.3 352.5ZM119.0 341.6L115.0 331.9L111.8 333.3L116.0 342.9ZM114.5 339.7L110.2 330.1L106.9 331.7L111.5 341.1ZM107.3 323.8L104.5 317.4L100.7 319.1L103.8 325.4ZM149.9 419.7L147.0 413.4L146.4 413.7L149.6 419.9ZM106.9 327.8L104.0 321.4L100.4 323.2L103.6 329.4ZM96.7 321.2L95.0 318.1L91.3 320.1L93.1 323.2ZM93.4 315.0L91.8 311.9L87.9 314.1L89.6 317.1ZM107.3 351.4L105.5 348.4L102.8 350.0L104.7 353.0ZM103.7 345.4L101.9 342.4L99.0 344.2L100.9 347.1ZM73.0 294.4L69.4 288.4L64.7 291.3L68.5 297.2ZM91.2 332.5L89.3 329.6L86.0 331.8L88.0 334.7ZM111.0 383.5L108.6 380.9L107.0 382.5L109.4 385.0ZM89.5 360.4L87.1 357.9L84.7 360.2L87.2 362.7ZM77.5 347.7L75.1 345.1L72.3 347.8L74.8 350.3ZM83.4 356.6L78.5 351.5L75.9 354.1L81.0 359.0ZM55.6 334.8L50.6 330.0L47.3 333.5L52.5 338.2ZM48.1 327.5L43.0 322.7L39.5 326.4L44.7 331.1ZM112.9 391.4L110.4 389.0L109.0 390.5L111.6 392.8ZM69.4 350.9L64.2 346.1L61.5 349.2L66.8 353.8ZM43.7 327.0L41.2 324.6L37.7 328.5L40.4 330.8ZM36.1 319.9L33.5 317.5L29.8 321.6L32.5 323.9ZM82.5 367.7L79.8 365.4L77.7 367.9L80.4 370.1ZM66.6 353.9L61.3 349.3L58.7 352.5L64.1 356.9ZM56.1 344.7L53.4 342.4L50.5 345.9L53.3 348.1ZM19.0 312.6L16.4 310.3L12.5 315.0L15.2 317.2ZM111.8 398.1L109.0 396.0L107.9 397.6L110.8 399.6ZM106.3 393.9L103.5 391.8L102.2 393.6L105.1 395.6ZM78.3 372.9L75.5 370.8L73.5 373.5L76.4 375.5ZM83.0 378.3L80.1 376.3L78.4 378.8L81.3 380.8ZM74.5 372.2L68.8 368.1L66.8 371.0L72.6 374.9ZM87.8 383.6L79.2 377.6L77.5 380.2L86.3 385.9ZM106.7 399.3L97.9 393.6L96.7 395.5L105.7 400.9ZM89.1 387.9L80.3 382.2L78.8 384.7L87.7 390.1ZM74.4 378.4L68.6 374.6L66.8 377.5L72.8 381.1ZM65.6 372.7L56.8 367.0L54.8 370.3L63.8 375.7ZM120.3 410.6L114.3 407.1L113.5 408.5L119.7 411.8ZM111.2 405.4L102.1 400.1L101.2 401.9L110.4 406.9ZM99.1 398.4L93.0 394.9L91.9 397.0L98.1 400.3ZM87.0 391.4L84.0 389.7L82.6 392.0L85.7 393.7ZM74.9 384.4L71.8 382.7L70.3 385.5L73.4 387.1ZM62.7 377.4L59.7 375.7L57.9 378.9L61.0 380.5ZM56.7 373.9L53.6 372.2L51.7 375.6L54.8 377.2ZM109.6 408.5L100.2 403.9L99.3 405.7L108.9 410.0ZM93.9 400.8L90.7 399.3L89.7 401.5L92.9 402.9ZM87.6 397.8L84.4 396.2L83.3 398.6L86.5 400.0ZM75.0 391.7L65.5 387.1L64.1 390.1L73.7 394.3ZM62.4 385.5L59.2 384.0L57.7 387.2L60.9 388.6ZM52.9 380.9L49.8 379.4L48.2 382.9L51.4 384.3ZM34.1 371.7L30.9 370.2L29.0 374.4L32.2 375.8ZM-32.0 339.6L-35.2 338.1L-38.1 344.4L-34.9 345.8ZM91.9 405.2L82.2 401.3L81.3 403.7L91.1 407.3ZM78.9 399.9L75.7 398.6L74.7 401.3L78.0 402.5ZM53.0 389.5L49.7 388.2L48.4 391.7L51.7 392.9ZM33.5 381.6L27.0 379.0L25.4 383.3L31.9 385.7ZM17.3 375.1L10.8 372.5L8.9 377.3L15.5 379.7ZM114.1 415.8L107.5 413.4L107.0 415.0L113.6 417.1ZM104.2 412.2L101.0 411.0L100.3 412.8L103.7 413.9ZM91.1 407.4L87.8 406.2L87.0 408.4L90.3 409.5ZM84.5 405.0L81.2 403.8L80.4 406.3L83.7 407.4ZM74.6 401.4L71.3 400.2L70.4 403.0L73.7 404.1ZM38.4 388.3L35.2 387.1L33.8 391.1L37.1 392.2ZM31.9 385.9L25.3 383.5L23.8 387.8L30.4 390.0ZM15.4 379.9L8.8 377.5L7.2 382.4L13.8 384.6ZM94.0 409.7L90.7 408.5L90.0 410.7L93.3 411.7ZM74.1 402.8L70.8 401.7L69.9 404.5L73.3 405.5ZM31.1 388.1L24.5 385.8L23.1 390.1L29.8 392.2ZM21.2 384.6L11.2 381.2L9.7 386.0L19.7 389.1ZM96.3 413.8L89.6 411.9L89.0 414.1L95.8 415.8ZM86.3 411.0L82.9 410.0L82.2 412.4L85.6 413.2ZM79.5 409.0L76.2 408.1L75.5 410.7L78.8 411.5ZM45.9 399.4L39.1 397.5L38.1 401.3L44.9 403.0ZM35.8 396.5L25.7 393.6L24.5 397.9L34.7 400.5ZM22.3 392.7L18.9 391.7L17.7 396.2L21.1 397.1ZM-18.1 381.1L-28.2 378.3L-29.8 384.4L-19.6 386.9ZM85.6 413.4L78.8 411.7L78.2 414.2L85.1 415.7ZM27.9 399.0L24.5 398.2L23.5 402.5L26.9 403.3ZM17.7 396.5L10.9 394.8L9.8 399.6L16.6 401.1ZM0.7 392.3L-6.1 390.6L-7.3 395.9L-0.5 397.4ZM-23.1 386.4L-29.9 384.7L-31.3 390.8L-24.5 392.3ZM101.8 421.3L98.4 420.7L98.1 422.5L101.5 423.0ZM50.1 412.2L46.7 411.6L46.1 415.2L49.5 415.7ZM43.2 411.0L36.3 409.8L35.7 413.7L42.6 414.7ZM32.9 409.2L22.5 407.4L21.8 411.8L32.2 413.2ZM19.1 406.8L15.6 406.2L14.9 410.8L18.4 411.3ZM98.1 422.6L87.7 421.2L87.4 423.4L97.8 424.5ZM84.2 420.7L80.7 420.2L80.4 422.7L83.9 423.1ZM77.3 419.7L73.8 419.3L73.5 422.0L76.9 422.3ZM66.9 418.3L59.9 417.3L59.5 420.5L66.5 421.2ZM42.6 414.9L39.1 414.4L38.7 418.3L42.1 418.6ZM32.2 413.4L21.8 412.0L21.2 416.4L31.7 417.5ZM-5.9 408.1L-9.4 407.6L-10.1 413.1L-6.6 413.5ZM-37.1 403.8L-40.6 403.3L-41.4 409.8L-37.9 410.2ZM-44.1 402.8L-47.5 402.3L-48.4 409.0L-44.9 409.4ZM97.9 423.6L94.4 423.2L94.2 425.2L97.7 425.5ZM87.5 422.4L77.1 421.1L76.8 423.7L87.3 424.6ZM70.1 420.3L59.7 419.0L59.4 422.1L69.8 423.1ZM-23.7 408.8L-27.2 408.4L-27.8 414.4L-24.3 414.8ZM-37.6 407.1L-48.0 405.9L-48.7 412.6L-38.2 413.5ZM97.7 425.6L90.7 425.0L90.6 427.2L97.6 427.5ZM83.8 424.4L80.3 424.1L80.1 426.6L83.6 426.8ZM45.4 421.1L38.4 420.5L38.2 424.4L45.2 424.7ZM34.9 420.2L28.0 419.6L27.7 423.8L34.7 424.2ZM24.5 419.3L21.0 419.0L20.7 423.4L24.2 423.6ZM-41.8 413.6L-48.7 413.0L-49.2 419.7L-42.2 420.1ZM83.5 428.2L76.5 427.9L76.5 430.5L83.5 430.5ZM31.1 426.4L24.1 426.1L24.0 430.5L31.0 430.5ZM94.1 433.8L83.6 434.4L83.8 436.8L94.2 435.9ZM76.6 434.8L73.1 435.0L73.3 437.7L76.8 437.4ZM69.6 435.1L62.6 435.5L62.8 438.6L69.8 438.0ZM59.1 435.7L55.6 435.9L55.9 439.2L59.4 438.9ZM52.1 436.1L48.7 436.3L48.9 439.8L52.4 439.5ZM45.2 436.5L41.7 436.6L41.9 440.4L45.4 440.1ZM-14.3 439.6L-17.8 439.8L-17.4 445.5L-13.9 445.2ZM76.7 436.1L69.7 436.6L70.0 439.5L76.9 438.7ZM66.2 436.9L62.7 437.1L63.0 440.2L66.5 439.8ZM59.2 437.4L52.3 437.9L52.6 441.3L59.5 440.6ZM17.3 440.3L13.9 440.6L14.3 445.3L17.7 444.9ZM-14.1 442.6L-17.6 442.8L-17.1 448.5L-13.6 448.2ZM-21.1 443.1L-24.6 443.3L-24.0 449.3L-20.5 448.9ZM-28.0 443.6L-31.5 443.8L-31.0 450.0L-27.5 449.6ZM97.7 435.7L94.2 436.0L94.4 438.0L97.9 437.6ZM90.8 436.3L87.3 436.6L87.5 438.8L91.0 438.4ZM83.8 436.9L76.8 437.5L77.1 440.1L84.0 439.3ZM73.3 437.8L66.3 438.4L66.7 441.4L73.6 440.5ZM-10.4 445.2L-13.8 445.5L-13.3 451.1L-9.8 450.7ZM-17.3 445.8L-20.8 446.1L-20.2 452.0L-16.7 451.5ZM-24.3 446.4L-27.8 446.8L-27.2 452.8L-23.7 452.4ZM91.1 439.6L84.2 440.6L84.6 443.0L91.5 441.7ZM80.7 441.1L77.3 441.6L77.7 444.2L81.1 443.6ZM66.9 443.1L63.4 443.6L63.9 446.6L67.3 446.0ZM59.9 444.0L56.5 444.5L57.0 447.8L60.4 447.2ZM53.0 445.0L46.1 446.0L46.7 449.6L53.5 448.4ZM39.2 447.0L35.7 447.5L36.3 451.4L39.8 450.8ZM32.2 448.0L28.8 448.5L29.4 452.6L32.9 452.0ZM-5.9 453.4L-12.8 454.3L-12.0 459.9L-5.1 458.7ZM-16.3 454.8L-19.8 455.3L-18.8 461.1L-15.4 460.5ZM-23.2 455.8L-30.2 456.8L-29.2 462.9L-22.3 461.7ZM115.7 438.3L112.3 438.9L112.6 440.3L116.0 439.6ZM102.0 440.9L91.7 443.0L92.1 445.1L102.4 442.7ZM88.3 443.6L84.8 444.3L85.3 446.6L88.7 445.8ZM81.4 445.0L78.0 445.6L78.5 448.2L81.9 447.4ZM53.9 450.3L50.5 451.0L51.2 454.5L54.6 453.7ZM33.3 454.4L26.4 455.7L27.3 460.0L34.2 458.4ZM23.0 456.4L16.1 457.7L17.1 462.3L23.9 460.7ZM12.7 458.4L5.8 459.7L6.9 464.7L13.7 463.1ZM2.4 460.4L-1.1 461.1L0.0 466.2L3.5 465.4ZM-4.5 461.7L-7.9 462.4L-6.8 467.8L-3.4 467.0ZM-14.8 463.8L-25.1 465.8L-23.8 471.7L-13.6 469.4ZM88.5 444.8L81.7 446.3L82.2 448.7L89.0 447.0ZM61.1 450.6L57.7 451.4L58.4 454.6L61.8 453.7ZM50.8 452.8L47.4 453.6L48.2 457.1L51.6 456.3ZM37.2 455.8L30.3 457.2L31.3 461.3L38.1 459.6ZM20.0 459.4L16.6 460.1L17.7 464.7L21.1 463.9ZM13.2 460.9L9.8 461.6L10.9 466.4L14.3 465.6ZM6.3 462.3L2.9 463.1L4.1 468.1L7.5 467.2ZM-27.9 469.6L-31.3 470.4L-29.9 476.5L-26.5 475.7ZM99.0 443.6L95.6 444.4L96.1 446.3L99.4 445.4ZM58.1 453.1L47.8 455.4L48.7 459.0L58.9 456.3ZM17.2 462.6L6.9 464.9L8.1 469.8L18.3 467.1ZM0.1 466.5L-3.3 467.3L-2.0 472.5L1.4 471.6ZM-10.1 468.9L-13.5 469.7L-12.1 475.2L-8.8 474.3ZM-16.9 470.5L-20.4 471.2L-18.9 477.0L-15.5 476.1ZM102.6 443.7L99.2 444.6L99.7 446.4L103.1 445.4ZM89.0 447.1L82.2 448.8L82.9 451.2L89.6 449.3ZM55.1 455.6L51.7 456.5L52.6 459.9L56.0 458.9ZM24.5 463.3L21.1 464.1L22.3 468.5L25.7 467.6ZM4.2 468.4L0.8 469.2L2.1 474.3L5.5 473.3ZM-9.4 471.7L-12.8 472.6L-11.3 478.1L-8.0 477.2ZM93.3 449.5L86.6 451.6L87.4 453.8L94.0 451.5ZM19.7 472.1L9.7 475.2L11.2 480.0L21.2 476.6ZM-7.1 480.3L-13.7 482.4L-11.9 487.9L-5.3 485.6ZM53.7 463.6L47.1 465.8L48.3 469.3L54.9 466.9ZM37.1 469.0L30.4 471.2L31.9 475.3L38.4 472.9ZM27.1 472.3L17.1 475.5L18.7 480.1L28.6 476.5ZM97.3 450.5L87.4 453.9L88.2 456.2L98.0 452.4ZM80.8 456.2L74.2 458.5L75.2 461.2L81.7 458.7ZM51.0 466.5L47.7 467.6L49.0 471.2L52.3 469.9ZM41.1 469.9L37.8 471.1L39.2 474.9L42.5 473.7ZM31.2 473.4L27.9 474.5L29.4 478.7L32.7 477.4ZM21.2 476.8L17.9 477.9L19.6 482.4L22.9 481.2ZM11.3 480.2L8.0 481.4L9.8 486.2L13.0 484.9ZM4.7 482.5L-5.2 485.9L-3.3 491.2L6.5 487.5ZM108.3 457.6L105.2 459.4L106.2 461.0L109.2 459.2ZM74.9 476.9L71.9 478.7L73.5 481.4L76.5 479.5ZM56.8 487.4L53.7 489.2L55.7 492.5L58.7 490.7ZM50.7 490.9L47.7 492.7L49.8 496.2L52.8 494.4ZM-28.1 536.5L-31.1 538.3L-27.4 544.4L-24.5 542.5ZM102.7 462.1L96.7 465.7L97.9 467.6L103.8 463.8ZM75.8 478.3L69.8 481.9L71.5 484.7L77.4 480.9ZM33.8 503.6L30.8 505.4L33.3 509.5L36.3 507.6ZM-26.2 539.7L-29.2 541.5L-25.4 547.5L-22.5 545.6ZM109.7 460.1L103.9 463.9L105.0 465.5L110.7 461.5ZM98.0 467.7L95.1 469.6L96.4 471.6L99.3 469.6ZM83.3 477.2L80.4 479.1L82.1 481.6L84.9 479.6ZM77.5 481.0L68.7 486.8L70.6 489.6L79.2 483.6ZM59.9 492.5L54.0 496.3L56.2 499.6L62.0 495.6ZM51.1 498.2L48.1 500.1L50.5 503.6L53.4 501.6ZM36.4 507.8L30.5 511.6L33.3 515.7L39.0 511.7ZM55.2 498.1L52.3 500.0L54.6 503.4L57.5 501.3ZM29.1 515.7L23.3 519.6L26.3 523.9L32.0 519.8ZM65.6 500.6L60.1 504.9L62.6 508.0L68.0 503.5ZM40.8 520.0L32.5 526.4L35.8 530.4L43.8 523.7ZM86.3 492.6L78.5 499.6L80.8 502.1L88.4 494.8ZM-2.1 572.3L-4.7 574.6L0.2 579.8L2.7 577.4ZM-7.2 576.9L-12.4 581.6L-7.3 587.1L-2.3 582.2ZM59.3 520.0L56.7 522.4L59.8 525.6L62.3 523.2ZM146.5 439.1L141.6 444.0L142.0 444.5L146.8 439.4ZM64.9 520.8L62.4 523.3L65.6 526.3L68.0 523.8ZM60.0 525.8L57.5 528.3L60.8 531.4L63.2 528.9ZM40.2 545.6L37.7 548.1L41.7 551.9L44.1 549.3ZM0.6 585.2L-1.8 587.7L3.5 592.8L5.8 590.3ZM124.2 466.1L117.3 474.0L118.8 475.3L125.4 467.1ZM64.6 534.8L62.3 537.5L65.9 540.5L68.1 537.8ZM60.0 540.1L57.7 542.8L61.4 545.9L63.7 543.2ZM53.1 548.0L50.8 550.7L54.8 554.1L57.0 551.4ZM43.9 558.6L39.3 563.9L43.8 567.7L48.2 562.2ZM59.6 544.4L55.2 549.8L59.2 553.1L63.5 547.5ZM48.4 557.9L46.2 560.5L50.5 564.1L52.7 561.3ZM98.6 508.3L92.5 516.8L95.4 518.8L101.2 510.1ZM76.0 539.5L74.0 542.3L77.7 544.9L79.7 542.0ZM71.9 545.1L67.8 550.8L71.9 553.6L75.8 547.8ZM45.2 582.0L41.1 587.6L46.4 591.3L50.3 585.5ZM39.1 590.5L37.0 593.3L42.5 597.1L44.4 594.2ZM84.0 532.2L78.0 540.8L81.6 543.3L87.4 534.5ZM148.3 440.6L144.4 446.4L144.9 446.7L148.6 440.8ZM102.8 511.2L99.0 517.0L101.9 518.8L105.5 512.8ZM97.1 520.0L95.2 522.9L98.3 524.8L100.1 521.8ZM87.6 534.7L83.7 540.5L87.4 542.8L91.0 536.8ZM89.4 535.8L87.5 538.8L91.2 541.0L92.9 537.9ZM85.7 541.8L83.8 544.7L87.6 547.0L89.4 544.0ZM111.0 503.9L107.4 509.9L110.1 511.5L113.5 505.3ZM103.8 515.9L98.4 524.9L101.6 526.8L106.7 517.6ZM96.6 527.9L94.8 530.9L98.2 532.9L99.9 529.8ZM93.0 533.9L91.2 536.9L94.8 539.0L96.5 535.9ZM87.6 542.9L85.8 545.9L89.7 548.2L91.4 545.1ZM108.4 518.5L106.7 521.6L109.8 523.1L111.3 520.0ZM103.4 527.8L100.2 534.0L103.6 535.7L106.7 529.4ZM98.5 537.0L95.2 543.2L99.0 545.1L102.1 538.9ZM102.0 534.9L97.2 544.3L101.0 546.1L105.5 536.6ZM95.6 547.4L94.0 550.5L98.1 552.4L99.5 549.3ZM107.1 533.5L104.2 539.9L107.8 541.5L110.6 535.0ZM98.3 552.5L95.3 558.9L99.6 560.8L102.3 554.4ZM83.5 584.3L82.0 587.5L87.3 589.8L88.6 586.6ZM138.0 470.7L136.7 473.9L138.1 474.5L139.4 471.2ZM116.2 522.2L113.5 528.7L116.7 530.0L119.3 523.5ZM112.1 531.9L110.7 535.1L114.2 536.5L115.5 533.3ZM106.6 544.8L102.6 554.5L106.7 556.1L110.5 546.3ZM90.3 583.5L87.5 589.9L92.9 592.1L95.4 585.5ZM91.9 595.4L90.6 598.7L96.2 600.7L97.4 597.4ZM129.7 508.6L128.7 511.9L131.4 512.8L132.3 509.4ZM118.9 541.9L117.9 545.2L121.7 546.4L122.7 543.0ZM116.8 548.6L113.5 558.6L117.8 559.9L120.7 549.8ZM124.8 536.4L123.8 539.7L127.4 540.7L128.3 537.3ZM122.8 543.1L120.9 549.8L124.9 550.9L126.6 544.1ZM116.1 566.7L114.2 573.4L118.9 574.7L120.6 567.9ZM135.7 503.1L133.8 509.8L136.5 510.5L138.1 503.7ZM129.3 526.7L127.5 533.5L131.0 534.3L132.5 527.5ZM126.6 536.9L125.7 540.3L129.4 541.2L130.2 537.8ZM123.9 547.0L123.0 550.4L127.0 551.4L127.8 548.0ZM121.2 557.2L120.3 560.5L124.6 561.6L125.4 558.2ZM118.5 567.3L117.6 570.7L122.3 571.9L123.0 568.4ZM135.2 510.2L133.5 517.0L136.4 517.6L137.9 510.8ZM132.7 520.4L131.0 527.2L134.2 527.9L135.7 521.1ZM130.2 530.6L128.5 537.4L132.0 538.2L133.5 531.3ZM126.8 544.1L126.0 547.5L129.8 548.4L130.6 545.0ZM125.1 550.9L124.3 554.3L128.4 555.3L129.1 551.9ZM120.9 567.9L119.2 574.7L124.0 575.8L125.5 569.0ZM108.2 618.9L106.5 625.7L113.0 627.2L114.5 620.3ZM134.3 520.7L133.5 524.2L136.6 524.8L137.3 521.4ZM131.9 531.0L130.3 537.8L133.9 538.6L135.3 531.7ZM129.6 541.2L128.0 548.0L131.9 548.9L133.2 542.0ZM122.5 571.9L121.7 575.3L126.5 576.3L127.2 572.9ZM112.3 616.3L110.0 626.5L116.5 627.9L118.5 617.6ZM138.0 510.8L137.3 514.2L140.1 514.8L140.7 511.3ZM135.1 524.5L133.7 531.4L137.0 532.0L138.2 525.1ZM132.9 534.8L132.2 538.2L135.8 538.9L136.4 535.5ZM128.6 555.3L127.9 558.8L132.1 559.6L132.8 556.1ZM125.7 569.0L124.3 575.9L129.1 576.8L130.3 569.9ZM121.4 589.6L120.6 593.0L126.0 594.1L126.6 590.6ZM114.1 623.8L113.4 627.2L119.9 628.5L120.5 625.1ZM135.4 542.4L134.8 545.8L138.6 546.4L139.1 543.0ZM134.2 549.3L133.0 556.2L137.1 556.8L138.1 549.9ZM129.9 573.4L129.3 576.9L134.2 577.6L134.7 574.2ZM120.9 625.1L120.3 628.6L126.9 629.6L127.3 626.2ZM148.2 473.6L147.7 477.0L149.2 477.2L149.7 473.8ZM147.1 480.5L146.1 487.4L147.9 487.7L148.8 480.7ZM141.7 515.1L140.6 522.0L143.6 522.4L144.5 515.5ZM140.1 525.4L139.5 528.9L142.8 529.3L143.2 525.9ZM136.8 546.2L135.2 556.5L139.4 557.1L140.6 546.7ZM134.6 560.0L133.5 566.9L138.1 567.6L138.9 560.6ZM129.7 591.1L129.2 594.6L134.6 595.3L135.1 591.9ZM146.8 498.1L146.3 501.6L148.7 501.8L149.0 498.3ZM140.4 550.2L140.0 553.7L144.1 554.1L144.4 550.6ZM144.0 536.5L142.9 547.0L146.7 547.3L147.5 536.8ZM148.2 508.8L147.6 515.8L150.5 516.0L150.8 509.0ZM146.7 526.2L145.8 536.7L149.3 536.9L149.9 526.5ZM157.7 505.6L157.8 509.0L160.4 508.9L160.2 505.4ZM157.9 512.5L158.2 519.5L161.1 519.4L160.6 512.4ZM158.4 526.5L158.6 530.0L161.9 529.9L161.6 526.4ZM159.0 505.5L159.2 509.0L161.8 508.8L161.5 505.3ZM159.4 512.5L159.5 516.0L162.4 515.8L162.1 512.3ZM159.9 523.0L160.5 533.5L163.9 533.2L163.0 522.8ZM161.4 550.9L161.6 554.4L165.7 554.1L165.4 550.7ZM156.9 446.0L158.2 456.4L159.0 456.3L157.4 445.9ZM163.8 501.6L164.2 505.0L166.7 504.7L166.1 501.2ZM164.6 508.5L165.5 515.5L168.3 515.1L167.2 508.1ZM167.6 532.8L168.1 536.3L171.6 535.8L171.0 532.3ZM166.8 504.7L167.9 511.6L170.6 511.1L169.2 504.2ZM168.4 515.0L170.1 525.4L173.2 524.9L171.2 514.5ZM185.0 618.7L186.6 629.1L193.2 627.9L191.2 617.6ZM170.7 493.2L172.4 500.0L174.6 499.3L172.7 492.6ZM174.9 510.1L176.6 516.9L179.5 516.2L177.5 509.4ZM194.4 588.2L196.1 595.0L201.6 593.6L199.7 586.8Z"/><path fill="#8c7a7e" stroke="#8c7a7e" stroke-width="0.5" d="M145.6 423.1L118.3 401.3L117.7 402.1L145.5 423.3ZM99.1 386.0L88.2 377.3L87.1 378.7L98.2 387.2ZM85.4 375.1L74.5 366.3L73.2 368.0L84.3 376.5ZM135.1 420.2L113.3 408.8L112.9 409.7L134.8 420.6ZM140.8 424.4L121.6 416.0L121.3 416.7L140.7 424.7ZM92.7 403.4L79.9 397.8L79.2 399.4L92.1 404.7ZM140.1 426.2L110.0 417.2L109.7 418.1L140.1 426.5ZM143.2 428.4L95.0 419.4L94.8 420.6L143.2 428.6ZM139.7 428.3L98.1 422.0L98.0 423.2L139.6 428.6ZM84.3 419.9L60.1 416.2L59.8 418.2L84.1 421.4ZM83.8 423.6L62.9 421.6L62.8 423.5L83.7 425.1ZM143.0 430.1L125.5 429.3L125.5 429.9L143.0 430.3ZM122.0 429.1L104.6 428.3L104.5 429.4L122.0 429.8ZM139.5 430.4L104.5 430.1L104.5 431.1L139.5 430.8ZM48.5 429.5L20.5 429.2L20.5 432.0L48.5 431.7ZM139.5 430.7L108.0 430.9L108.0 431.9L139.5 431.0ZM66.0 431.2L38.0 431.4L38.0 433.9L66.0 433.1ZM34.5 431.4L20.5 431.5L20.6 434.4L34.5 434.0ZM17.0 431.6L3.0 431.7L3.1 434.8L17.1 434.5ZM139.5 431.0L122.0 431.4L122.0 432.1L139.5 431.3ZM125.5 431.8L101.0 432.9L101.1 434.0L125.6 432.5ZM34.6 435.6L17.1 436.4L17.3 439.3L34.7 438.2ZM139.6 432.6L101.4 437.6L101.6 438.7L139.7 432.9ZM77.2 440.7L49.4 444.3L49.7 446.5L77.4 442.3ZM143.2 432.6L105.2 438.8L105.4 439.9L143.2 432.8ZM101.7 439.4L70.6 444.6L71.0 446.3L101.9 440.5ZM43.0 449.1L29.2 451.4L29.7 454.1L43.4 451.5ZM143.2 432.8L119.1 437.2L119.2 437.9L143.2 433.0ZM-4.8 459.9L-25.5 463.7L-24.8 467.5L-4.2 463.3ZM140.1 435.0L93.1 448.8L93.5 450.1L140.2 435.3ZM86.4 450.8L66.3 456.7L66.8 458.6L86.8 452.2ZM49.5 461.7L32.7 466.6L33.5 469.2L50.1 463.9ZM140.5 436.0L104.4 449.4L104.8 450.5L140.6 436.3ZM140.6 436.3L78.7 460.5L79.3 462.1L140.7 436.6ZM140.7 436.5L105.1 451.2L105.5 452.2L140.8 436.8ZM101.8 452.5L88.9 457.8L89.5 459.2L102.3 453.6ZM85.7 459.2L69.5 465.8L70.2 467.6L86.3 460.6ZM140.8 436.8L99.0 454.8L99.5 456.0L140.9 437.1ZM95.8 456.2L76.5 464.6L77.3 466.2L96.4 457.5ZM12.3 492.4L-3.8 499.3L-2.3 502.6L13.6 495.3ZM144.1 435.6L128.1 442.8L128.4 443.3L144.2 435.8ZM118.6 447.1L96.3 457.2L96.8 458.5L118.9 447.9ZM141.0 437.2L103.1 455.3L103.6 456.3L141.1 437.5ZM71.4 470.3L58.8 476.3L59.8 478.3L72.3 472.0ZM144.3 435.9L116.0 449.9L116.5 450.8L144.4 436.2ZM97.2 459.3L78.4 468.6L79.2 470.2L97.8 460.5ZM144.3 436.1L107.1 455.5L107.6 456.4L144.5 436.3ZM76.0 471.6L63.6 478.0L64.6 479.9L76.9 473.2ZM144.4 436.3L126.0 446.3L126.3 446.9L144.6 436.5ZM122.9 448.0L107.5 456.3L108.0 457.3L123.3 448.6ZM144.5 436.5L129.3 445.1L129.6 445.6L144.7 436.7ZM126.2 446.8L114.1 453.7L114.5 454.5L126.6 447.4ZM141.9 438.9L127.1 448.3L127.5 448.9L142.1 439.2ZM65.1 487.7L50.3 497.0L51.7 499.2L66.3 489.5ZM145.2 437.6L59.6 498.4L61.1 500.4L145.4 437.8ZM145.3 437.7L131.3 448.1L131.6 448.6L145.5 437.9ZM117.2 458.5L80.5 485.5L81.7 487.0L117.8 459.3ZM142.7 440.0L67.6 497.4L69.0 499.2L142.9 440.3ZM64.8 499.5L50.9 510.2L52.6 512.3L66.3 501.4ZM42.6 516.5L28.7 527.2L30.7 529.8L44.4 518.9ZM143.0 440.4L99.7 476.0L100.7 477.1L143.2 440.7ZM80.8 491.5L64.6 504.9L66.2 506.7L82.1 493.1ZM145.9 438.4L132.5 449.7L132.9 450.2L146.0 438.6ZM121.9 458.8L108.5 470.1L109.4 471.1L122.5 459.5ZM105.9 472.4L65.9 506.4L67.5 508.3L106.8 473.4ZM143.9 441.4L116.4 468.4L117.2 469.2L144.2 441.7ZM113.9 470.8L71.4 512.5L73.1 514.2L114.8 471.7ZM146.7 439.3L105.7 482.4L106.8 483.4L146.9 439.5ZM103.3 484.9L69.5 520.4L71.4 522.2L104.4 486.0ZM144.5 442.0L71.1 521.9L73.0 523.6L144.7 442.2ZM147.0 439.6L128.4 460.5L129.1 461.1L147.2 439.7ZM126.1 463.1L107.5 484.1L108.7 485.0L126.8 463.7ZM105.2 486.7L82.0 512.9L83.7 514.4L106.4 487.7ZM145.5 442.9L124.2 470.6L125.0 471.2L145.8 443.1ZM115.6 481.7L85.7 520.5L87.6 522.0L116.7 482.5ZM147.8 440.2L108.2 493.6L109.5 494.6L148.0 440.4ZM101.9 502.1L85.2 524.5L87.2 526.0L103.4 503.1ZM149.1 441.0L116.2 498.9L117.7 499.7L149.3 441.2ZM114.5 501.9L105.9 517.1L107.7 518.1L116.0 502.7ZM104.1 520.2L93.8 538.4L96.0 539.7L106.0 521.2ZM149.3 441.1L142.6 453.4L143.0 453.7L149.5 441.3ZM140.9 456.5L102.3 527.2L104.4 528.3L141.4 456.8ZM149.8 441.4L115.0 514.0L116.8 514.8L150.0 441.5ZM113.5 517.2L107.5 529.8L109.6 530.8L115.3 518.0ZM106.0 533.0L99.9 545.6L102.3 546.7L108.1 534.0ZM148.8 444.8L139.0 467.3L139.8 467.6L149.1 444.9ZM132.0 483.3L119.4 512.2L121.1 512.9L133.1 483.8ZM106.8 541.0L99.8 557.1L102.4 558.2L109.1 542.0ZM149.3 445.0L123.5 510.1L125.2 510.7L149.6 445.1ZM149.8 445.2L126.3 511.1L128.0 511.7L150.1 445.3ZM150.1 445.3L130.0 505.0L131.5 505.5L150.4 445.4ZM151.6 442.1L128.6 519.2L130.4 519.8L151.8 442.2ZM155.1 446.1L155.6 512.6L157.3 512.6L155.4 446.1Z"/><path fill="#8c7a7e" d="M107.6 392.3L104.8 390.1L103.5 391.7L106.3 393.8ZM36.8 335.0L34.1 332.8L30.9 336.9L33.7 339.0ZM15.0 317.4L12.3 315.2L8.5 320.0L11.3 322.1ZM144.4 425.0L138.2 421.7L137.9 422.3L144.2 425.3ZM54.7 377.4L48.6 374.1L46.7 377.7L53.0 380.8ZM17.6 357.7L14.5 356.1L12.2 360.8L15.3 362.3ZM115.2 412.9L112.0 411.5L111.4 413.0L114.7 414.3ZM54.5 385.9L51.3 384.5L49.8 388.0L53.0 389.3ZM32.1 376.0L28.9 374.6L27.1 378.8L30.3 380.1ZM19.3 370.3L16.1 368.9L14.1 373.5L17.4 374.9ZM12.9 367.5L9.7 366.1L7.6 370.9L10.9 372.2ZM6.5 364.6L3.3 363.2L1.1 368.3L4.4 369.6ZM86.6 409.8L79.9 407.7L79.2 410.2L86.0 412.0ZM33.0 393.4L26.3 391.4L25.1 395.7L31.9 397.5ZM19.6 389.3L16.3 388.3L15.0 392.9L18.4 393.9ZM84.8 417.0L74.5 415.0L74.0 417.7L84.4 419.4ZM67.6 413.7L64.2 413.0L63.7 416.1L67.1 416.6ZM60.7 412.4L57.3 411.7L56.7 414.9L60.2 415.5ZM43.6 409.0L40.1 408.4L39.5 412.2L42.9 412.7ZM36.7 407.7L33.3 407.0L32.5 411.1L36.0 411.6ZM29.8 406.4L19.5 404.4L18.7 408.9L29.1 410.5ZM49.8 414.0L46.3 413.5L45.8 417.1L49.3 417.5ZM42.9 412.9L36.0 411.9L35.4 415.8L42.4 416.7ZM32.5 411.3L29.1 410.8L28.5 415.0L31.9 415.4ZM25.6 410.2L22.1 409.7L21.5 414.1L25.0 414.5ZM18.7 409.1L15.2 408.6L14.6 413.2L18.0 413.7ZM-5.5 405.3L-9.0 404.8L-9.7 410.2L-6.3 410.7ZM-40.1 399.9L-43.6 399.3L-44.5 405.9L-41.0 406.4ZM136.1 428.6L125.7 427.5L125.6 428.5L136.0 429.3ZM122.2 427.2L115.2 426.5L115.1 427.8L122.1 428.3ZM111.7 426.1L108.3 425.7L108.1 427.3L111.6 427.5ZM90.8 423.9L87.4 423.6L87.2 425.8L90.7 426.0ZM59.5 420.6L56.0 420.3L55.7 423.6L59.2 423.8ZM52.6 419.9L42.1 418.8L41.8 422.6L52.3 423.3ZM35.1 418.1L28.2 417.4L27.8 421.6L34.8 422.1ZM24.7 417.0L21.2 416.7L20.8 421.1L24.3 421.3ZM7.3 415.2L3.8 414.8L3.4 419.9L6.9 420.1ZM0.3 414.5L-3.1 414.1L-3.6 419.4L-0.1 419.6ZM-24.0 411.9L-34.5 410.9L-35.0 417.1L-24.6 417.9ZM-38.0 410.5L-41.4 410.1L-42.0 416.7L-38.5 416.9ZM-44.9 409.8L-51.9 409.0L-52.5 415.9L-45.5 416.4ZM97.6 427.6L94.1 427.5L94.0 429.5L97.5 429.5ZM90.6 427.3L83.6 426.9L83.5 429.3L90.5 429.4ZM69.6 426.2L59.1 425.7L59.0 428.8L69.5 429.0ZM55.6 425.5L48.6 425.1L48.5 428.6L55.5 428.8ZM45.1 424.9L34.7 424.4L34.5 428.4L45.0 428.6ZM31.2 424.2L24.2 423.9L24.0 428.2L31.0 428.3ZM83.5 429.4L80.0 429.4L80.0 431.8L83.5 431.8ZM66.0 429.1L62.5 429.1L62.5 432.1L66.0 432.1ZM59.0 429.0L55.5 429.0L55.5 432.2L59.0 432.2ZM17.0 428.3L13.5 428.3L13.5 432.9L17.0 432.9ZM10.0 428.2L6.5 428.1L6.5 433.1L10.0 433.0ZM3.0 428.1L-0.5 428.0L-0.5 433.2L3.0 433.1ZM-77.5 426.7L-81.0 426.7L-81.0 434.5L-77.5 434.5ZM80.0 430.7L76.5 430.7L76.5 433.3L80.0 433.2ZM118.5 431.3L115.0 431.3L115.1 432.7L118.5 432.5ZM111.5 431.4L104.5 431.5L104.6 433.2L111.6 432.8ZM66.0 432.2L55.5 432.4L55.6 435.7L66.1 435.2ZM52.0 432.5L48.5 432.6L48.6 436.1L52.1 435.9ZM45.0 432.6L41.5 432.7L41.7 436.4L45.1 436.3ZM31.0 432.9L27.5 432.9L27.7 437.2L31.2 437.0ZM24.0 433.0L13.5 433.2L13.7 437.9L24.2 437.3ZM139.5 431.2L129.0 431.5L129.1 432.4L139.5 431.7ZM94.0 432.8L87.0 433.0L87.2 435.3L94.1 434.8ZM76.6 433.4L73.1 433.5L73.2 436.2L76.7 436.0ZM66.1 433.8L55.6 434.2L55.7 437.5L66.2 436.7ZM48.6 434.4L38.1 434.8L38.3 438.7L48.8 437.9ZM13.6 435.7L10.1 435.8L10.3 440.6L13.8 440.3ZM91.0 438.5L87.5 438.9L87.8 441.2L91.3 440.6ZM45.8 444.1L42.4 444.5L42.9 448.3L46.3 447.7ZM38.9 445.0L35.4 445.4L36.0 449.3L39.4 448.8ZM-6.3 450.5L-9.7 451.0L-9.0 456.4L-5.5 455.9ZM-13.2 451.4L-23.6 452.7L-22.8 458.6L-12.4 457.0ZM67.1 444.6L63.7 445.1L64.2 448.2L67.6 447.5ZM53.3 446.8L46.4 447.9L47.0 451.5L53.9 450.2ZM15.3 452.9L8.3 454.0L9.2 458.8L16.1 457.5ZM-2.0 455.6L-5.5 456.2L-4.5 461.5L-1.1 460.8ZM-15.8 457.8L-22.8 458.9L-21.7 464.8L-14.9 463.5ZM-26.2 459.5L-33.1 460.6L-32.0 466.8L-25.2 465.5ZM115.6 437.6L105.3 439.4L105.6 441.1L115.9 438.9ZM98.4 440.6L91.5 441.9L91.9 444.0L98.7 442.5ZM88.0 442.5L84.6 443.1L85.0 445.4L88.5 444.7ZM67.4 446.1L60.5 447.4L61.1 450.5L67.9 449.0ZM50.1 449.2L43.2 450.4L44.0 454.1L50.8 452.7ZM36.3 451.6L32.9 452.2L33.7 456.3L37.1 455.6ZM29.5 452.8L26.0 453.5L26.8 457.7L30.3 457.0ZM22.6 454.1L19.1 454.7L20.0 459.2L23.4 458.4ZM12.2 455.9L1.9 457.7L2.9 462.8L13.1 460.6ZM62.7 457.1L59.4 458.1L60.3 461.3L63.7 460.2ZM56.0 459.1L52.7 460.0L53.7 463.4L57.0 462.3ZM29.1 466.8L25.7 467.8L27.0 472.1L30.4 471.0ZM22.4 468.8L19.0 469.7L20.4 474.2L23.7 473.1ZM-7.9 477.5L-14.6 479.4L-12.9 485.0L-6.2 482.8ZM97.7 451.5L87.8 455.1L88.7 457.3L98.4 453.4ZM81.3 457.5L78.0 458.7L78.9 461.3L82.2 459.9ZM74.7 459.9L71.4 461.1L72.5 463.9L75.7 462.6ZM68.1 462.3L64.8 463.5L66.0 466.5L69.2 465.2ZM61.5 464.7L58.2 465.9L59.5 469.1L62.7 467.8ZM55.0 467.1L51.7 468.3L53.0 471.7L56.2 470.4ZM31.9 475.5L28.7 476.7L30.2 480.9L33.5 479.6ZM25.4 477.9L18.8 480.3L20.5 484.8L27.0 482.2ZM5.6 485.1L-4.2 488.7L-2.2 494.0L7.5 490.0ZM75.2 461.3L68.7 463.8L69.8 466.7L76.3 463.9ZM32.7 477.7L26.2 480.2L27.9 484.4L34.4 481.7ZM0.1 490.2L-3.2 491.5L-1.1 496.7L2.1 495.3ZM-55.5 511.6L-58.7 512.9L-55.9 519.9L-52.7 518.5ZM-62.0 514.1L-65.3 515.4L-62.3 522.6L-59.1 521.3ZM66.0 466.6L62.8 468.0L64.1 471.0L67.3 469.6ZM30.3 481.1L23.8 483.7L25.7 488.0L32.1 485.2ZM7.6 490.3L-2.1 494.2L0.1 499.4L9.7 495.1ZM73.1 465.4L69.9 466.8L71.1 469.6L74.3 468.1ZM63.4 469.6L60.2 470.9L61.6 474.0L64.8 472.6ZM24.8 486.0L21.6 487.4L23.5 491.8L26.7 490.3ZM124.9 444.0L121.7 445.5L122.2 446.6L125.3 445.0ZM92.9 458.3L83.3 462.6L84.4 465.0L93.9 460.4ZM73.7 466.9L70.5 468.3L71.8 471.1L75.0 469.5ZM67.3 469.7L60.9 472.6L62.4 475.7L68.7 472.6ZM32.2 485.4L29.0 486.8L30.9 491.0L34.1 489.5ZM19.4 491.1L13.0 494.0L15.2 498.6L21.5 495.6ZM9.8 495.4L6.6 496.8L8.9 501.7L12.0 500.2ZM3.4 498.3L0.2 499.7L2.6 504.8L5.7 503.2ZM-38.1 516.8L-41.3 518.2L-38.3 524.7L-35.2 523.1ZM99.7 456.4L96.6 457.9L97.5 459.8L100.6 458.2ZM93.4 459.4L87.1 462.4L88.1 464.6L94.4 461.4ZM80.7 465.3L74.4 468.3L75.7 470.9L81.9 467.8ZM17.3 495.0L14.1 496.4L16.4 501.1L19.5 499.5ZM112.8 451.2L103.3 455.9L104.2 457.6L113.5 452.6ZM75.0 469.7L65.6 474.3L67.1 477.2L76.4 472.3ZM62.5 475.8L53.0 480.4L54.7 483.8L64.0 478.9ZM49.9 482.0L46.7 483.5L48.6 487.1L51.6 485.4ZM18.4 497.4L15.3 498.9L17.6 503.5L20.7 501.8ZM85.1 466.3L82.0 467.9L83.2 470.3L86.3 468.6ZM53.9 482.2L44.6 487.0L46.5 490.6L55.7 485.5ZM19.6 499.7L16.5 501.3L18.9 505.9L22.0 504.2ZM-20.9 520.4L-24.0 522.0L-20.9 527.9L-17.8 526.2ZM-39.6 530.0L-45.8 533.2L-42.3 539.8L-36.2 536.4ZM88.8 465.9L82.6 469.2L84.0 471.5L90.0 468.0ZM70.3 475.7L61.0 480.7L62.7 483.8L71.8 478.5ZM57.9 482.3L54.8 484.0L56.7 487.3L59.7 485.5ZM48.7 487.3L45.6 488.9L47.6 492.5L50.6 490.8ZM-31.7 530.1L-34.7 531.7L-31.3 537.9L-28.3 536.2ZM-37.8 533.3L-40.9 535.0L-37.4 541.4L-34.3 539.7ZM-44.0 536.6L-47.1 538.3L-43.4 544.9L-40.4 543.2ZM110.9 455.1L107.8 456.8L108.7 458.4L111.7 456.6ZM104.7 458.5L101.7 460.2L102.7 462.0L105.7 460.2ZM83.3 470.4L77.2 473.8L78.7 476.4L84.7 472.8ZM74.1 475.5L71.1 477.2L72.7 480.0L75.7 478.2ZM52.7 487.4L46.6 490.8L48.7 494.4L54.7 490.8ZM-26.8 531.6L-33.0 535.0L-29.4 541.2L-23.4 537.6ZM-36.0 536.7L-42.1 540.1L-38.4 546.6L-32.4 543.0ZM121.1 451.8L112.2 457.4L113.1 458.8L121.8 452.9ZM109.2 459.3L100.3 464.8L101.5 466.6L110.2 460.8ZM97.4 466.7L94.4 468.5L95.7 470.5L98.6 468.6ZM82.5 476.0L73.6 481.5L75.4 484.2L84.1 478.3ZM35.1 505.7L29.1 509.4L31.8 513.5L37.6 509.6ZM56.4 499.8L53.5 501.8L55.9 505.1L58.7 503.0ZM50.6 503.8L47.8 505.8L50.3 509.3L53.1 507.2ZM36.3 513.9L33.4 515.9L36.3 519.9L39.1 517.8ZM30.6 517.9L24.8 521.9L27.9 526.2L33.5 522.0ZM128.3 450.0L119.8 456.2L120.7 457.4L129.0 450.9ZM77.4 487.1L68.9 493.3L71.0 496.1L79.3 489.6ZM66.1 495.3L57.6 501.5L60.0 504.7L68.3 498.2ZM54.7 503.6L49.1 507.7L51.7 511.2L57.2 506.9ZM40.6 513.9L37.8 515.9L40.7 519.8L43.4 517.6ZM32.1 520.1L29.3 522.1L32.4 526.2L35.1 524.1ZM96.8 477.8L94.0 480.1L95.7 482.0L98.4 479.8ZM91.3 482.3L83.2 488.9L85.1 491.2L93.1 484.3ZM37.0 526.4L34.2 528.6L37.6 532.5L40.2 530.2ZM31.5 530.8L28.8 533.0L32.3 537.1L34.9 534.8ZM129.7 451.8L124.4 456.3L125.3 457.3L130.5 452.7ZM62.8 508.1L60.1 510.4L62.8 513.5L65.4 511.2ZM68.4 514.4L65.9 516.8L68.8 519.7L71.2 517.2ZM38.2 543.6L35.7 546.0L39.6 549.9L42.0 547.4ZM3.0 577.7L-2.0 582.5L3.1 587.6L7.9 582.6ZM64.1 524.9L61.7 527.4L64.9 530.5L67.3 527.9ZM42.2 547.6L39.8 550.1L43.8 553.9L46.2 551.3ZM30.1 560.2L27.6 562.7L32.1 566.9L34.4 564.3ZM-1.5 592.9L-3.9 595.5L1.6 600.6L4.0 598.0ZM61.0 531.6L58.6 534.2L62.1 537.3L64.4 534.7ZM46.7 547.0L41.9 552.1L46.0 555.8L50.6 550.5ZM32.4 562.4L30.0 564.9L34.5 569.0L36.8 566.3ZM79.1 515.0L76.8 517.6L79.7 520.2L82.0 517.5ZM74.4 520.2L72.1 522.8L75.2 525.5L77.5 522.8ZM69.8 525.4L65.1 530.6L68.5 533.6L73.0 528.2ZM46.4 551.5L44.0 554.1L48.2 557.7L50.4 555.0ZM39.4 559.3L37.0 561.9L41.4 565.7L43.7 563.0ZM121.8 473.2L117.5 478.7L119.1 479.9L123.2 474.3ZM76.6 531.1L74.4 533.9L77.9 536.5L80.0 533.7ZM65.8 544.9L63.7 547.7L67.6 550.7L69.7 547.8ZM59.4 553.2L57.2 556.0L61.4 559.2L63.5 556.3ZM46.5 569.8L44.3 572.5L49.1 576.1L51.1 573.3ZM16.3 608.4L14.2 611.2L20.2 615.7L22.3 612.9ZM105.7 496.1L103.6 498.9L105.9 500.6L107.9 497.7ZM80.5 529.7L74.1 538.1L77.8 540.7L83.8 532.1ZM69.9 543.7L65.7 549.3L69.7 552.2L73.7 546.4ZM27.9 599.6L23.7 605.2L29.5 609.5L33.5 603.7ZM89.6 544.1L86.1 550.2L90.1 552.4L93.4 546.2ZM65.1 586.6L63.4 589.6L68.7 592.5L70.4 589.5ZM95.0 539.1L93.3 542.2L97.0 544.2L98.6 541.0ZM96.1 551.5L94.6 554.7L98.8 556.6L100.2 553.4ZM137.3 470.4L133.1 480.0L134.7 480.7L138.7 470.9ZM117.5 515.1L113.2 524.7L116.3 526.1L120.3 516.3ZM111.8 527.9L110.3 531.1L113.7 532.6L115.0 529.3ZM108.9 534.3L107.5 537.5L111.1 539.0L112.4 535.8ZM86.2 585.5L83.4 591.9L88.7 594.2L91.4 587.7ZM121.7 513.1L120.4 516.4L123.3 517.5L124.5 514.2ZM119.1 519.6L115.2 529.4L118.5 530.6L122.1 520.8ZM104.7 555.4L103.4 558.6L107.7 560.2L108.9 556.9ZM91.6 587.8L89.0 594.3L94.5 596.4L96.9 589.8ZM124.6 514.3L122.2 520.8L125.3 521.9L127.4 515.2ZM97.2 589.9L96.0 593.2L101.4 595.1L102.5 591.8ZM127.2 511.5L125.0 518.1L127.9 519.0L129.9 512.3ZM115.9 544.6L114.7 547.9L118.6 549.2L119.7 545.8ZM112.5 554.5L110.2 561.1L114.5 562.5L116.6 555.8ZM101.1 587.6L98.8 594.2L104.3 596.0L106.3 589.3ZM121.9 539.2L119.9 545.9L123.7 547.0L125.5 540.2ZM116.8 555.9L115.8 559.3L120.1 560.5L121.0 557.1ZM113.7 566.0L112.7 569.3L117.3 570.6L118.3 567.2ZM155.1 516.1L155.1 523.1L158.1 523.0L157.9 516.1ZM155.1 526.6L155.1 530.1L158.4 530.0L158.3 526.5Z"/><rect x="175.0" y="111.5" width="6" height="5" fill="#8b7a7e"/><rect x="302.0" y="126.5" width="6" height="5" fill="#8b7a7e"/><rect x="258.0" y="141.5" width="6" height="5" fill="#6f8a6f"/><rect x="293.0" y="144.5" width="6" height="5" fill="#8b7a7e"/><rect x="285.0" y="160.5" width="6" height="5" fill="#6f8a6f"/><rect x="313.5" y="163.0" width="5" height="8" fill="#6f8a6f"/><rect x="301.0" y="174.5" width="6" height="5" fill="#6f8a6f"/><rect x="149.0" y="194.0" width="4" height="4" fill="#6f8a6f"/><rect x="215.5" y="211.0" width="5" height="4" fill="#00a000"/><rect x="98.0" y="254.0" width="4" height="4" fill="#006400"/><rect x="156.5" y="258.0" width="5" height="4" fill="#8b7a7e"/><rect x="169.0" y="273.5" width="4" height="3" fill="#6e0000"/><rect x="192.5" y="273.5" width="5" height="5" fill="#00a000"/><rect x="208.0" y="270.0" width="4" height="4" fill="#00a800"/><rect x="282.5" y="266.0" width="5" height="4" fill="#00b400"/><rect x="534.0" y="45.5" width="6" height="5" fill="#8b7a7e"/><rect x="438.0" y="226.0" width="6" height="6" fill="#8b7a7e"/><rect x="387.5" y="347.5" width="7" height="5" fill="#8b7a7e"/><rect x="402.5" y="301.5" width="5" height="5" fill="#6f8a6f"/><rect x="404.5" y="305.5" width="5" height="5" fill="#00a000"/><rect x="409.5" y="314.5" width="5" height="5" fill="#6f8a6f"/><rect x="392.5" y="321.5" width="5" height="5" fill="#6f8a6f"/><rect x="380.5" y="327.5" width="5" height="5" fill="#6f8a6f"/><rect x="396.5" y="330.5" width="5" height="5" fill="#6f8a6f"/><rect x="412.5" y="323.5" width="5" height="5" fill="#6f8a6f"/><rect x="441.0" y="329.0" width="6" height="6" fill="#007000"/><rect x="297.5" y="359.5" width="5" height="5" fill="#d0000f"/><rect x="311.5" y="372.0" width="5" height="4" fill="#d0000f"/><rect x="327.5" y="374.0" width="5" height="4" fill="#00b400"/><rect x="306.5" y="392.5" width="5" height="3" fill="#d0000f"/><rect x="315.0" y="387.0" width="6" height="4" fill="#8b7a7e"/><rect x="309.5" y="406.0" width="5" height="4" fill="#6f8a6f"/><rect x="350.5" y="444.5" width="5" height="5" fill="#8b7a7e"/><rect x="336.5" y="463.5" width="5" height="5" fill="#6f8a6f"/><rect x="349.0" y="462.5" width="6" height="5" fill="#6f8a6f"/><rect x="382.0" y="459.5" width="10" height="5" fill="#6f8a6f"/><rect x="399.5" y="460.5" width="5" height="5" fill="#6f8a6f"/><rect x="381.0" y="466.5" width="6" height="5" fill="#8b7a7e"/><rect x="430.5" y="450.0" width="5" height="18" fill="#8b7a7e"/><rect x="422.5" y="461.5" width="9" height="7" fill="#8b7a7e"/><rect x="425.5" y="477.5" width="7" height="15" fill="#8b7a7e"/><rect x="352.5" y="499.0" width="5" height="8" fill="#6f8a6f"/><rect x="389.5" y="498.5" width="5" height="9" fill="#8b7a7e"/><rect x="364.5" y="525.5" width="5" height="5" fill="#006400"/><rect x="411.5" y="535.5" width="5" height="5" fill="#40dcde"/><rect x="357.5" y="553.5" width="5" height="5" fill="#008200"/><rect x="339.5" y="534.5" width="5" height="5" fill="#6f8a6f"/><rect x="479.5" y="435.5" width="5" height="5" fill="#8b7a7e"/><rect x="484.5" y="441.5" width="3" height="5" fill="#d0000f"/><rect x="488.0" y="453.5" width="4" height="5" fill="#880008"/><rect x="483.5" y="464.5" width="5" height="15" fill="#8b7a7e"/><rect x="489.5" y="472.0" width="5" height="6" fill="#00a000"/><rect x="96.0" y="579.0" width="4" height="4" fill="#ff70a8"/><rect x="88.0" y="598.5" width="10" height="5" fill="#8b7a7e"/><rect x="130.0" y="616.5" width="4" height="5" fill="#6e0000"/><rect x="153.0" y="661.0" width="4" height="4" fill="#e0000f"/><rect x="241.0" y="662.0" width="6" height="4" fill="#880008"/><rect x="247.0" y="660.0" width="4" height="4" fill="#8b7a7e"/><rect x="282.5" y="604.5" width="5" height="5" fill="#006400"/><rect x="259.0" y="550.0" width="4" height="4" fill="#ff70a8"/><rect x="281.0" y="552.0" width="4" height="4" fill="#ff70a8"/><rect x="153.0" y="827.5" width="6" height="3" fill="#8b7a7e"/><rect x="299.0" y="856.5" width="6" height="5" fill="#6f8a6f"/><rect x="314.0" y="502.0" width="8" height="6" fill="#6f8a6f"/><rect x="322.0" y="512.0" width="8" height="6" fill="#6f8a6f"/><rect x="330.0" y="522.0" width="6" height="6" fill="#6f8a6f"/><rect x="311.0" y="517.0" width="6" height="6" fill="#6f8a6f"/><rect x="337.5" y="496.0" width="5" height="8" fill="#6f8a6f"/><rect x="319.0" y="527.5" width="6" height="5" fill="#6f8a6f"/><rect x="331.0" y="505.0" width="8" height="6" fill="#6f8a6f"/><rect x="307.0" y="527.0" width="6" height="6" fill="#6f8a6f"/><rect x="324.0" y="531.5" width="8" height="5" fill="#6f8a6f"/><rect x="339.5" y="510.0" width="5" height="6" fill="#8b7a7e"/><rect x="317.0" y="495.5" width="6" height="5" fill="#6f8a6f"/><rect x="335.0" y="514.0" width="6" height="8" fill="#6f8a6f"/><rect x="301.5" y="537.0" width="5" height="6" fill="#6f8a6f"/><rect x="343.5" y="534.0" width="5" height="6" fill="#6f8a6f"/></g>
<g stroke="#7a7a7a" stroke-width="1.3" fill="none" stroke-linejoin="round" stroke-linecap="round">
<path d="M371.5 355.9 L378.5 354.8 L385.9 352.0 L392.4 350.1 L402.6 349.2 L413.7 345.5 L419.2 338.1 L421.1 327.0 L420.1 320.5 L423.8 316.8 L430.3 318.7 L437.7 315.9 L444.2 311.3 L450.7 311.3 L456.2 315.9 L461.8 324.2 L463.6 332.6 L472.9 336.3 L482.1 339.0 L487.7 343.7 L492.3 346.4 L496.9 344.6 L502.5 342.7 L509.9 344.6 L511.7 351.1 L508.0 356.6 L497.8 361.2 L493.2 369.6 L493.2 378.8 L496.9 386.2 L500.6 393.6 L501.5 401.0 L502.5 412.1 L498.8 425.1 L493.2 434.3 L485.8 439.9 L484.0 449.1 L481.2 460.2 L474.7 467.6 L469.2 475.0 L467.3 490.0 L467.3 491.1 L463.6 494.8 L456.2 498.5 L455.3 507.8 L457.1 517.0 L453.4 528.1 L456.2 530.9 L469.2 526.3 L480.3 521.6 L491.4 522.6 L489.5 528.1 L493.2 539.2 L483.0 544.8 L480.3 554.0 L469.2 561.4 L466.4 570.7 L470.1 578.1 L462.7 585.5 L460.8 591.0 L465.5 600.3 L472.9 615.1 L470.1 626.2 L454.4 629.9 L434.0 644.7 L430.3 648.4 L422.9 642.8 L411.8 635.4 L403.5 638.2"/>
<path d="M501.5 401.0 L506.2 397.3 L508.0 393.6 L513.6 391.8 L517.3 385.3 L522.8 377.0 L528.4 367.7 L534.8 360.3 L540.4 364.0 L545.0 363.1 L550.6 365.9 L556.1 373.3 L560.0 375.1 L573.7 370.7 L575.5 385.5 L579.2 386.4 L579.2 393.8 L586.6 393.8 L588.5 391.1"/>
<path d="M540.2 364.0 L539.5 373.7 L537.6 385.3 L535.6 398.3 L535.0 409.9 L538.9 420.3 L545.3 429.4 L546.6 433.9 L551.8 438.4 L558.3 442.3 L562.2 447.5 L571.2 452.7 L575.1 456.6 L582.9 461.7 L588.1 468.2 L593.3 476.0 L602.3 465.6 L606.2 461.7 L614.0 458.5 L628.2 457.9 L626.9 452.7"/>
<path d="M491.4 522.6 L500.6 521.6 L511.7 517.0 L521.0 522.6 L526.5 519.8 L533.0 526.3 L536.7 533.7 L544.1 536.4 L552.4 532.7 L560.0 525.3 L571.1 522.6 L578.5 524.4 L586.8 527.2 L592.4 524.0 L597.9 524.4 L597.9 535.5 L602.6 544.8 L610.0 553.1 L617.4 554.0 L623.8 552.2 L627.5 555.9 L629.4 563.3 L635.9 568.8 L643.3 570.7 L648.8 576.2 L654.4 587.3 L652.5 598.4 L648.8 605.8 L659.9 609.5 L671.0 614.1 L676.6 618.8 L682.1 624.3 L691.4 618.8 L700.6 615.1 L709.9 616.5 L717.3 616.0 L721.0 609.5 L721.0 602.1 L725.6 598.4 L732.1 598.4 L737.6 604.0 L745.0 613.2 L752.4 618.8 L760.0 613.2 L761.4 610.0 L767.9 605.5 L779.9 610.0 L798.4 616.6"/>
<path d="M470.1 626.2 L472.9 646.5 L475.6 653.0 L489.5 652.1 L498.8 655.8 L506.2 656.7 L513.6 650.2 L526.5 651.1 L535.8 658.5 L545.0 656.7 L554.3 657.6 L560.0 661.3 L571.1 662.2 L582.2 662.2 L585.0 657.6 L592.4 646.5 L593.3 630.8 L602.6 628.0 L606.3 618.8 L619.2 609.5 L624.8 602.1 L641.4 602.1 L648.8 605.8"/>
<path d="M535.8 658.5 L530.2 665.0 L532.1 680.0 L537.6 685.6 L537.6 699.4 L527.4 698.5 L526.5 693.0 L521.0 690.2 L513.6 693.0 L508.0 700.4 L503.4 707.8 L502.5 718.9 L496.9 722.6 L489.5 731.8 L480.3 737.4 L472.9 739.2 L472.9 744.8 L475.6 751.2 L479.3 754.9 L477.5 766.0 L467.3 777.1 L460.8 779.0 L452.5 773.4 L447.0 775.3 L437.7 780.8 L432.2 781.8 L424.8 785.5 L415.5 788.2 L410.0 791.9 L410.0 797.5 L402.6 798.4 L400.7 797.5 L400.7 781.8 L394.2 779.0 L390.5 776.2"/>
<path d="M629.4 563.3 L634.0 554.0 L645.1 537.4 L650.7 529.0 L644.2 519.8 L648.8 509.6 L653.4 502.2 L676.6 503.1 L678.4 497.6 L675.6 502.2 L675.6 512.4 L682.1 512.4"/>
<path d="M582.2 662.2 L593.3 664.1 L603.5 662.2 L612.7 665.9 L623.8 665.0 L643.3 665.9 L652.5 680.0 L659.0 691.1 L660.8 700.4 L667.3 711.5 L672.9 714.2 L676.6 724.4 L684.0 723.5 L689.5 730.0 L696.9 738.3 L708.0 737.4 L715.4 742.9 L719.1 750.3 L718.2 754.0"/>
<path d="M477.5 766.0 L485.8 765.1 L495.1 761.4 L503.4 760.5 L508.0 756.8 L515.4 755.9 L521.0 754.9 L522.8 761.4 L523.7 767.0 L532.1 767.9 L533.9 772.5 L537.6 776.2 L537.6 780.8 L541.3 782.7 L545.0 785.5 L548.7 782.7 L560.0 785.5 L569.3 791.0 L578.5 796.6 L582.2 807.7 L576.7 820.6 L577.6 828.0 L582.2 821.5 L590.5 817.8 L600.7 816.0 L619.2 807.7"/>
<path d="M676.6 724.4 L668.2 730.0 L659.9 735.5 L655.3 741.1 L656.2 749.4 L665.5 752.2 L668.2 755.9 L665.5 760.5 L660.8 761.4 L654.4 759.6 L647.0 763.3 L639.6 773.4 L623.8 777.1 L622.0 783.6 L619.2 792.9 L619.2 807.7 L625.7 820.6 L626.6 837.3"/>
<path d="M336.9 470.6 L345.3 474.2 L352.5 476.6 L362.1 476.6 L371.7 469.4 L381.3 453.8 L389.8 461.0 L397.0 474.2 L399.4 477.8 L405.4 476.6 L409.0 462.2 L412.6 461.0 L415.0 471.8 L419.8 488.7 L424.6 489.9 L431.8 477.8 L439.0 475.4 L446.2 480.2 L457.1 491.1 L463.1 495.9"/>
</g>
<g stroke="#000" stroke-width="3.0" fill="none" stroke-linejoin="round" stroke-linecap="round">
<path d="M665.2 45.6 L660.6 49.3 L658.8 53.9 L658.4 59.4 L660.6 64.1 L662.5 67.8 L660.6 70.5 L656.9 74.2 L654.1 78.9 L649.5 78.9 L645.8 79.8 L641.2 77.9 L637.5 80.7 L631.0 83.5 L626.4 83.5 L620.8 86.3 L614.4 89.0 L610.7 90.9 L607.0 94.6 L605.1 99.2 L602.3 105.7 L597.7 109.4 L592.2 108.5 L587.5 110.3 L585.7 115.9 L587.5 119.6 L582.9 121.4 L581.1 126.0 L584.8 127.9 L590.3 132.5 L594.0 140.8 L594.0 151.0 L595.9 158.4 L598.6 164.0 L595.9 166.7 L589.4 167.7 L582.9 165.8 L578.3 167.7 L576.4 174.1 L573.7 173.2 L570.0 167.7 L567.2 169.5 L565.3 176.9 L567.2 182.5 L569.0 186.2 L565.3 189.9 L559.8 191.7 L562.6 196.3 L565.3 198.2 L569.0 194.5 L573.7 196.3 L574.6 204.7 L571.8 209.3 L564.4 212.1 L557.9 213.0 L549.6 209.3 L554.2 194.5 L552.4 183.4 L540.4 176.0 L526.5 173.2 L523.7 188.0 L520.0 189.9 L508.0 187.0 L496.0 181.5 L493.2 177.8 L490.4 163.9 L474.7 168.5 L466.4 169.4 L452.5 174.1 L445.1 211.1 L410.9 236.0 L409.0 246.2 L405.3 255.5 L402.6 268.4 L393.3 272.1 L383.1 283.2 L384.1 301.7 L378.5 320.2 L373.0 327.6 L362.8 334.1 L362.1 334.8 L360.9 344.4 L366.9 352.8 L372.9 360.0 L372.9 369.7 L366.9 372.1 L356.1 374.5 L353.7 386.5 L341.7 382.9 L332.1 387.7 L329.7 409.3 L321.2 428.6 L315.2 435.8 L308.0 446.6 L309.2 450.2 L323.7 457.4 L334.5 463.4 L336.9 470.6 L332.1 474.2 L329.7 477.8 L316.4 477.8 L316.4 493.5 L311.6 493.5 L312.8 498.3 L309.2 509.1 L314.0 529.5 L311.6 539.1 L315.2 546.3 L316.4 550.0 L332.1 551.2 L341.7 559.6 L347.7 572.8 L362.0 603.1 L364.8 621.6 L374.9 622.6 L384.2 619.8 L389.7 620.7 L396.2 629.0 L402.7 638.3 L392.5 647.5 L390.7 654.0 L390.7 663.3 L396.2 671.6 L405.5 676.2 L417.5 681.8 L414.7 691.0 L414.7 707.7 L399.0 708.6 L396.2 716.9 L397.1 721.5 L391.6 731.7 L390.7 741.9 L382.3 747.4 L378.6 751.1 L378.6 756.7 L390.7 761.3 L392.5 761.3 L392.5 770.6 L383.3 780.0 L379.8 784.1 L376.1 787.8 L365.9 796.1 L363.1 794.2 L354.8 799.8 L351.1 803.5 L354.8 810.9 L367.8 806.3 L373.3 818.3 L367.8 821.1 L367.8 828.5 L385.3 846.0 L404.8 850.7 L416.8 846.0 L426.0 848.8 L437.1 847.9 L445.5 854.4 L454.7 857.1 L456.6 881.2 L464.9 887.7 L461.2 896.0 L474.1 891.4 L489.9 893.2 L491.7 896.9 L501.0 899.7 L510.2 881.2 L521.3 882.1 L530.6 891.4 L539.4 894.7 L540.0 879.6 L543.7 875.9 L553.0 873.1 L557.6 856.4 L567.8 860.1 L576.1 854.6 L575.2 844.4 L587.2 838.9 L589.0 839.8 L614.0 839.8 L614.9 837.0 L626.0 838.9 L630.7 835.2 L652.9 844.4 L655.6 853.7 L662.1 861.1 L667.7 859.2 L665.8 865.7 L679.7 869.4 L689.9 880.5 L695.4 878.6 L701.9 880.5 L711.1 887.9 L713.0 887.0"/>
<path d="M562.9 212.0 L562.0 222.2 L557.4 225.0 L556.4 230.5 L560.1 234.2 L558.3 238.9 L561.1 243.5 L555.5 245.3 L555.5 250.0 L559.2 253.7 L552.7 254.6 L550.9 262.9 L553.7 269.4 L550.0 272.2 L553.7 275.9 L557.4 273.1 L551.8 279.6 L547.2 281.4 L547.2 288.8 L552.7 288.8 L553.7 296.2 L561.1 307.3 L557.4 316.6 L562.9 322.1 L568.5 324.0 L562.0 332.3 L558.3 328.6 L563.8 335.1 L570.3 337.8 L569.9 340.0 L567.3 345.8 L563.5 347.8 L564.1 351.0 L567.3 352.3 L571.9 356.8 L573.8 359.4 L579.7 360.7 L585.5 362.7 L583.5 367.2 L581.6 372.4 L580.9 377.6 L584.2 383.4 L588.1 386.6 L589.4 393.1 L592.6 395.0 L595.8 391.2 L595.8 387.9 L593.3 385.3 L593.3 381.4 L597.1 378.9 L599.1 380.8 L599.7 387.9 L601.0 394.4 L602.3 399.6 L605.6 394.4 L608.8 393.1 L611.4 397.0 L618.5 398.3 L614.0 402.2 L616.6 404.8 L621.7 411.2 L618.5 413.8 L621.1 417.7 L616.6 420.3 L615.3 424.2 L619.2 426.1 L623.7 428.1 L626.3 434.5 L621.1 436.5 L624.3 440.4 L625.6 447.5 L629.5 451.4 L634.7 454.0 L640.0 461.1 L644.8 467.0 L652.2 470.7 L655.9 468.8 L661.4 472.5 L665.1 480.8 L670.7 478.1 L675.3 478.1 L677.1 487.3 L681.8 494.7 L682.7 500.3 L680.8 507.7 L685.5 512.3 L691.0 510.4 L693.8 504.0 L696.6 498.4 L709.5 497.5 L716.9 505.8 L724.3 515.1 L733.6 528.0 L741.0 530.8 L749.3 531.7 L752.1 537.3 L759.5 533.6 L763.2 536.3 L768.7 536.3 L774.3 528.9 L785.5 525.9 L789.2 535.2 L795.6 536.1 L801.2 538.9 L804.9 545.3 L808.6 542.6 L810.4 536.1 L814.1 535.2 L817.8 539.8 L816.9 544.4 L812.3 550.9 L803.0 555.5 L801.2 559.2 L803.0 562.0 L807.7 564.8 L804.9 569.4 L804.0 574.0 L809.5 579.6 L809.5 587.0 L804.9 590.7 L799.3 593.4 L798.4 599.9 L799.3 614.7 L799.3 617.5 L805.8 620.3 L808.6 624.0 L805.8 626.7 L800.3 624.0 L794.7 623.0 L795.6 625.8 L800.3 630.4 L802.1 635.1 L795.6 637.8 L785.5 650.8 L779.9 652.6 L772.5 656.3 L767.0 664.7 L759.6 673.0 L753.1 677.6 L749.4 685.0 L754.0 686.9 L758.6 689.6 L759.7 693.0 L756.9 702.2 L751.4 715.2 L746.7 729.0 L740.3 733.7 L733.8 742.9 L729.2 746.6 L723.6 747.5 L718.1 753.1 L715.3 757.7 L718.1 764.2 L720.8 767.0 L719.0 770.7 L714.4 768.8 L708.8 770.7 L705.1 774.4 L707.9 779.9 L716.2 785.5 L720.8 791.0 L719.9 797.5 L712.5 806.7 L707.0 812.3 L705.1 817.8 L707.0 828.0 L710.7 841.0 L713.0 855.5 L712.1 879.6 L712.1 887.9"/>
<path d="M713.0 878.5 L717.6 883.1 L720.4 881.3 L727.8 883.1 L735.2 881.3 L743.5 874.8 L746.3 871.1 L751.8 871.1 L755.5 876.7 L759.2 879.4 L764.8 881.3 L769.4 884.1 L774.9 881.3 L788.8 894.2 L796.2 896.1 L807.3 907.2 L813.8 910.9 L822.1 912.7 L833.2 925.7 L834.1 927.5 L829.5 929.4 L824.0 933.1 L822.1 937.7 L823.0 944.2 L827.7 947.0 L832.3 949.7 L831.4 952.5 L837.8 957.1 L847.1 956.2 L853.6 960.8 L852.6 967.3 L851.7 977.5 L858.2 975.6 L863.7 980.3 L858.2 990.4 L854.5 996.0 L850.8 989.5 L845.2 987.7 L839.7 989.5 L839.7 998.8 L848.0 1010.8 L856.3 1009.9 L858.2 1016.3 L855.4 1022.8 L858.2 1027.4 L863.7 1032.1 L870.2 1041.3 L873.9 1043.2 L878.5 1044.1 L880.4 1045.9 L882.2 1050.6"/>
<path d="M80.0 729.3 L85.5 734.8 L104.9 754.7 L104.9 758.4 L111.1 778.3 L119.8 782.0 L113.6 795.7 L127.2 811.9 L126.0 821.8 L116.0 829.3 L126.0 838.0 L129.7 849.1 L140.9 840.4 L152.1 840.4 L169.5 835.5 L176.9 830.5 L185.6 819.3 L194.3 820.6 L210.5 826.8 L220.4 841.7 L227.9 826.8 L226.7 818.1 L235.4 808.1 L237.8 801.9 L245.3 796.9 L254.0 794.5 L260.2 799.4 L272.6 801.9 L280.1 808.1 L292.5 806.9 L298.7 803.2 L307.4 808.1 L316.1 805.6 L317.4 788.2 L326.1 785.8 L341.0 795.7 L353.4 799.4 L353.9 799.8 L354.8 799.8"/>
</g>
</g>
<circle cx="155" cy="430.6" r="5.6" fill="#ff0000" stroke="#000" stroke-width="1"/>
<path d="M425.60 378.50 h7.8 M429.50 374.20 v8.6" stroke="#000" stroke-width="1.3" stroke-linecap="round"/>
<rect x="426.10" y="377.00" width="2" height="3" fill="#000"/><rect x="430.90" y="377.00" width="2" height="3" fill="#000"/>
<text x="397.1" y="367.7" font-size="19.8" font-weight="bold" fill="#000" stroke="#000" stroke-width="0.3" textLength="55.4" lengthAdjust="spacingAndGlyphs">Wiltz</text>
<path d="M535.55 498.45 h7.8 M539.45 494.15 v8.6" stroke="#000" stroke-width="1.3" stroke-linecap="round"/>
<rect x="536.05" y="496.95" width="2" height="3" fill="#000"/><rect x="540.85" y="496.95" width="2" height="3" fill="#000"/>
<text x="507.0" y="487.6" font-size="19.8" font-weight="bold" fill="#000" stroke="#000" stroke-width="0.3" textLength="113.5" lengthAdjust="spacingAndGlyphs">Ettelbruck</text>
<path d="M606.60 721.80 h7.8 M610.50 717.50 v8.6" stroke="#000" stroke-width="1.3" stroke-linecap="round"/>
<rect x="607.10" y="720.30" width="2" height="3" fill="#000"/><rect x="611.90" y="720.30" width="2" height="3" fill="#000"/>
<text x="578.0" y="711.0" font-size="19.8" font-weight="bold" fill="#000" stroke="#000" stroke-width="0.3" textLength="67.5" lengthAdjust="spacingAndGlyphs">Findel</text>
<path d="M463.40 848.60 h7.8 M467.30 844.30 v8.6" stroke="#000" stroke-width="1.3" stroke-linecap="round"/>
<rect x="463.90" y="847.10" width="2" height="3" fill="#000"/><rect x="468.70" y="847.10" width="2" height="3" fill="#000"/>
<text x="434.9" y="837.8" font-size="19.8" font-weight="bold" fill="#000" stroke="#000" stroke-width="0.3" textLength="135.3" lengthAdjust="spacingAndGlyphs">Esch/Alzette</text>
<rect x="94.7" y="50.8" width="246.7" height="49.1" fill="#fff" stroke="#000" stroke-width="1.1"/>
<text x="99.10" y="69.80" font-size="17.20" textLength="68.91" lengthAdjust="spacingAndGlyphs" stroke="#000" stroke-width="0.2">Product:</text><text x="173.31" y="69.80" font-size="17.20" textLength="34.85" lengthAdjust="spacingAndGlyphs" stroke="#000" stroke-width="0.2">2.1°</text><text x="213.46" y="69.80" font-size="17.20" textLength="51.49" lengthAdjust="spacingAndGlyphs" stroke="#000" stroke-width="0.2">Radial</text><text x="270.25" y="69.80" font-size="17.20" textLength="65.39" lengthAdjust="spacingAndGlyphs" stroke="#000" stroke-width="0.2">Velocity</text>
<text x="99.10" y="90.90" font-size="17.20" textLength="45.42" lengthAdjust="spacingAndGlyphs" stroke="#000" stroke-width="0.2">Data:</text><text x="149.82" y="90.90" font-size="17.20" textLength="42.32" lengthAdjust="spacingAndGlyphs" stroke="#000" stroke-width="0.2">RMIB</text>
<rect x="85.5" y="45.5" width="907" height="1001" fill="none" stroke="#000" stroke-width="1.1"/>
<text x="9.2" y="101.0" font-size="17.4" stroke="#000" stroke-width="0.2" textLength="68.5" lengthAdjust="spacingAndGlyphs">50.25°N</text>
<text x="19.8" y="251.9" font-size="17.4" stroke="#000" stroke-width="0.2" textLength="57.9" lengthAdjust="spacingAndGlyphs">50.1°N</text>
<text x="9.2" y="402.9" font-size="17.4" stroke="#000" stroke-width="0.2" textLength="68.5" lengthAdjust="spacingAndGlyphs">49.95°N</text>
<text x="19.8" y="552.9" font-size="17.4" stroke="#000" stroke-width="0.2" textLength="57.9" lengthAdjust="spacingAndGlyphs">49.8°N</text>
<text x="9.2" y="702.9" font-size="17.4" stroke="#000" stroke-width="0.2" textLength="68.5" lengthAdjust="spacingAndGlyphs">49.65°N</text>
<text x="19.8" y="852.9" font-size="17.4" stroke="#000" stroke-width="0.2" textLength="57.9" lengthAdjust="spacingAndGlyphs">49.5°N</text>
<text x="9.2" y="1000.9" font-size="17.4" stroke="#000" stroke-width="0.2" textLength="68.5" lengthAdjust="spacingAndGlyphs">49.35°N</text>
<text x="193.1" y="1066.9" font-size="17.4" stroke="#000" stroke-width="0.2" textLength="45.4" lengthAdjust="spacingAndGlyphs">5.6°E</text>
<text x="322.1" y="1066.9" font-size="17.4" stroke="#000" stroke-width="0.2" textLength="45.4" lengthAdjust="spacingAndGlyphs">5.8°E</text>
<text x="460.1" y="1066.9" font-size="17.4" stroke="#000" stroke-width="0.2" textLength="29.5" lengthAdjust="spacingAndGlyphs">6°E</text>
<text x="582.1" y="1066.9" font-size="17.4" stroke="#000" stroke-width="0.2" textLength="45.4" lengthAdjust="spacingAndGlyphs">6.2°E</text>
<text x="711.4" y="1066.9" font-size="17.4" stroke="#000" stroke-width="0.2" textLength="45.4" lengthAdjust="spacingAndGlyphs">6.4°E</text>
<text x="841.0" y="1066.9" font-size="17.4" stroke="#000" stroke-width="0.2" textLength="45.4" lengthAdjust="spacingAndGlyphs">6.6°E</text>
<rect x="1050.5" y="95.50" width="45" height="15.62" fill="#FF9F5A"/>
<rect x="1050.5" y="110.52" width="45" height="15.62" fill="#FFA262"/>
<rect x="1050.5" y="125.53" width="45" height="15.62" fill="#FFAA6C"/>
<rect x="1050.5" y="140.55" width="45" height="15.62" fill="#FFB676"/>
<rect x="1050.5" y="155.57" width="45" height="15.62" fill="#FFC080"/>
<rect x="1050.5" y="170.58" width="45" height="15.62" fill="#FFD08C"/>
<rect x="1050.5" y="185.60" width="45" height="15.62" fill="#FFE498"/>
<rect x="1050.5" y="200.62" width="45" height="15.62" fill="#FFD4A8"/>
<rect x="1050.5" y="215.63" width="45" height="15.62" fill="#FFB0C0"/>
<rect x="1050.5" y="230.65" width="45" height="15.62" fill="#FFA0C8"/>
<rect x="1050.5" y="245.67" width="45" height="15.62" fill="#FF88D0"/>
<rect x="1050.5" y="260.68" width="45" height="15.62" fill="#FF80C0"/>
<rect x="1050.5" y="275.70" width="45" height="15.62" fill="#FF70A8"/>
<rect x="1050.5" y="290.72" width="45" height="15.62" fill="#FF6090"/>
<rect x="1050.5" y="305.73" width="45" height="15.62" fill="#FF5580"/>
<rect x="1050.5" y="320.75" width="45" height="15.62" fill="#FF4060"/>
<rect x="1050.5" y="335.77" width="45" height="15.62" fill="#FF0010"/>
<rect x="1050.5" y="350.78" width="45" height="15.62" fill="#E0000F"/>
<rect x="1050.5" y="365.80" width="45" height="15.62" fill="#D0000F"/>
<rect x="1050.5" y="380.82" width="45" height="15.62" fill="#C80010"/>
<rect x="1050.5" y="395.83" width="45" height="15.62" fill="#B80010"/>
<rect x="1050.5" y="410.85" width="45" height="15.62" fill="#A8000C"/>
<rect x="1050.5" y="425.87" width="45" height="15.62" fill="#98000A"/>
<rect x="1050.5" y="440.88" width="45" height="15.62" fill="#880008"/>
<rect x="1050.5" y="455.90" width="45" height="15.62" fill="#780004"/>
<rect x="1050.5" y="470.92" width="45" height="15.62" fill="#6E0000"/>
<rect x="1050.5" y="485.93" width="45" height="15.62" fill="#884450"/>
<rect x="1050.5" y="500.95" width="45" height="15.62" fill="#8A5C68"/>
<rect x="1050.5" y="515.97" width="45" height="15.62" fill="#8A6C78"/>
<rect x="1050.5" y="530.98" width="45" height="15.62" fill="#8A7A7A"/>
<rect x="1050.5" y="546.00" width="45" height="15.62" fill="#7A8A78"/>
<rect x="1050.5" y="561.02" width="45" height="15.62" fill="#6E8A6E"/>
<rect x="1050.5" y="576.03" width="45" height="15.62" fill="#5F8060"/>
<rect x="1050.5" y="591.05" width="45" height="15.62" fill="#006400"/>
<rect x="1050.5" y="606.07" width="45" height="15.62" fill="#006E00"/>
<rect x="1050.5" y="621.08" width="45" height="15.62" fill="#007800"/>
<rect x="1050.5" y="636.10" width="45" height="15.62" fill="#008200"/>
<rect x="1050.5" y="651.12" width="45" height="15.62" fill="#008C00"/>
<rect x="1050.5" y="666.13" width="45" height="15.62" fill="#009A00"/>
<rect x="1050.5" y="681.15" width="45" height="15.62" fill="#00A800"/>
<rect x="1050.5" y="696.17" width="45" height="15.62" fill="#00B400"/>
<rect x="1050.5" y="711.18" width="45" height="15.62" fill="#00C400"/>
<rect x="1050.5" y="726.20" width="45" height="15.62" fill="#00D000"/>
<rect x="1050.5" y="741.22" width="45" height="15.62" fill="#00E000"/>
<rect x="1050.5" y="756.23" width="45" height="15.62" fill="#20F020"/>
<rect x="1050.5" y="771.25" width="45" height="15.62" fill="#50F050"/>
<rect x="1050.5" y="786.27" width="45" height="15.62" fill="#60EE70"/>
<rect x="1050.5" y="801.28" width="45" height="15.62" fill="#90F0B0"/>
<rect x="1050.5" y="816.30" width="45" height="15.62" fill="#B8EEEE"/>
<rect x="1050.5" y="831.32" width="45" height="15.62" fill="#A8EAF0"/>
<rect x="1050.5" y="846.33" width="45" height="15.62" fill="#90E6EE"/>
<rect x="1050.5" y="861.35" width="45" height="15.62" fill="#80E2E8"/>
<rect x="1050.5" y="876.37" width="45" height="15.62" fill="#70DEE4"/>
<rect x="1050.5" y="891.38" width="45" height="15.62" fill="#60DCE0"/>
<rect x="1050.5" y="906.40" width="45" height="15.62" fill="#50DADE"/>
<rect x="1050.5" y="921.42" width="45" height="15.62" fill="#40DCDE"/>
<rect x="1050.5" y="936.43" width="45" height="15.62" fill="#30DEDE"/>
<rect x="1050.5" y="951.45" width="45" height="15.62" fill="#22B8D0"/>
<rect x="1050.5" y="966.47" width="45" height="15.62" fill="#2298CC"/>
<rect x="1050.5" y="981.48" width="45" height="15.02" fill="#1F80C0"/>
<rect x="1050.5" y="95.5" width="45" height="901" fill="none" stroke="#000" stroke-width="1.1"/>
<path d="M1095.5 95.5 h4.8" stroke="#000" stroke-width="1.1"/>
<text x="1105.5" y="105.8" font-size="28.5" stroke="#000" stroke-width="0.35" textLength="35.4" lengthAdjust="spacingAndGlyphs">60</text>
<path d="M1095.5 170.6 h4.8" stroke="#000" stroke-width="1.1"/>
<text x="1105.5" y="180.9" font-size="28.5" stroke="#000" stroke-width="0.35" textLength="35.4" lengthAdjust="spacingAndGlyphs">50</text>
<path d="M1095.5 245.7 h4.8" stroke="#000" stroke-width="1.1"/>
<text x="1105.5" y="256.0" font-size="28.5" stroke="#000" stroke-width="0.35" textLength="35.4" lengthAdjust="spacingAndGlyphs">40</text>
<path d="M1095.5 320.8 h4.8" stroke="#000" stroke-width="1.1"/>
<text x="1105.5" y="331.1" font-size="28.5" stroke="#000" stroke-width="0.35" textLength="35.4" lengthAdjust="spacingAndGlyphs">30</text>
<path d="M1095.5 395.8 h4.8" stroke="#000" stroke-width="1.1"/>
<text x="1105.5" y="406.1" font-size="28.5" stroke="#000" stroke-width="0.35" textLength="35.4" lengthAdjust="spacingAndGlyphs">20</text>
<path d="M1095.5 470.9 h4.8" stroke="#000" stroke-width="1.1"/>
<text x="1105.5" y="481.2" font-size="28.5" stroke="#000" stroke-width="0.35" textLength="35.4" lengthAdjust="spacingAndGlyphs">10</text>
<path d="M1095.5 546.0 h4.8" stroke="#000" stroke-width="1.1"/>
<text x="1105.5" y="556.3" font-size="28.5" stroke="#000" stroke-width="0.35" textLength="17.7" lengthAdjust="spacingAndGlyphs">0</text>
<path d="M1095.5 621.1 h4.8" stroke="#000" stroke-width="1.1"/>
<text x="1105.5" y="631.4" font-size="28.5" stroke="#000" stroke-width="0.35" textLength="58.7" lengthAdjust="spacingAndGlyphs">−10</text>
<path d="M1095.5 696.2 h4.8" stroke="#000" stroke-width="1.1"/>
<text x="1105.5" y="706.5" font-size="28.5" stroke="#000" stroke-width="0.35" textLength="58.7" lengthAdjust="spacingAndGlyphs">−20</text>
<path d="M1095.5 771.2 h4.8" stroke="#000" stroke-width="1.1"/>
<text x="1105.5" y="781.5" font-size="28.5" stroke="#000" stroke-width="0.35" textLength="58.7" lengthAdjust="spacingAndGlyphs">−30</text>
<path d="M1095.5 846.3 h4.8" stroke="#000" stroke-width="1.1"/>
<text x="1105.5" y="856.6" font-size="28.5" stroke="#000" stroke-width="0.35" textLength="58.7" lengthAdjust="spacingAndGlyphs">−40</text>
<path d="M1095.5 921.4 h4.8" stroke="#000" stroke-width="1.1"/>
<text x="1105.5" y="931.7" font-size="28.5" stroke="#000" stroke-width="0.35" textLength="58.7" lengthAdjust="spacingAndGlyphs">−50</text>
<path d="M1095.5 996.5 h4.8" stroke="#000" stroke-width="1.1"/>
<text x="1105.5" y="1006.8" font-size="28.5" stroke="#000" stroke-width="0.35" textLength="58.7" lengthAdjust="spacingAndGlyphs">−60</text>
<text transform="translate(1192.5,548.3) rotate(-90)" font-size="28.5" stroke="#000" stroke-width="0.35" x="-25.5" textLength="50.9" lengthAdjust="spacingAndGlyphs">m/s</text>
</svg></body></html>
